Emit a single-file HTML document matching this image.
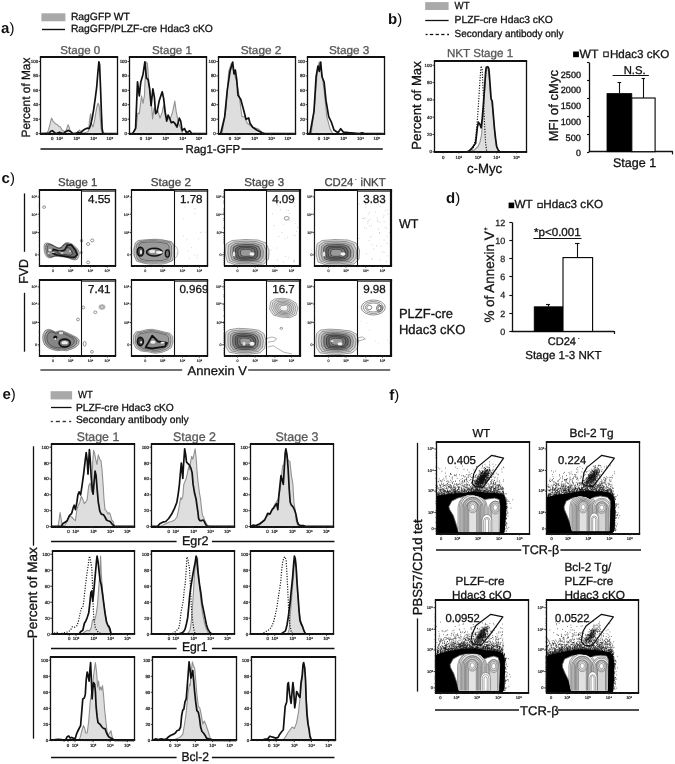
<!DOCTYPE html>
<html><head><meta charset="utf-8"><style>
html,body{margin:0;padding:0;background:#fff;overflow:hidden}
svg{display:block;filter:blur(0.35px)}
text{font-family:"Liberation Sans",sans-serif;text-rendering:geometricPrecision}
</style></head><body>
<svg xmlns="http://www.w3.org/2000/svg" width="675" height="764" viewBox="0 0 675 764" font-family="Liberation Sans, sans-serif">
<rect width="675" height="764" fill="#fff"/>
<text x="1.1" y="32.8" font-size="15" fill="#111"><tspan font-weight="bold">a</tspan>)</text>
<rect x="41.40" y="13.30" width="24.00" height="8.00" fill="#a9a9a9" stroke="none" stroke-width="0"/>
<line x1="42.00" y1="29.50" x2="65.00" y2="29.50" stroke="#111" stroke-width="1.4"/>
<text x="70.90" y="20.40" font-size="10.4" fill="#111" stroke="#111" stroke-width="0.3" textLength="59.03" lengthAdjust="spacingAndGlyphs">RagGFP WT</text>
<text x="70.90" y="31.50" font-size="10.4" fill="#111" stroke="#111" stroke-width="0.3" textLength="141.96" lengthAdjust="spacingAndGlyphs">RagGFP/PLZF-cre Hdac3 cKO</text>
<text x="60.30" y="54.20" font-size="11.4" fill="#585858" stroke="#585858" stroke-width="0.3" textLength="40.00" lengthAdjust="spacingAndGlyphs">Stage 0</text>
<text x="152.10" y="54.20" font-size="11.4" fill="#585858" stroke="#585858" stroke-width="0.3" textLength="39.80" lengthAdjust="spacingAndGlyphs">Stage 1</text>
<text x="240.70" y="54.20" font-size="11.4" fill="#585858" stroke="#585858" stroke-width="0.3" textLength="40.70" lengthAdjust="spacingAndGlyphs">Stage 2</text>
<text x="328.90" y="54.20" font-size="11.4" fill="#585858" stroke="#585858" stroke-width="0.3" textLength="40.50" lengthAdjust="spacingAndGlyphs">Stage 3</text>
<text x="30.00" y="137.40" font-size="12" fill="#111" stroke="#111" stroke-width="0.3" textLength="79.80" lengthAdjust="spacingAndGlyphs" transform="rotate(-90 30.00 137.40)">Percent of Max</text>
<line x1="40.50" y1="149.00" x2="183.00" y2="149.00" stroke="#111" stroke-width="1.7"/>
<line x1="241.50" y1="149.00" x2="382.80" y2="149.00" stroke="#111" stroke-width="1.7"/>
<text x="185.40" y="153.00" font-size="11.6" fill="#111" stroke="#111" stroke-width="0.3" textLength="54.84" lengthAdjust="spacingAndGlyphs">Rag1-GFP</text>
<text x="388" y="23.9" font-size="15" fill="#111"><tspan font-weight="bold">b</tspan>)</text>
<rect x="425.20" y="2.10" width="23.40" height="7.90" fill="#a9a9a9" stroke="none" stroke-width="0"/>
<line x1="425.20" y1="20.50" x2="448.60" y2="20.50" stroke="#111" stroke-width="1.3"/>
<line x1="425.60" y1="34.50" x2="427.60" y2="34.50" stroke="#111" stroke-width="1.3"/>
<line x1="429.80" y1="34.50" x2="433.20" y2="34.50" stroke="#111" stroke-width="1.3"/>
<line x1="435.60" y1="34.50" x2="438.90" y2="34.50" stroke="#111" stroke-width="1.3"/>
<line x1="441.20" y1="34.50" x2="444.50" y2="34.50" stroke="#111" stroke-width="1.3"/>
<line x1="447.20" y1="34.50" x2="449.00" y2="34.50" stroke="#111" stroke-width="1.3"/>
<text x="454.60" y="8.70" font-size="10.3" fill="#111" stroke="#111" stroke-width="0.3" textLength="15.01" lengthAdjust="spacingAndGlyphs">WT</text>
<text x="454.60" y="22.80" font-size="10.3" fill="#111" stroke="#111" stroke-width="0.3" textLength="98.25" lengthAdjust="spacingAndGlyphs">PLZF-cre Hdac3 cKO</text>
<text x="454.60" y="36.90" font-size="10.3" fill="#111" stroke="#111" stroke-width="0.3" textLength="108.90" lengthAdjust="spacingAndGlyphs">Secondary antibody only</text>
<text x="447.00" y="57.40" font-size="11.6" fill="#585858" stroke="#585858" stroke-width="0.3" textLength="66.10" lengthAdjust="spacingAndGlyphs">NKT Stage 1</text>
<text x="420.80" y="149.70" font-size="13.2" fill="#111" stroke="#111" stroke-width="0.3" textLength="88.47" lengthAdjust="spacingAndGlyphs" transform="rotate(-90 420.80 149.70)">Percent of Max</text>
<text x="466.90" y="172.50" font-size="13.4" fill="#111" stroke="#111" stroke-width="0.3" textLength="35.22" lengthAdjust="spacingAndGlyphs">c-Myc</text>
<line x1="589.50" y1="62.60" x2="589.50" y2="152.00" stroke="#111" stroke-width="1.3"/>
<line x1="588.70" y1="151.50" x2="672.80" y2="151.50" stroke="#111" stroke-width="1.3"/>
<line x1="672.50" y1="151.20" x2="672.50" y2="154.40" stroke="#111" stroke-width="1.2"/>
<line x1="587.00" y1="152.50" x2="589.30" y2="152.50" stroke="#111" stroke-width="1.1"/>
<line x1="587.00" y1="134.50" x2="589.30" y2="134.50" stroke="#111" stroke-width="1.1"/>
<line x1="587.00" y1="116.50" x2="589.30" y2="116.50" stroke="#111" stroke-width="1.1"/>
<line x1="587.00" y1="98.50" x2="589.30" y2="98.50" stroke="#111" stroke-width="1.1"/>
<line x1="587.00" y1="80.50" x2="589.30" y2="80.50" stroke="#111" stroke-width="1.1"/>
<line x1="587.00" y1="62.50" x2="589.30" y2="62.50" stroke="#111" stroke-width="1.1"/>
<text x="576.00" y="156.10" font-size="9.1" fill="#111" stroke="#111" stroke-width="0.3" textLength="4.96" lengthAdjust="spacingAndGlyphs">0</text>
<text x="565.60" y="140.60" font-size="9.1" fill="#111" stroke="#111" stroke-width="0.3" textLength="15.38" lengthAdjust="spacingAndGlyphs">500</text>
<text x="560.80" y="124.50" font-size="9.1" fill="#111" stroke="#111" stroke-width="0.3" textLength="20.24" lengthAdjust="spacingAndGlyphs">1000</text>
<text x="560.80" y="109.10" font-size="9.1" fill="#111" stroke="#111" stroke-width="0.3" textLength="20.24" lengthAdjust="spacingAndGlyphs">1500</text>
<text x="560.80" y="93.20" font-size="9.1" fill="#111" stroke="#111" stroke-width="0.3" textLength="20.24" lengthAdjust="spacingAndGlyphs">2000</text>
<text x="560.80" y="78.10" font-size="9.1" fill="#111" stroke="#111" stroke-width="0.3" textLength="20.24" lengthAdjust="spacingAndGlyphs">2500</text>
<rect x="607.00" y="93.60" width="24.80" height="58.10" fill="#000" stroke="#000" stroke-width="0.8"/>
<rect x="631.80" y="98.00" width="23.30" height="53.70" fill="#fff" stroke="#000" stroke-width="1.1"/>
<line x1="619.50" y1="82.50" x2="619.50" y2="93.60" stroke="#111" stroke-width="1.1"/>
<line x1="617.50" y1="82.50" x2="621.20" y2="82.50" stroke="#111" stroke-width="1.1"/>
<line x1="643.50" y1="78.90" x2="643.50" y2="98.00" stroke="#111" stroke-width="1.1"/>
<line x1="641.60" y1="78.50" x2="644.90" y2="78.50" stroke="#111" stroke-width="1.1"/>
<line x1="612.60" y1="75.50" x2="648.90" y2="75.50" stroke="#111" stroke-width="1.2"/>
<text x="623.70" y="74.00" font-size="11.3" fill="#111" stroke="#111" stroke-width="0.3" textLength="21.98" lengthAdjust="spacingAndGlyphs">N.S.</text>
<rect x="573.10" y="51.50" width="5.80" height="5.70" fill="#000" stroke="none" stroke-width="0"/>
<text x="579.50" y="57.70" font-size="12.1" fill="#111" stroke="#111" stroke-width="0.3" textLength="18.91" lengthAdjust="spacingAndGlyphs">WT</text>
<rect x="603.80" y="52.00" width="4.40" height="4.70" fill="#fff" stroke="#000" stroke-width="1"/>
<text x="609.90" y="57.70" font-size="11.6" fill="#111" stroke="#111" stroke-width="0.3" textLength="59.42" lengthAdjust="spacingAndGlyphs">Hdac3 cKO</text>
<text x="557.80" y="141.30" font-size="13" fill="#111" stroke="#111" stroke-width="0.3" textLength="71.28" lengthAdjust="spacingAndGlyphs" transform="rotate(-90 557.80 141.30)">MFI of cMyc</text>
<text x="612.90" y="167.20" font-size="12.6" fill="#111" stroke="#111" stroke-width="0.3" textLength="43.24" lengthAdjust="spacingAndGlyphs">Stage 1</text>
<text x="1.6" y="183.1" font-size="15" fill="#111"><tspan font-weight="bold">c</tspan>)</text>
<path d="M44.3,244.3 L46.0,243.0 L48.7,243.3 L52.0,244.7 L55.3,246.7 L58.7,248.0 L61.3,247.3 L63.3,244.7 L66.0,242.7 L68.7,242.7 L72.0,244.0 L75.3,246.7 L78.0,249.3 L79.3,252.7 L78.7,256.7 L77.3,259.3 L74.7,260.0 L72.0,259.3 L68.7,258.0 L65.3,257.3 L61.3,256.7 L58.0,256.3 L54.7,256.3 L52.0,257.3 L49.3,258.0 L46.7,256.7 L45.0,254.0 L44.3,250.7 L44.0,247.3Z" fill="#c4c4c4" stroke="#555" stroke-width="0.6" stroke-linejoin="round"/>
<path d="M46.0,245.0 L47.5,243.8 L49.9,244.1 L52.9,245.3 L55.9,247.1 L58.9,248.3 L61.3,247.7 L63.1,245.3 L65.5,243.5 L67.9,243.5 L70.9,244.7 L73.9,247.1 L76.3,249.5 L77.5,252.5 L76.9,256.1 L75.7,258.5 L73.3,259.1 L70.9,258.5 L67.9,257.3 L64.9,256.7 L61.3,256.1 L58.3,255.8 L55.3,255.8 L52.9,256.7 L50.5,257.3 L48.1,256.1 L46.6,253.7 L46.0,250.7 L45.7,247.7Z" fill="#a2a2a2" stroke="#333" stroke-width="0.6" stroke-linejoin="round"/>
<path d="M47.6,245.7 L48.9,244.6 L51.1,244.9 L53.7,246.0 L56.4,247.6 L59.1,248.6 L61.2,248.1 L62.8,246.0 L64.9,244.4 L67.1,244.4 L69.7,245.4 L72.4,247.6 L74.5,249.7 L75.6,252.4 L75.1,255.6 L74.0,257.7 L71.9,258.2 L69.7,257.7 L67.1,256.6 L64.4,256.1 L61.2,255.6 L58.5,255.3 L55.9,255.3 L53.7,256.1 L51.6,256.6 L49.5,255.6 L48.1,253.4 L47.6,250.8 L47.3,248.1Z" fill="#8e8e8e" stroke="#333" stroke-width="0.6" stroke-linejoin="round"/>
<path d="M53.3,249.3 L60.0,251.3 L64.7,250.0 L67.3,245.3 L71.3,244.7 L75.3,250.0 L77.3,254.7 L74.7,257.3 L69.3,257.0 L62.7,256.0 L56.7,255.0 L52.7,253.3Z" fill="#6a6a6a" stroke="#111" stroke-width="1.6" stroke-linejoin="round"/>
<path d="M58.2,250.4 L62.2,251.6 L65.0,250.8 L66.6,248.0 L69.0,247.6 L71.4,250.8 L72.6,253.6 L71.0,255.2 L67.8,255.0 L63.8,254.4 L60.2,253.8 L57.8,252.8Z" fill="#8a8a8a" stroke="#222" stroke-width="0.7" stroke-linejoin="round"/>
<ellipse cx="50.0" cy="250.0" rx="1.6" ry="1.0" fill="#eee"/>
<ellipse cx="53.3" cy="252.3" rx="1.3" ry="0.8" fill="#eee"/>
<ellipse cx="62.0" cy="253.0" rx="1.5" ry="0.7" fill="#eee"/>
<ellipse cx="70.0" cy="251.3" rx="1.0" ry="0.8" fill="#eee"/>
<ellipse cx="48.7" cy="253.3" rx="1.0" ry="0.8" fill="#eee"/>
<ellipse cx="44.1" cy="207.1" rx="1.5" ry="1.3" fill="none" stroke="#555" stroke-width="0.6"/>
<ellipse cx="81.6" cy="240.7" rx="1.2" ry="1.3" fill="none" stroke="#555" stroke-width="0.6"/>
<ellipse cx="88.1" cy="244.0" rx="1.6" ry="1.5" fill="none" stroke="#555" stroke-width="0.6"/>
<ellipse cx="92.2" cy="240.4" rx="1.6" ry="1.5" fill="none" stroke="#555" stroke-width="0.6"/>
<ellipse cx="88.1" cy="262.4" rx="1.5" ry="1.4" fill="none" stroke="#555" stroke-width="0.6"/>
<ellipse cx="81.3" cy="252.6" rx="1.0" ry="1.3" fill="none" stroke="#555" stroke-width="0.6"/>
<path d="M135.2,243.1 L138.1,240.5 L144.8,239.8 L154.4,239.4 L163.3,240.1 L171.5,241.6 L173.7,245.3 L173.7,255.7 L172.2,260.9 L165.6,263.1 L154.4,263.5 L143.3,263.1 L136.7,261.3 L134.4,256.4 L134.1,248.3Z" fill="#cdcdcd" stroke="#555" stroke-width="0.55" stroke-linejoin="round"/>
<path d="M137.0,243.9 L139.6,241.5 L145.6,240.9 L154.3,240.5 L162.3,241.2 L169.6,242.5 L171.6,245.9 L171.6,255.2 L170.3,259.9 L164.3,261.9 L154.3,262.2 L144.3,261.9 L138.3,260.2 L136.3,255.9 L136.0,248.5Z" fill="#adadad" stroke="#444" stroke-width="0.5" stroke-linejoin="round"/>
<path d="M139.1,244.8 L141.4,242.8 L146.6,242.2 L154.1,241.9 L161.1,242.5 L167.4,243.7 L169.2,246.5 L169.2,254.6 L168.0,258.7 L162.8,260.4 L154.1,260.7 L145.5,260.4 L140.3,259.0 L138.5,255.2 L138.2,248.9Z" fill="#9a9a9a" stroke="#333" stroke-width="0.5" stroke-linejoin="round"/>
<ellipse cx="140.4" cy="251.6" rx="3.1" ry="4.4" fill="#555" stroke="#111" stroke-width="1.6"/>
<ellipse cx="141.0" cy="252.0" rx="1.0" ry="2.2" fill="#eee"/>
<ellipse cx="154.4" cy="252.1" rx="7.8" ry="3.9" fill="#8a8a8a" stroke="#111" stroke-width="1.6"/>
<ellipse cx="152.2" cy="251.4" rx="3.0" ry="1.6" fill="#e8e8e8"/>
<ellipse cx="159.3" cy="252.4" rx="3.3" ry="1.3" fill="#f4f4f4"/>
<ellipse cx="167.4" cy="253.5" rx="2.1" ry="3.6" fill="#777" stroke="#111" stroke-width="1.3"/>
<ellipse cx="155.5" cy="252.0" rx="22.5" ry="12.8" fill="none" stroke="#777" stroke-width="0.5"/>
<path transform="scale(0.1)" d="M1829 2363h6m32 34h6m68-307h6m-183 440h6m65-343h6m208 134h6m-52 4h6m-64-186h6m-7 409h6m-38-72h6m37-387h6m19 301h6m-139-319h6m158 251h6m-49 232h6m-7 24h6m-98-68h6m8 76h6" stroke="#999" stroke-width="6" fill="none"/>
<path d="M226.0,244.0 L232.0,240.5 L245.0,239.5 L258.0,240.0 L266.0,243.0 L269.0,250.0 L268.5,259.0 L264.0,264.0 L250.0,265.3 L236.0,265.0 L227.5,262.0 L225.3,254.0Z" fill="#e4e4e4" stroke="#555" stroke-width="0.55" stroke-linejoin="round"/>
<path d="M228.4,245.1 L233.7,242.0 L245.1,241.1 L256.5,241.6 L263.6,244.2 L266.2,250.4 L265.8,258.3 L261.8,262.7 L249.5,263.8 L237.2,263.5 L229.7,260.9 L227.8,253.9Z" fill="#cbcbcb" stroke="#555" stroke-width="0.55" stroke-linejoin="round"/>
<path d="M230.9,246.2 L235.4,243.5 L245.2,242.8 L255.1,243.2 L261.1,245.4 L263.4,250.7 L263.0,257.5 L259.6,261.3 L249.0,262.3 L238.4,262.1 L232.0,259.8 L230.3,253.8Z" fill="#adadad" stroke="#555" stroke-width="0.55" stroke-linejoin="round"/>
<path d="M233.3,247.3 L237.1,245.1 L245.4,244.4 L253.6,244.7 L258.7,246.6 L260.6,251.1 L260.3,256.8 L257.4,260.0 L248.5,260.8 L239.6,260.6 L234.2,258.7 L232.8,253.6Z" fill="#858585" stroke="#1a1a1a" stroke-width="0.55" stroke-linejoin="round"/>
<path d="M235.7,248.4 L238.8,246.6 L245.5,246.1 L252.2,246.3 L256.3,247.9 L257.8,251.5 L257.6,256.1 L255.3,258.7 L248.1,259.3 L240.9,259.2 L236.5,257.6 L235.4,253.5Z" fill="#666" stroke="#1a1a1a" stroke-width="0.55" stroke-linejoin="round"/>
<path d="M238.1,249.5 L240.5,248.1 L245.6,247.7 L250.7,247.9 L253.9,249.1 L255.0,251.8 L254.8,255.4 L253.1,257.3 L247.6,257.8 L242.1,257.7 L238.7,256.5 L237.9,253.4Z" fill="#7a7a7a" stroke="#1a1a1a" stroke-width="0.55" stroke-linejoin="round"/>
<path d="M240.6,250.6 L242.2,249.6 L245.7,249.3 L249.3,249.5 L251.4,250.3 L252.2,252.2 L252.1,254.6 L250.9,256.0 L247.1,256.3 L243.3,256.3 L241.0,255.4 L240.4,253.3Z" fill="#999" stroke="#1a1a1a" stroke-width="0.55" stroke-linejoin="round"/>
<ellipse cx="252.0" cy="254.0" rx="2.5" ry="1.8" fill="#f2f2f2"/>
<ellipse cx="234.0" cy="254.0" rx="1.3" ry="2.5" fill="#e6e6e6"/>
<ellipse cx="286.7" cy="218.3" rx="2.5" ry="1.8" fill="none" stroke="#555" stroke-width="0.6"/>
<path transform="scale(0.1)" d="M2944 2063h6m-229 75h6m243 135h6m-108-83h6m-42 52h6m-53 124h6m64 198h6m24 15h6m46 38h6m-62-513h6m51 497h6m7-245h6m-63-222h6m29 225h6m-170-317h6m165 575h6m-235-118h6m90-403h6m-41 384h6m168-450h6m-84 1h6m26 177h6m42 403h6m-118 11h6m-65-571h6m81-29h6m-127 234h6m118-156h6m-176 441h6m75 56h6m169-360h6m-137 88h6m49 47h6m-31 15h6m108-70h6" stroke="#888" stroke-width="6" fill="none"/>
<path d="M317.0,244.0 L322.0,240.5 L335.0,239.5 L348.0,240.0 L356.0,243.0 L359.5,250.0 L359.0,259.0 L354.0,264.0 L340.0,265.3 L326.0,265.0 L318.0,262.0 L316.0,254.0Z" fill="#e4e4e4" stroke="#555" stroke-width="0.55" stroke-linejoin="round"/>
<path d="M319.3,245.1 L323.7,242.0 L335.1,241.1 L346.5,241.6 L353.6,244.2 L356.6,250.4 L356.2,258.3 L351.8,262.7 L339.5,263.8 L327.2,263.5 L320.2,260.9 L318.4,253.9Z" fill="#cbcbcb" stroke="#555" stroke-width="0.55" stroke-linejoin="round"/>
<path d="M321.6,246.2 L325.4,243.5 L335.2,242.8 L345.1,243.2 L351.1,245.4 L353.8,250.7 L353.4,257.5 L349.6,261.3 L339.0,262.3 L328.4,262.1 L322.4,259.8 L320.9,253.8Z" fill="#adadad" stroke="#555" stroke-width="0.55" stroke-linejoin="round"/>
<path d="M323.9,247.3 L327.1,245.1 L335.4,244.4 L343.6,244.7 L348.7,246.6 L350.9,251.1 L350.6,256.8 L347.4,260.0 L338.5,260.8 L329.6,260.6 L324.6,258.7 L323.3,253.6Z" fill="#858585" stroke="#1a1a1a" stroke-width="0.55" stroke-linejoin="round"/>
<path d="M326.2,248.4 L328.8,246.6 L335.5,246.1 L342.2,246.3 L346.3,247.9 L348.1,251.5 L347.8,256.1 L345.3,258.7 L338.1,259.3 L330.9,259.2 L326.7,257.6 L325.7,253.5Z" fill="#666" stroke="#1a1a1a" stroke-width="0.55" stroke-linejoin="round"/>
<path d="M328.5,249.5 L330.5,248.1 L335.6,247.7 L340.7,247.9 L343.9,249.1 L345.2,251.8 L345.0,255.4 L343.1,257.3 L337.6,257.8 L332.1,257.7 L328.9,256.5 L328.1,253.4Z" fill="#7a7a7a" stroke="#1a1a1a" stroke-width="0.55" stroke-linejoin="round"/>
<path d="M330.8,250.6 L332.2,249.6 L335.7,249.3 L339.3,249.5 L341.4,250.3 L342.4,252.2 L342.2,254.6 L340.9,256.0 L337.1,256.3 L333.3,256.3 L331.1,255.4 L330.6,253.3Z" fill="#999" stroke="#1a1a1a" stroke-width="0.55" stroke-linejoin="round"/>
<ellipse cx="343.0" cy="254.0" rx="2.5" ry="1.8" fill="#f2f2f2"/>
<ellipse cx="324.0" cy="254.0" rx="1.3" ry="2.5" fill="#e6e6e6"/>
<path transform="scale(0.1)" d="M3718 2450h6m-68-260h6m231 136h6m-144-316h6m-48 353h6m-133 22h6m190-345h6m-7 252h6m10-70h6m3 239h6m-225-420h6m203 559h6m-142-314h6m104-85h6m-80-4h6m-4 175h6m-28-135h6m145-217h6m-71 439h6m-89-318h6m152 10h6m-203 122h6m157-207h6m-126 144h6m158 65h6m1-167h6m-172 298h6m169-123h6m-217-205h6m91 43h6m83 402h6m-205-347h6m193 225h6m-6-184h6m-222-33h6m206-13h6m-149 90h6m17-4h6m155-157h6m-300 488h6m275 27h6m-149-23h6m152-451h6m-64 381h6m-33-197h6m-126-111h6m-25-169h6m109 136h6m65-150h6m24 402h6m1 126h6m-14-198h6m-290 104h6m45-276h6m151 139h6m-86 257h6m58-370h6m-121 322h6m66-49h6m-46-363h6" stroke="#888" stroke-width="6" fill="none"/>
<path d="M43.3,333.7 L45.3,330.3 L48.7,329.3 L52.0,330.3 L55.3,332.0 L58.7,331.0 L62.0,330.7 L65.3,332.0 L69.3,333.7 L73.3,335.7 L77.3,337.7 L79.3,340.3 L78.7,344.3 L76.0,347.0 L72.0,349.0 L66.7,350.7 L62.0,350.3 L57.3,350.7 L52.7,349.7 L48.0,347.7 L44.7,345.0 L43.0,341.0 L42.7,337.0Z" fill="#bdbdbd" stroke="#555" stroke-width="0.6" stroke-linejoin="round"/>
<path d="M45.3,334.4 L47.1,331.4 L50.0,330.6 L52.9,331.4 L55.9,332.9 L58.8,332.0 L61.7,331.7 L64.7,332.9 L68.2,334.4 L71.7,336.1 L75.2,337.9 L77.0,340.2 L76.4,343.8 L74.0,346.1 L70.5,347.9 L65.8,349.3 L61.7,349.0 L57.6,349.3 L53.5,348.4 L49.4,346.7 L46.5,344.3 L45.0,340.8 L44.7,337.3Z" fill="#9c9c9c" stroke="#333" stroke-width="0.6" stroke-linejoin="round"/>
<path d="M47.4,335.1 L48.9,332.6 L51.4,331.9 L53.9,332.6 L56.4,333.9 L58.9,333.1 L61.4,332.9 L63.9,333.9 L66.9,335.1 L69.9,336.6 L72.9,338.1 L74.4,340.1 L73.9,343.1 L71.9,345.1 L68.9,346.6 L64.9,347.9 L61.4,347.6 L57.9,347.9 L54.4,347.1 L50.9,345.6 L48.4,343.6 L47.2,340.6 L46.9,337.6Z" fill="#868686" stroke="#333" stroke-width="0.6" stroke-linejoin="round"/>
<ellipse cx="64.7" cy="343.0" rx="5.6" ry="3.9" fill="#777" stroke="#111" stroke-width="1.6"/>
<ellipse cx="64.7" cy="342.7" rx="3.2" ry="1.6" fill="#eee"/>
<ellipse cx="55.3" cy="337.3" rx="2.0" ry="1.8" fill="#111"/>
<ellipse cx="55.3" cy="338.9" rx="0.9" ry="0.8" fill="#fff"/>
<ellipse cx="61.0" cy="333.0" rx="2.2" ry="1.2" fill="#ddd"/>
<ellipse cx="102.0" cy="307.0" rx="3" ry="2.2" fill="none" stroke="#555" stroke-width="0.6"/>
<ellipse cx="102.0" cy="307.0" rx="1.6" ry="1.2" fill="none" stroke="#555" stroke-width="0.6"/>
<ellipse cx="95.3" cy="312.3" rx="1.6" ry="1.3" fill="none" stroke="#555" stroke-width="0.6"/>
<ellipse cx="83.3" cy="307.5" rx="1.4" ry="1.4" fill="none" stroke="#555" stroke-width="0.6"/>
<ellipse cx="78.0" cy="319.5" rx="1.4" ry="1.4" fill="none" stroke="#555" stroke-width="0.6"/>
<ellipse cx="91.9" cy="351.8" rx="1.4" ry="1.4" fill="none" stroke="#555" stroke-width="0.6"/>
<ellipse cx="84.7" cy="343.8" rx="1.4" ry="2.5" fill="none" stroke="#555" stroke-width="0.6"/>
<path d="M133.7,334.8 L135.9,331.9 L141.1,331.1 L147.0,329.6 L152.2,329.3 L158.1,330.4 L164.1,331.9 L170.0,333.3 L172.6,336.3 L173.0,342.2 L171.5,347.4 L167.0,350.4 L161.1,352.6 L154.4,353.3 L148.5,351.9 L141.1,351.1 L135.9,348.1 L133.3,343.0Z" fill="#cdcdcd" stroke="#555" stroke-width="0.55" stroke-linejoin="round"/>
<path d="M135.7,335.4 L137.7,332.7 L142.3,332.0 L147.7,330.7 L152.3,330.4 L157.7,331.4 L163.0,332.7 L168.3,334.0 L170.7,336.7 L171.0,342.0 L169.7,346.7 L165.7,349.4 L160.3,351.4 L154.3,352.0 L149.0,350.7 L142.3,350.0 L137.7,347.4 L135.3,342.7Z" fill="#adadad" stroke="#444" stroke-width="0.5" stroke-linejoin="round"/>
<path d="M138.0,336.1 L139.8,333.7 L143.8,333.2 L148.4,332.0 L152.5,331.7 L157.1,332.6 L161.7,333.7 L166.3,334.9 L168.4,337.2 L168.7,341.8 L167.5,345.9 L164.0,348.2 L159.4,349.9 L154.2,350.5 L149.6,349.3 L143.8,348.8 L139.8,346.5 L137.7,342.4Z" fill="#9a9a9a" stroke="#333" stroke-width="0.5" stroke-linejoin="round"/>
<ellipse cx="140.4" cy="341.5" rx="3.0" ry="4.1" fill="#444" stroke="#111" stroke-width="1.6"/>
<ellipse cx="141.1" cy="342.2" rx="0.9" ry="1.3" fill="#eee"/>
<path d="M145.6,347.4 L152.2,335.6 L158.1,341.5 L167.0,343.0 L164.8,346.7 L152.2,348.5Z" fill="#8a8a8a" stroke="#111" stroke-width="1.8" stroke-linejoin="round"/>
<ellipse cx="153.0" cy="342.2" rx="2.6" ry="1.6" fill="#eee"/>
<ellipse cx="162.6" cy="342.8" rx="2.2" ry="1.0" fill="#f0f0f0"/>
<path d="M225.9,332.3 L229.3,329.7 L238.7,328.3 L249.3,328.9 L258.7,330.2 L264.0,333.7 L265.9,340.3 L264.8,348.3 L260.0,352.9 L249.3,354.2 L238.7,353.9 L229.3,352.3 L225.9,347.0 L225.3,339.0Z" fill="#e4e4e4" stroke="#555" stroke-width="0.55" stroke-linejoin="round"/>
<path d="M228.2,333.5 L231.3,331.1 L239.5,330.0 L248.8,330.4 L257.0,331.6 L261.7,334.6 L263.4,340.5 L262.4,347.5 L258.2,351.5 L248.8,352.7 L239.5,352.4 L231.3,351.0 L228.2,346.4 L227.8,339.3Z" fill="#cbcbcb" stroke="#555" stroke-width="0.55" stroke-linejoin="round"/>
<path d="M230.6,334.6 L233.2,332.6 L240.3,331.6 L248.4,332.0 L255.4,333.0 L259.5,335.6 L260.9,340.7 L260.1,346.7 L256.4,350.1 L248.4,351.2 L240.3,351.0 L233.2,349.7 L230.6,345.7 L230.2,339.6Z" fill="#adadad" stroke="#555" stroke-width="0.55" stroke-linejoin="round"/>
<path d="M233.0,335.7 L235.2,334.0 L241.1,333.2 L247.9,333.5 L253.8,334.4 L257.2,336.6 L258.4,340.8 L257.7,345.9 L254.7,348.8 L247.9,349.6 L241.1,349.5 L235.2,348.4 L233.0,345.1 L232.6,340.0Z" fill="#858585" stroke="#1a1a1a" stroke-width="0.55" stroke-linejoin="round"/>
<path d="M235.3,336.9 L237.1,335.5 L241.9,334.8 L247.4,335.1 L252.2,335.8 L254.9,337.6 L255.9,341.0 L255.3,345.1 L252.9,347.4 L247.4,348.1 L241.9,348.0 L237.1,347.2 L235.3,344.4 L235.0,340.3Z" fill="#666" stroke="#1a1a1a" stroke-width="0.55" stroke-linejoin="round"/>
<path d="M237.7,338.0 L239.0,337.0 L242.7,336.4 L246.9,336.6 L250.6,337.2 L252.7,338.5 L253.4,341.1 L253.0,344.3 L251.1,346.1 L246.9,346.6 L242.7,346.5 L239.0,345.9 L237.7,343.8 L237.5,340.6Z" fill="#7a7a7a" stroke="#1a1a1a" stroke-width="0.55" stroke-linejoin="round"/>
<path d="M240.0,339.1 L241.0,338.4 L243.5,338.0 L246.4,338.2 L249.0,338.6 L250.4,339.5 L250.9,341.3 L250.6,343.5 L249.3,344.7 L246.4,345.1 L243.5,345.0 L241.0,344.6 L240.0,343.1 L239.9,340.9Z" fill="#999" stroke="#1a1a1a" stroke-width="0.55" stroke-linejoin="round"/>
<ellipse cx="252.0" cy="343.8" rx="2.5" ry="2" fill="#f2f2f2"/>
<ellipse cx="244.0" cy="343.8" rx="1.5" ry="2" fill="#ddd"/>
<path d="M270.7,301.7 L274.7,299.0 L282.7,298.2 L289.9,299.5 L296.0,303.0 L297.9,308.3 L296.0,315.0 L289.9,317.7 L281.3,317.1 L273.3,315.0 L269.6,309.1Z" fill="#f2f2f2" stroke="#555" stroke-width="0.55" stroke-linejoin="round"/>
<path d="M272.6,302.6 L276.0,300.3 L282.9,299.6 L289.0,300.8 L294.3,303.8 L295.9,308.3 L294.3,314.1 L289.0,316.3 L281.7,315.9 L274.8,314.1 L271.6,309.0Z" fill="#e6e6e6" stroke="#555" stroke-width="0.55" stroke-linejoin="round"/>
<path d="M274.4,303.6 L277.3,301.6 L283.0,301.1 L288.2,302.0 L292.6,304.5 L293.9,308.3 L292.6,313.1 L288.2,315.0 L282.1,314.6 L276.4,313.1 L273.7,308.9Z" fill="#dadada" stroke="#555" stroke-width="0.55" stroke-linejoin="round"/>
<path d="M276.3,304.5 L278.6,303.0 L283.2,302.5 L287.4,303.3 L290.9,305.3 L292.0,308.3 L290.9,312.2 L287.4,313.7 L282.5,313.4 L277.9,312.2 L275.7,308.8Z" fill="#d0d0d0" stroke="#555" stroke-width="0.55" stroke-linejoin="round"/>
<path d="M278.2,305.4 L280.0,304.3 L283.4,303.9 L286.5,304.5 L289.2,306.0 L290.0,308.3 L289.2,311.2 L286.5,312.4 L282.8,312.1 L279.4,311.2 L277.8,308.7Z" fill="#dadada" stroke="#555" stroke-width="0.55" stroke-linejoin="round"/>
<path d="M280.1,306.4 L281.3,305.6 L283.6,305.4 L285.7,305.8 L287.5,306.8 L288.0,308.3 L287.5,310.3 L285.7,311.1 L283.2,310.9 L280.9,310.3 L279.8,308.6Z" fill="#eee" stroke="#555" stroke-width="0.55" stroke-linejoin="round"/>
<ellipse cx="285.3" cy="307.0" rx="1.5" ry="1.2" fill="#fff"/>
<path d="M265.3,339.0 L272.0,336.9 L276.5,338.5 L274.7,341.1 L268.0,342.2" fill="none" stroke="#666" stroke-width="0.5" stroke-linejoin="round"/>
<path d="M268.0,347.0 L273.3,345.7 L277.3,348.3 L284.0,352.3 L292.0,353.9" fill="none" stroke="#666" stroke-width="0.5" stroke-linejoin="round"/>
<ellipse cx="281.3" cy="328.3" rx="1.3" ry="1.0" fill="none" stroke="#555" stroke-width="0.6"/>
<path d="M316.5,333.7 L320.0,330.2 L329.3,329.1 L340.0,329.7 L350.7,331.0 L356.5,334.2 L358.7,340.3 L357.3,348.3 L352.0,352.9 L340.0,354.5 L329.3,354.2 L320.0,352.9 L316.5,347.5 L316.0,340.3Z" fill="#e4e4e4" stroke="#555" stroke-width="0.55" stroke-linejoin="round"/>
<path d="M319.1,334.6 L322.1,331.6 L330.3,330.7 L339.7,331.1 L349.0,332.3 L354.2,335.1 L356.1,340.5 L354.9,347.5 L350.2,351.5 L339.7,352.9 L330.3,352.7 L322.1,351.5 L319.1,346.8 L318.6,340.5Z" fill="#cbcbcb" stroke="#555" stroke-width="0.55" stroke-linejoin="round"/>
<path d="M321.6,335.6 L324.2,333.0 L331.3,332.2 L339.4,332.6 L347.4,333.6 L351.9,336.0 L353.5,340.7 L352.5,346.7 L348.4,350.1 L339.4,351.4 L331.3,351.2 L324.2,350.1 L321.6,346.1 L321.2,340.7Z" fill="#adadad" stroke="#555" stroke-width="0.55" stroke-linejoin="round"/>
<path d="M324.1,336.6 L326.3,334.4 L332.2,333.7 L339.0,334.0 L345.8,334.9 L349.5,336.9 L350.9,340.8 L350.0,345.9 L346.7,348.8 L339.0,349.8 L332.2,349.6 L326.3,348.8 L324.1,345.4 L323.8,340.8Z" fill="#858585" stroke="#1a1a1a" stroke-width="0.55" stroke-linejoin="round"/>
<path d="M326.6,337.6 L328.4,335.8 L333.2,335.2 L338.7,335.5 L344.2,336.2 L347.2,337.8 L348.3,341.0 L347.6,345.1 L344.9,347.4 L338.7,348.2 L333.2,348.1 L328.4,347.4 L326.6,344.7 L326.4,341.0Z" fill="#666" stroke="#1a1a1a" stroke-width="0.55" stroke-linejoin="round"/>
<path d="M329.2,338.5 L330.5,337.2 L334.2,336.7 L338.4,337.0 L342.6,337.5 L344.9,338.7 L345.7,341.1 L345.2,344.3 L343.1,346.1 L338.4,346.7 L334.2,346.6 L330.5,346.1 L329.2,344.0 L329.0,341.1Z" fill="#7a7a7a" stroke="#1a1a1a" stroke-width="0.55" stroke-linejoin="round"/>
<path d="M331.7,339.5 L332.6,338.6 L335.2,338.3 L338.1,338.4 L341.0,338.8 L342.5,339.6 L343.1,341.3 L342.8,343.5 L341.3,344.7 L338.1,345.1 L335.2,345.1 L332.6,344.7 L331.7,343.3 L331.5,341.3Z" fill="#999" stroke="#1a1a1a" stroke-width="0.55" stroke-linejoin="round"/>
<ellipse cx="340.0" cy="343.8" rx="2.5" ry="1.6" fill="#f2f2f2"/>
<ellipse cx="332.0" cy="341.1" rx="1.5" ry="1.2" fill="#ddd"/>
<path d="M357.3,337.7 L362.7,336.9 L365.3,339.0 L361.3,340.3 L358.1,341.1" fill="none" stroke="#666" stroke-width="0.5" stroke-linejoin="round"/>
<ellipse cx="373.3" cy="307.5" rx="12" ry="7.5" fill="none" stroke="#444" stroke-width="0.6"/>
<ellipse cx="373.3" cy="307.5" rx="10" ry="6" fill="none" stroke="#444" stroke-width="0.6"/>
<ellipse cx="373.3" cy="307.5" rx="8" ry="4.5" fill="none" stroke="#444" stroke-width="0.6"/>
<ellipse cx="379.5" cy="308.3" rx="3" ry="3.2" fill="none" stroke="#333" stroke-width="0.7"/>
<ellipse cx="379.5" cy="308.3" rx="1.6" ry="1.8" fill="none" stroke="#333" stroke-width="0.7"/>
<ellipse cx="369.3" cy="307.5" rx="2.5" ry="2.2" fill="none" stroke="#444" stroke-width="0.6"/>
<path transform="scale(0.1)" d="M3751 3409h6m-122-15h6m234 9h6m-37-495h6m-69 530h6m-191-367h6m64 159h6m43-34h6m107-292h6m-236 78h6m16-37h6m266 488h6m-290-219h6m67-116h6m5 206h6" stroke="#aaa" stroke-width="6" fill="none"/>
<path d="M39.50 190.00V266.00M115.50 190.00V266.00" stroke="#111" stroke-width="1.2" fill="none"/>
<path d="M38.90 190.00H116.10M38.90 266.00H116.10" stroke="#111" stroke-width="1.8" fill="none"/>
<line x1="82.10" y1="191.00" x2="115.30" y2="191.00" stroke="#666" stroke-width="1.8"/>
<line x1="81.50" y1="190.60" x2="81.50" y2="265.70" stroke="#111" stroke-width="1.1"/>
<line x1="115.50" y1="189.80" x2="115.50" y2="266.00" stroke="#111" stroke-width="1.2"/>
<path d="M131.50 190.00V266.00M207.50 190.00V266.00" stroke="#111" stroke-width="1.2" fill="none"/>
<path d="M130.90 190.00H208.10M130.90 266.00H208.10" stroke="#111" stroke-width="1.8" fill="none"/>
<line x1="174.50" y1="191.00" x2="207.30" y2="191.00" stroke="#666" stroke-width="1.8"/>
<line x1="174.50" y1="190.60" x2="174.50" y2="265.70" stroke="#111" stroke-width="1.1"/>
<line x1="207.50" y1="189.80" x2="207.50" y2="266.00" stroke="#111" stroke-width="1.2"/>
<path d="M224.50 190.00V266.00M300.50 190.00V266.00" stroke="#111" stroke-width="1.2" fill="none"/>
<path d="M223.90 190.00H301.10M223.90 266.00H301.10" stroke="#111" stroke-width="1.8" fill="none"/>
<line x1="267.10" y1="191.00" x2="299.50" y2="191.00" stroke="#666" stroke-width="1.8"/>
<line x1="266.50" y1="190.60" x2="266.50" y2="265.70" stroke="#111" stroke-width="1.1"/>
<line x1="299.50" y1="189.80" x2="299.50" y2="266.00" stroke="#111" stroke-width="1.2"/>
<path d="M314.50 190.00V266.00M391.50 190.00V266.00" stroke="#111" stroke-width="1.2" fill="none"/>
<path d="M313.90 190.00H392.10M313.90 266.00H392.10" stroke="#111" stroke-width="1.8" fill="none"/>
<line x1="357.50" y1="191.00" x2="390.50" y2="191.00" stroke="#666" stroke-width="1.8"/>
<line x1="357.50" y1="190.60" x2="357.50" y2="265.70" stroke="#111" stroke-width="1.1"/>
<line x1="390.50" y1="189.80" x2="390.50" y2="266.00" stroke="#111" stroke-width="1.2"/>
<path d="M39.50 280.00V356.00M115.50 280.00V356.00" stroke="#111" stroke-width="1.2" fill="none"/>
<path d="M38.90 280.00H116.10M38.90 356.00H116.10" stroke="#111" stroke-width="1.8" fill="none"/>
<line x1="82.10" y1="281.00" x2="115.30" y2="281.00" stroke="#666" stroke-width="1.8"/>
<line x1="81.50" y1="280.40" x2="81.50" y2="355.70" stroke="#111" stroke-width="1.1"/>
<line x1="115.50" y1="279.60" x2="115.50" y2="356.00" stroke="#111" stroke-width="1.2"/>
<path d="M131.50 280.00V356.00M207.50 280.00V356.00" stroke="#111" stroke-width="1.2" fill="none"/>
<path d="M130.90 280.00H208.10M130.90 356.00H208.10" stroke="#111" stroke-width="1.8" fill="none"/>
<line x1="174.50" y1="281.00" x2="207.30" y2="281.00" stroke="#666" stroke-width="1.8"/>
<line x1="174.50" y1="280.40" x2="174.50" y2="355.70" stroke="#111" stroke-width="1.1"/>
<line x1="207.50" y1="279.60" x2="207.50" y2="356.00" stroke="#111" stroke-width="1.2"/>
<path d="M224.50 280.00V356.00M300.50 280.00V356.00" stroke="#111" stroke-width="1.2" fill="none"/>
<path d="M223.90 280.00H301.10M223.90 356.00H301.10" stroke="#111" stroke-width="1.8" fill="none"/>
<line x1="267.10" y1="281.00" x2="299.50" y2="281.00" stroke="#666" stroke-width="1.8"/>
<line x1="266.50" y1="280.40" x2="266.50" y2="355.70" stroke="#111" stroke-width="1.1"/>
<line x1="299.50" y1="279.60" x2="299.50" y2="356.00" stroke="#111" stroke-width="1.2"/>
<path d="M314.50 280.00V356.00M391.50 280.00V356.00" stroke="#111" stroke-width="1.2" fill="none"/>
<path d="M313.90 280.00H392.10M313.90 356.00H392.10" stroke="#111" stroke-width="1.8" fill="none"/>
<line x1="357.50" y1="281.00" x2="390.50" y2="281.00" stroke="#666" stroke-width="1.8"/>
<line x1="357.50" y1="280.40" x2="357.50" y2="355.70" stroke="#111" stroke-width="1.1"/>
<line x1="390.50" y1="279.60" x2="390.50" y2="356.00" stroke="#111" stroke-width="1.2"/>
<text x="58.10" y="186.30" font-size="11.4" fill="#474747" stroke="#474747" stroke-width="0.3" textLength="39.30" lengthAdjust="spacingAndGlyphs">Stage 1</text>
<text x="150.70" y="186.30" font-size="11.4" fill="#474747" stroke="#474747" stroke-width="0.3" textLength="40.30" lengthAdjust="spacingAndGlyphs">Stage 2</text>
<text x="244.30" y="186.30" font-size="11.4" fill="#474747" stroke="#474747" stroke-width="0.3" textLength="39.80" lengthAdjust="spacingAndGlyphs">Stage 3</text>
<text x="324.40" y="186.30" font-size="11.4" fill="#474747" stroke="#474747" stroke-width="0.3" textLength="28.95" lengthAdjust="spacingAndGlyphs">CD24</text>
<text x="355.00" y="181.40" font-size="6" fill="#474747" stroke="#474747" stroke-width="0.3" textLength="1.40" lengthAdjust="spacingAndGlyphs">-</text>
<text x="360.40" y="186.30" font-size="11.4" fill="#474747" stroke="#474747" stroke-width="0.3" textLength="25.23" lengthAdjust="spacingAndGlyphs">iNKT</text>
<text x="88.00" y="203.00" font-size="11.6" fill="#111" stroke="#111" stroke-width="0.3" textLength="22.58" lengthAdjust="spacingAndGlyphs">4.55</text>
<text x="180.00" y="203.00" font-size="11.6" fill="#111" stroke="#111" stroke-width="0.3" textLength="22.58" lengthAdjust="spacingAndGlyphs">1.78</text>
<text x="272.20" y="203.00" font-size="11.6" fill="#111" stroke="#111" stroke-width="0.3" textLength="22.58" lengthAdjust="spacingAndGlyphs">4.09</text>
<text x="363.20" y="203.00" font-size="11.6" fill="#111" stroke="#111" stroke-width="0.3" textLength="22.58" lengthAdjust="spacingAndGlyphs">3.83</text>
<text x="88.00" y="292.80" font-size="11.6" fill="#111" stroke="#111" stroke-width="0.3" textLength="22.58" lengthAdjust="spacingAndGlyphs">7.41</text>
<text x="179.40" y="292.80" font-size="11.6" fill="#111" stroke="#111" stroke-width="0.3" textLength="29.03" lengthAdjust="spacingAndGlyphs">0.969</text>
<text x="272.20" y="292.80" font-size="11.6" fill="#111" stroke="#111" stroke-width="0.3" textLength="22.58" lengthAdjust="spacingAndGlyphs">16.7</text>
<text x="363.20" y="292.80" font-size="11.6" fill="#111" stroke="#111" stroke-width="0.3" textLength="22.58" lengthAdjust="spacingAndGlyphs">9.98</text>
<text x="398.90" y="228.40" font-size="12.8" fill="#111" stroke="#111" stroke-width="0.3" textLength="19.40" lengthAdjust="spacingAndGlyphs">WT</text>
<text x="398.90" y="318.10" font-size="13.1" fill="#111" stroke="#111" stroke-width="0.3" textLength="54.09" lengthAdjust="spacingAndGlyphs">PLZF-cre</text>
<text x="398.90" y="333.70" font-size="13.1" fill="#111" stroke="#111" stroke-width="0.3" textLength="66.48" lengthAdjust="spacingAndGlyphs">Hdac3 cKO</text>
<text x="27.60" y="283.80" font-size="13" fill="#111" stroke="#111" stroke-width="0.3" textLength="24.80" lengthAdjust="spacingAndGlyphs" transform="rotate(-90 27.60 283.80)">FVD</text>
<line x1="24.50" y1="193.40" x2="24.50" y2="251.80" stroke="#111" stroke-width="1.3"/>
<line x1="24.50" y1="292.80" x2="24.50" y2="351.70" stroke="#111" stroke-width="1.3"/>
<line x1="40.40" y1="370.00" x2="182.20" y2="370.00" stroke="#444" stroke-width="1.7"/>
<line x1="248.10" y1="370.00" x2="390.20" y2="370.00" stroke="#444" stroke-width="1.7"/>
<text x="187.60" y="374.60" font-size="12.6" fill="#111" stroke="#111" stroke-width="0.3" textLength="59.34" lengthAdjust="spacingAndGlyphs">Annexin V</text>
<text x="446" y="202.6" font-size="15" fill="#111"><tspan font-weight="bold">d</tspan>)</text>
<line x1="512.50" y1="222.40" x2="512.50" y2="332.00" stroke="#111" stroke-width="1.3"/>
<line x1="511.60" y1="331.50" x2="614.00" y2="331.50" stroke="#111" stroke-width="1.3"/>
<line x1="614.50" y1="331.00" x2="614.50" y2="334.00" stroke="#111" stroke-width="1.2"/>
<line x1="509.30" y1="331.50" x2="512.20" y2="331.50" stroke="#111" stroke-width="1.1"/>
<text x="500.20" y="334.70" font-size="9" fill="#2a2a2a" stroke="#2a2a2a" stroke-width="0.3" textLength="5.00" lengthAdjust="spacingAndGlyphs">0</text>
<line x1="509.30" y1="313.50" x2="512.20" y2="313.50" stroke="#111" stroke-width="1.1"/>
<text x="500.20" y="316.53" font-size="9" fill="#2a2a2a" stroke="#2a2a2a" stroke-width="0.3" textLength="5.00" lengthAdjust="spacingAndGlyphs">2</text>
<line x1="509.30" y1="295.50" x2="512.20" y2="295.50" stroke="#111" stroke-width="1.1"/>
<text x="500.20" y="298.36" font-size="9" fill="#2a2a2a" stroke="#2a2a2a" stroke-width="0.3" textLength="5.00" lengthAdjust="spacingAndGlyphs">4</text>
<line x1="509.30" y1="276.50" x2="512.20" y2="276.50" stroke="#111" stroke-width="1.1"/>
<text x="500.20" y="280.19" font-size="9" fill="#2a2a2a" stroke="#2a2a2a" stroke-width="0.3" textLength="5.00" lengthAdjust="spacingAndGlyphs">6</text>
<line x1="509.30" y1="258.50" x2="512.20" y2="258.50" stroke="#111" stroke-width="1.1"/>
<text x="500.20" y="262.02" font-size="9" fill="#2a2a2a" stroke="#2a2a2a" stroke-width="0.3" textLength="5.00" lengthAdjust="spacingAndGlyphs">8</text>
<line x1="509.30" y1="240.50" x2="512.20" y2="240.50" stroke="#111" stroke-width="1.1"/>
<text x="495.20" y="243.85" font-size="9" fill="#2a2a2a" stroke="#2a2a2a" stroke-width="0.3" textLength="10.01" lengthAdjust="spacingAndGlyphs">10</text>
<line x1="509.30" y1="222.50" x2="512.20" y2="222.50" stroke="#111" stroke-width="1.1"/>
<text x="495.20" y="225.68" font-size="9" fill="#2a2a2a" stroke="#2a2a2a" stroke-width="0.3" textLength="10.01" lengthAdjust="spacingAndGlyphs">12</text>
<rect x="534.20" y="306.80" width="28.80" height="24.60" fill="#000" stroke="#000" stroke-width="0.8"/>
<rect x="563.00" y="257.60" width="29.60" height="73.80" fill="#fff" stroke="#000" stroke-width="1.1"/>
<line x1="548.50" y1="304.40" x2="548.50" y2="306.80" stroke="#111" stroke-width="1.1"/>
<line x1="546.00" y1="304.50" x2="550.00" y2="304.50" stroke="#111" stroke-width="1.1"/>
<line x1="577.50" y1="243.70" x2="577.50" y2="257.60" stroke="#111" stroke-width="1.1"/>
<line x1="575.00" y1="243.50" x2="579.50" y2="243.50" stroke="#111" stroke-width="1.1"/>
<line x1="533.40" y1="238.50" x2="581.50" y2="238.50" stroke="#111" stroke-width="1.2"/>
<text x="534.00" y="235.70" font-size="11.6" fill="#111" stroke="#111" stroke-width="0.3" textLength="46.67" lengthAdjust="spacingAndGlyphs">*p&lt;0.001</text>
<rect x="508.60" y="202.60" width="5.60" height="5.60" fill="#000" stroke="none" stroke-width="0"/>
<text x="514.40" y="208.40" font-size="11.8" fill="#111" stroke="#111" stroke-width="0.3" textLength="18.25" lengthAdjust="spacingAndGlyphs">WT</text>
<rect x="537.90" y="203.30" width="4.30" height="4.30" fill="#fff" stroke="#000" stroke-width="1"/>
<text x="543.30" y="208.40" font-size="11.7" fill="#111" stroke="#111" stroke-width="0.3" textLength="59.72" lengthAdjust="spacingAndGlyphs">Hdac3 cKO</text>
<text x="493.80" y="322.60" font-size="13.6" fill="#111" stroke="#111" stroke-width="0.3" textLength="91.24" lengthAdjust="spacingAndGlyphs" transform="rotate(-90 493.80 322.60)">% of Annexin V</text>
<text x="488.30" y="230.50" font-size="7" fill="#111" stroke="#111" stroke-width="0.3" textLength="3.09" lengthAdjust="spacingAndGlyphs" transform="rotate(-90 488.30 230.50)">+</text>
<text x="547.70" y="344.80" font-size="11.1" fill="#111" stroke="#111" stroke-width="0.3" textLength="28.28" lengthAdjust="spacingAndGlyphs">CD24</text>
<text x="578.00" y="340.30" font-size="6" fill="#111" stroke="#111" stroke-width="0.3" textLength="1.40" lengthAdjust="spacingAndGlyphs">-</text>
<text x="525.20" y="358.90" font-size="11.6" fill="#111" stroke="#111" stroke-width="0.3" textLength="76.43" lengthAdjust="spacingAndGlyphs">Stage 1-3 NKT</text>
<text x="2.5" y="399.1" font-size="15" fill="#111"><tspan font-weight="bold">e</tspan>)</text>
<rect x="50.60" y="391.20" width="21.50" height="8.20" fill="#a9a9a9" stroke="none" stroke-width="0"/>
<line x1="51.00" y1="407.50" x2="71.50" y2="407.50" stroke="#111" stroke-width="1.3"/>
<line x1="50.80" y1="421.50" x2="52.80" y2="421.50" stroke="#333" stroke-width="1.4"/>
<line x1="55.80" y1="421.50" x2="59.90" y2="421.50" stroke="#333" stroke-width="1.4"/>
<line x1="62.60" y1="421.50" x2="65.90" y2="421.50" stroke="#333" stroke-width="1.4"/>
<line x1="69.10" y1="421.50" x2="71.20" y2="421.50" stroke="#333" stroke-width="1.4"/>
<text x="78.00" y="397.70" font-size="10.3" fill="#111" stroke="#111" stroke-width="0.3" textLength="14.71" lengthAdjust="spacingAndGlyphs">WT</text>
<text x="75.90" y="411.20" font-size="10.3" fill="#111" stroke="#111" stroke-width="0.3" textLength="97.95" lengthAdjust="spacingAndGlyphs">PLZF-cre Hdac3 cKO</text>
<text x="75.90" y="423.20" font-size="10.3" fill="#111" stroke="#111" stroke-width="0.3" textLength="112.90" lengthAdjust="spacingAndGlyphs">Secondary antibody only</text>
<text x="76.70" y="440.80" font-size="12.5" fill="#585858" stroke="#585858" stroke-width="0.3" textLength="42.59" lengthAdjust="spacingAndGlyphs">Stage 1</text>
<text x="173.00" y="440.80" font-size="12.5" fill="#585858" stroke="#585858" stroke-width="0.3" textLength="42.99" lengthAdjust="spacingAndGlyphs">Stage 2</text>
<text x="275.50" y="440.80" font-size="12.5" fill="#585858" stroke="#585858" stroke-width="0.3" textLength="42.99" lengthAdjust="spacingAndGlyphs">Stage 3</text>
<line x1="51.00" y1="541.50" x2="176.60" y2="541.50" stroke="#111" stroke-width="1.5"/>
<line x1="211.90" y1="541.50" x2="334.50" y2="541.50" stroke="#111" stroke-width="1.5"/>
<text x="181.90" y="544.50" font-size="12.7" fill="#111" stroke="#111" stroke-width="0.3" textLength="26.52" lengthAdjust="spacingAndGlyphs">Egr2</text>
<line x1="51.00" y1="648.50" x2="176.60" y2="648.50" stroke="#111" stroke-width="1.5"/>
<line x1="211.90" y1="648.50" x2="334.50" y2="648.50" stroke="#111" stroke-width="1.5"/>
<text x="181.90" y="651.00" font-size="12.7" fill="#111" stroke="#111" stroke-width="0.3" textLength="25.72" lengthAdjust="spacingAndGlyphs">Egr1</text>
<line x1="51.00" y1="757.50" x2="176.60" y2="757.50" stroke="#111" stroke-width="1.5"/>
<line x1="211.90" y1="757.50" x2="334.50" y2="757.50" stroke="#111" stroke-width="1.5"/>
<text x="181.40" y="761.10" font-size="12.7" fill="#111" stroke="#111" stroke-width="0.3" textLength="27.53" lengthAdjust="spacingAndGlyphs">Bcl-2</text>
<text x="37.00" y="638.20" font-size="13.5" fill="#111" stroke="#111" stroke-width="0.3" textLength="90.88" lengthAdjust="spacingAndGlyphs" transform="rotate(-90 37.00 638.20)">Percent of Max</text>
<line x1="33.50" y1="446.30" x2="33.50" y2="545.70" stroke="#111" stroke-width="1.3"/>
<line x1="33.50" y1="638.20" x2="33.50" y2="738.70" stroke="#111" stroke-width="1.3"/>
<text x="389.3" y="399.6" font-size="15" fill="#111"><tspan font-weight="bold">f</tspan>)</text>
<defs><radialGradient id="haze"><stop offset="0" stop-color="#111" stop-opacity="0.75"/><stop offset="0.6" stop-color="#222" stop-opacity="0.35"/><stop offset="1" stop-color="#333" stop-opacity="0"/></radialGradient></defs>
<ellipse cx="481.7" cy="478.8" rx="13.3" ry="4.9" fill="url(#haze)" transform="rotate(-55 481.7 478.8)" opacity="0.95"/>
<path transform="scale(0.1)" d="M4594 4936h7m218-5h7m-86-29h7m-335 21h7m-21 10h7m15 26h7m236-126h7m-213 112h7m339-189h7m-42 142h7m267 330h7m-88-302h7m-497 25h7m106-106h7m-95 59h7m308 2h7m-70 18h7m-342 28h7m419-48h7m-258-10h7m88 21h7m227-43h7m-384 28h7m186-95h7m133 116h7m165 321h7m-393-388h7m-190 64h7m-84-17h7m491-9h7m69 33h7m-131-40h7m-86 7h7m172-120h7m-259 97h7m-290 24h7m395-257h7m113 289h7m-306-50h7m-257 56h7m93 18h7m-82-71h7m42 65h7m172-125h7m-220 110h7m315-129h7m178 26h7m-378 92h7m48-103h7m405 138h7m-544-12h7m32-28h7m237-1h7m-408 26h7m243-44h7m394-3h7m-307-17h7m103 61h7m147-76h7m-25-6h7m-338 59h7m-205-9h7m-35 59h7m93-18h7m83-1h7m-240 19h7m63-26h7m-59-91h7m397 78h7m-256 3h7m70 10h7m326-287h7m-270 247h7m-268 62h7m169-31h7m327 9h7m-560-147h7m340 132h7m3 7h7m-17-228h7m223 177h7m-421 47h7m-71-55h7m244-29h7m-147 91h7m324-237h7m21 155h7m-30 16h7m-413 45h7m81 33h7m-232 7h7m152-69h7m472 46h7m-21-235h7m6 243h7m-512 4h7m-23 3h7m286-147h7m142 113h7m-136-68h7m-397 60h7m560-40h7m-117 45h7m-399-41h7m98-14h7m432 209h7m-398-294h7m215 166h7m-418 20h7m527-99h7m-528 3h7m566 327h7m-439-285h7m-158 63h7m570 43h7m-312-235h7m-71 47h7m262 117h7m-401-1h7m-15-31h7m6 19h7m-95-103h7m146 92h7m150-119h7m-118 1h7m48 97h7m8 43h7m-64-4h7m-306-51h7m108 44h7m373-25h7m-281 9h7m150-67h7m-315 78h7m91 19h7m352-31h7m-151-59h7m233 74h7m-212-27h7m-76-29h7m-48 30h7m10-126h7m145 50h7m160 126h7m-270-185h7m186 182h7m-501-11h7m-40 22h7m-7-50h7m481-91h7m-439 75h7m340 45h7m146-184h7m-462 27h7m115 131h7m400 164h7m-576-142h7m236-17h7m-227 26h7m355 8h7m-123-48h7m-375 53h7m409-55h7m-391-177h7m490 17h7m-476 214h7m-52-67h7m152 64h7m97-148h7m265 134h7m-466-120h7m282 49h7m-338 104h7m404-55h7m-429-107h7m379 39h7m-386 11h7m-18-2h7m259 65h7m61-140h7m-203 171h7m171-29h7m-294 38h7m-47 2h7m172-28h7m300-3h7m-185-2h7m-112 23h7m-73 7h7m324-56h7m-380 23h7m505 33h7m-87-39h7m-229-87h7m-77 75h7m195-203h7m-244 142h7m243 41h7m-214 36h7m-248 43h7m5-74h7m119 56h7m-124-87h7m533 28h7m-411 51h7m0-21h7m-100 11h7m66-168h7m480 317h7m-507-322h7m38 172h7m-219 20h7m318-49h7m-195 20h7m-142 40h7m52-19h7m-40 33h7m173-35h7m186-47h7m106-6h7m-30-64h7m-232 104h7m402 196h7m-186-235h7m-474-20h7m575 30h7m-115-47h7m-415 73h7m243-91h7m199 15h7m-158-44h7m61 72h7m-318 84h7m-74-18h7m-26-79h7m304 14h7m40-4h7m-101 69h7m205-72h7m-210 25h7m101 46h7m46-7h7m-462 21h7m443-18h7m0-209h7m-176 185h7m-17-39h7m191 21h7m-93 43h7m-347 12h7m402-21h7m-127 7h7m-355 20h7m412-81h7m-4 51h7m-116-24h7m-42 34h7m287 8h7m51 188h7m-667-191h7m544-194h7m-261 180h7m-172-139h7m-6 123h7m-55 12h7m550 38h7m-98-50h7m39-26h7m-457-60h7m168 116h7m-339-2h7m300-15h7m-219 19h7m113-97h7m-223 50h7m568 51h7m53-58h7m-24 49h7m-370-16h7m423 120h7m-445-123h7m-66 36h7m-126-92h7m119-70h7m-32 149h7m173-15h7m-102-163h7m344 93h7m-181-61h7m206 123h7m-159 28h7m2-32h7m7-25h7m-328 65h7m433 1h7m-319-38h7m-127-42h7m459 347h7m-227-300h7m-74-17h7m-275 49h7m21-134h7m191 105h7m-252 29h7m-41-8h7m-6 9h7m107-47h7m425-35h7m-333 42h7m70-5h7m-135 39h7m-48-198h7m-112 175h7m339-104h7m-291 120h7m16-13h7m128-169h7m270 71h7m-575 144h7m465-163h7m-169 77h7m-332 60h7m629-91h7m-56-118h7m-423 212h7m-72-30h7m355-147h7m20 112h7m23 27h7m-153 19h7m151 3h7m88-37h7m-430 48h7m-43-49h7m300 42h7m-439-12h7m345-20h7m-254-2h7m-153 50h7m302-204h7m120 61h7m-124 113h7m-163-161h7m307 161h7m-476 9h7m441-23h7m-293-19h7m451 54h7m-619 4h7m259-73h7m-160-11h7m364 41h7m-373-156h7m66 100h7m-63 93h7m357-15h7m125-3h7m-532 21h7m150-67h7m358 77h7m-388-23h7m392 228h7m-640-192h7m227-159h7m330 65h7m71 69h7m-466-5h7m410-59h7m-628 28h7m231 12h7m-39 20h7m-233 16h7m232-193h7m-163 4h7m50 167h7m415-87h7m-274 94h7m21-29h7m299 34h7m-388-133h7m-236 129h7m529-79h7m-536 108h7m8-151h7m126 54h7m434 56h7m-437-164h7m230 154h7m61 4h7m-310 31h7m323-155h7m-91-33h7m-425 192h7m302-207h7m322 186h7m-490-15h7m160-142h7m-220 83h7m374-20h7m17 49h7m-313 36h7m16-71h7m-201 99h7m456-25h7m-480 37h7m328-59h7m287 214h7m-2-97h7m-627-63h7m277-100h7m-42 63h7m-28-40h7m170-27h7m111 27h7m-505-31h7m112 48h7m47-36h7m-126 76h7m24 3h7m432-45h7m-390 20h7m450 189h7m-529-252h7m283-200h7m-386 271h7m485-89h7m59 114h7m-433-9h7m-79-201h7m263 31h7m-151 52h7m45 96h7m219-149h7m-468 139h7m346 10h7m-180 16h7m-120 3h7m265-70h7m-279 87h7m78-76h7m-105 55h7m6-74h7m229 65h7m-313 8h7m301-66h7m-322 87h7m407-46h7m-290 20h7m453 11h7m-272-37h7m-110-82h7m391 262h7m-556-204h7m-2 77h7m472-38h7m-63-2h7m36-3h7m-501 45h7m260-90h7m239 79h7m-205-40h7m-88 17h7m-159-17h7m434 43h7m-305-113h7m320 116h7m-584-163h7m576 381h7m-640-359h7m222-9h7m153 27h7m-323 37h7m35 57h7m422-82h7m-462 101h7m141-44h7m-18 37h7m-100-60h7m439 72h7m-237-104h7m-367 16h7m48 48h7m290-38h7m-175 47h7m183-19h7m45 4h7m-158 36h7m117-44h7m-270-26h7m366 41h7m-419 10h7m-56 37h7m215-22h7m0-38h7m-282 13h7m21-22h7m471 15h7m-504 24h7m215-162h7m-173 81h7m584 190h7m-131-101h7m107 234h7m-24-353h7m-551 51h7m519 88h7m-405-93h7m-139-38h7m73 27h7m-97 69h7m526 22h7m-459-31h7m32 36h7m-101 1h7m511-56h7m-35 49h7m-83-2h7m-182-67h7m-124-49h7m127 55h7m218 67h7m69 141h7m-418-238h7m-96-174h7m207 231h7m122 6h7m-411-34h7m-95-10h7m134 26h7m495 200h7m-227-176h7m-462 54h7m95-67h7m187-6h7m311 45h7m-466-51h7m-148 80h7m222-32h7m-6-8h7m149-53h7m-268 20h7m179 29h7m310 15h7m-547 12h7m328-141h7m92 102h7m-363 36h7m255-64h7m-209-3h7m57-111h7m192 154h7m109 22h7m-262-49h7m-209 50h7m365-5h7m-164-185h7m-287 188h7m312-57h7m16-55h7m-327 100h7m79 11h7m398-88h7m-127 83h7m82-76h7m-268-10h7m-15 67h7m-246 25h7m-52-3h7m481-72h7m58 1h7m-404 30h7m109-58h7m53 67h7m75-178h7m-299 93h7m-146 125h7m145-81h7m480 7h7m-432-58h7m-5 110h7m390-38h7m-154-18h7m189 370h7m-103-369h7m6 38h7m-99-21h7m-293 42h7m209-5h7m191 14h7m-614 20h7m613-32h7m-548 27h7m-75-61h7m399-34h7m64 76h7m-108-35h7m149-61h7m44 103h7m-23-145h7m45 152h7m-514-5h7m-124-92h7m526 29h7m2 1h7m-376 57h7m-137-64h7m67 53h7m143 6h7m-122-6h7m308-18h7m-278-166h7m119 70h7m71 113h7m-148-25h7m241 13h7m-54-25h7m-342-59h7m-94 27h7m48 95h7m15-88h7m525 412h7m-341-388h7m203 40h7m-214-25h7m224 20h7m70 12h7m-508-58h7m188 44h7m88 4h7m97-57h7m-8 12h7m-303 29h7m20-105h7m-219 24h7m-49 123h7m157-144h7m156 92h7m256 29h7m-298-42h7m195-31h7m-81 50h7m-227 27h7m348-55h7m-77 50h7m-215-83h7m90 73h7m-88-116h7m-161 134h7m37-64h7m365 61h7m-479 5h7m110-39h7m-121 32h7m13-200h7m363 201h7m154 21h7m-404-262h7m275 171h7m-254 59h7m132 3h7m-303-2h7m-126 12h7m513-64h7m-206-1h7m-33 54h7m89-26h7m88-101h7m-221 88h7m212 23h7m-364-34h7m440-17h7m-130-35h7m-21 52h7m-162 37h7m112 14h7m-150-80h7m195 34h7m-325 37h7m133-40h7m-38-6h7m351 71h7m-197-98h7m-189 56h7m395 277h7m-303-260h7m157-144h7m-188 150h7m31-42h7m91 16h7m-60-70h7m-88 70h7m286 47h7m-188-37h7m47 27h7m145 170h7m-644-158h7m228-7h7m6-34h7m185 7h7m-304 22h7m320-162h7m-154 142h7m181-1h7m-411 31h7m380-101h7m-105 52h7m-56 16h7m269 25h7m-230-105h7m114 75h7m-365-7h7m-123-47h7m151-23h7m-67 92h7m-17-4h7m-53 37h7m361-34h7m-335 9h7m154-30h7m102-31h7m-196-84h7m331 158h7m-26-139h7m-37 131h7m26-50h7m-568 84h7m636-73h7m-488 49h7m-81-2h7m428-25h7m-435-101h7m431 116h7m62-41h7m-83-15h7m71-21h7m-45 77h7m-107-40h7m26 15h7m90-8h7m-431 34h7m-93-16h7m-63 10h7m52-10h7m236-32h7m243 61h7m-22-39h7m-198-46h7m184 56h7m-296-173h7m-243 159h7m378 28h7m-25-69h7m213 69h7m28 232h7m-348-367h7m-317 95h7m399 16h7m156 12h7m-273-31h7m196 40h7m-237-24h7m74-83h7m-186 21h7m69 55h7m-97 9h7m475 221h7m-132-208h7m-333 5h7m178-56h7m128 72h7m-49-130h7m-129 114h7m-175 22h7m-83-144h7m281 64h7m117-68h7m-129 75h7m3-13h7m-28 1h7m-270 26h7m161-39h7m-251 101h7m-52-72h7m596 10h7m-382-49h7m280 55h7m-370 35h7m106-13h7m-1-40h7m338 77h7m-258-28h7m-315-64h7m306-83h7m-95 158h7m-48-48h7m371-168h7m-325 182h7m-263-2h7m69 44h7m-142 25h7m451-39h7m187 28h7m-73-19h7m-592-46h7m147-21h7m-44 80h7m395-84h7m49 0h7m-536 37h7m422-2h7m146 35h7m15-50h7m-661 81h7m432-136h7m-399 109h7m439-11h7m83-24h7m-557 31h7m347-44h7m63 34h7m75-11h7m-111-42h7m-163 35h7m246-140h7m-8 124h7m-345 50h7m461 142h7m-108-165h7m-159-217h7m148 186h7m-366 24h7m391 6h7m-147-37h7m138-33h7m-428 99h7m-20-32h7m215-89h7m199 118h7m-44-101h7m16 51h7m-414-61h7m359 40h7m66 51h7m-576-11h7m482 16h7m-39-150h7m-361 115h7m297 4h7m-330 36h7m367-88h7m-207 82h7m231-74h7m-401 44h7m449-81h7m-265 72h7m40 26h7m-280 26h7m342-31h7m-101-15h7m-39 24h7m-289-19h7m461 32h7m-138-29h7m-60 24h7m-341-240h7m565 218h7m-213 3h7m139 0h7m108-38h7m-95-126h7m-395 203h7m-43-6h7m-88 18h7m319-157h7m-75-45h7m303 188h7m-221-47h7m-336-131h7m88 132h7m256-155h7m13 161h7m-159 19h7m348-250h7m-518 275h7m17-26h7m437-117h7m-52 135h7m-42-73h7m-103-189h7m-413 276h7m473-183h7m-60 142h7m-66-71h7m-341 94h7m97 4h7m147-21h7m-173 21h7m294-6h7m20-9h7m-474-118h7m119-20h7m437 26h7m-506 108h7m-36-120h7m504 83h7m-274 24h7m247-5h7m-141 18h7m-286 26h7m331-58h7m-398-56h7m77 82h7m-83 21h7m462-17h7m-468-6h7m96-110h7m-147-75h7m-46 100h7m413 91h7m-138-8h7m-158 23h7m66-277h7m428 278h7m-625 4h7m541 3h7m-123-24h7m166 370h7m-125-372h7m-465 40h7m468-58h7m-450 20h7m491 16h7m-241-18h7m-275-51h7m358 59h7m-442 32h7m357-69h7m-237 46h7m225-78h7m130 34h7m-425 58h7m357-40h7m-15 28h7m55-18h7m14-94h7m-247 106h7m280-20h7m-33 17h7m-478-80h7m117 83h7m-4-43h7m-259 37h7m296-33h7m-230-7h7m471-62h7m-348 48h7m35-13h7m-227-17h7m606 78h7m-310-35h7m10 43h7m288 21h7m-546 0h7m40-100h7m-158 113h7m452-36h7m-475-12h7m377-30h7m79 49h7m108-61h7m-573 87h7m301-68h7m-154 50h7m79-10h7m121-119h7m-312 95h7m405 25h7m47-153h7m-307 130h7m302-8h7m-311-130h7m254 148h7m-375 8h7m127-228h7m246 99h7m1 34h7m-530 91h7m614-125h7m-494 120h7m256-12h7m-77 19h7m-74-29h7m-290 64h7m645-22h7m-30-41h7m-94-82h7m44 131h7m-174-30h7m19 2h7m-101-145h7m48 142h7m-77-19h7m289 44h7m-450-55h7m-134 22h7m566 11h7m-479-6h7m175 7h7m-288 33h7m110-35h7m-11 15h7m-145-16h7m510-26h7m-193-25h7m-260 15h7m171 8h7m98 6h7m-215 36h7m-68-20h7m104-21h7m-262 54h7m577-12h7m-217-44h7m-193-201h7m0 173h7m-101 94h7m482-40h7m-562 23h7m252-79h7m-234 89h7m577-64h7m-560 51h7m129-56h7m174-59h7m134 83h7m-64-40h7m8 43h7m10-34h7m82 74h7m-37 3h7m-79-57h7m-191-155h7m44 161h7m138-76h7m-128 83h7m-113-4h7m178 21h7m-235-27h7m-11 26h7m269-89h7m-204 67h7m-224 37h7m-33-27h7m292 17h7m226 6h7m-60-93h7m72 111h7m-372-155h7m-293 174h7m374-81h7m237-22h7m-284-3h7m-95 54h7m134-11h7m236-12h7m-297 32h7m-111-12h7m121-36h7m212-128h7m-277 150h7m23-70h7m-254 106h7m548 258h7m-327-268h7m255-45h7m-58-212h7m40 249h7m-510 21h7m237-48h7m-229 54h7m297-65h7m-198-238h7m188 291h7m-162-84h7m-78 30h7m-215 71h7m568-55h7m-126 30h7m-124-39h7m-166 4h7m92 44h7m-181-60h7m-42 84h7m37-44h7m441-24h7m-18 53h7m-552-60h7m206-10h7m14 62h7m-67 11h7m431-47h7m-388 11h7m18 30h7m339-42h7m41 31h7m-240-12h7m-403-108h7m550 117h7m23-77h7m-416 45h7m444 29h7m-14 22h7m-391-78h7m-123 66h7m442-23h7m-64 19h7m-432 3h7m2-188h7m65 157h7m-128 17h7m179-5h7m-227 46h7m515-38h7m-406 20h7m20-6h7m-178-31h7m203 33h7m244-1h7m-307-92h7m-104 83h7m479-77h7m-472 83h7m380-18h7m155 35h7m-12-30h7m-504-2h7m-73-30h7m82-74h7m217 90h7m-241-7h7m-30-65h7m-69 87h7m282-8h7m150 5h7m-86-29h7m-245 32h7m-161 35h7m518-29h7m-136 6h7m-76-29h7m-49 11h7m-306 32h7m103 2h7m330-24h7m-222-125h7m248 19h7m52 124h7m-408 8h7m270-75h7m-233 40h7m204-48h7m-288-25h7m64 46h7m-124 63h7m495-76h7m-145 66h7m-469 19h7m102-24h7m118 7h7m-55-54h7m-97-40h7m261 6h7m-223 65h7m288-5h7m-476-50h7m525 61h7m-511-71h7m381 76h7m-256 16h7m368-14h7m78-61h7m-576 24h7m204-35h7m292 68h7m-514-138h7m222-9h7m177 79h7m88 28h7m-266 47h7m161-27h7m-135-133h7m-270 101h7m-65 20h7m516 32h7m-185-207h7m56 168h7m-274 60h7m68-35h7m-115 20h7m-51-46h7m359 34h7m-301-12h7m133-136h7m-72 151h7m359 16h7m-227-36h7m166-6h7m-45 35h7m-71-50h7m-148-34h7m247 90h7m-379-16h7m-64 28h7m44-14h7m282-32h7m-411 34h7m237-30h7m-214 44h7m-115-273h7m501 258h7m-30-232h7m-112 216h7m-58-22h7m-213 9h7m-131-89h7m429 56h7m193 18h7m-476 41h7m-85 24h7m430-124h7m-336 102h7m228-114h7m191 122h7m-104-107h7m-36 82h7m-390-68h7m86 68h7m151-19h7m186 29h7m-550-12h7m396-87h7m46-32h7m158 120h7m-313 4h7m-144-27h7m-158-1h7m50 28h7m547 104h7m-646-93h7m97-55h7m-136-18h7m578-6h7m-302 64h7m155-25h7m-172 21h7m5-43h7m259-66h7m-461 131h7m184-49h7m-72 44h7m-188 9h7m251-218h7m301 108h7m38 146h7m-250-144h7m-392 66h7m370 12h7m-33-165h7m-69 126h7m-132 51h7m396 25h7m-485-60h7m170 44h7m139-23h7m-61-11h7m-42-18h7m-99 55h7m-155-111h7m245 98h7m209 9h7m-534-12h7m101-7h7m200 1h7m6 9h7m-48-43h7m-304 55h7m-12-3h7m536-31h7m-109-43h7m-419-175h7m409 254h7m68-19h7m-459-153h7m262 75h7m-300 32h7m-61 80h7m209-8h7m145-26h7m-209-42h7m79-67h7m127 2h7m-47-31h7m205 159h7m-93-20h7m5-42h7m36 62h7m-318-75h7m388 21h7m-628 29h7m31 3h7m476 22h7m77-50h7m-467 51h7m125-111h7m85 95h7m-392 40h7m529-30h7m-176-25h7m84 2h7m-380-75h7m264 24h7m178-92h7m-553 178h7m88-28h7m488-65h7m-582 105h7m531-79h7m-299 25h7m-168-56h7m154-29h7m142 110h7m-200 4h7m381-36h7m-591 61h7m211-50h7m141-7h7m-160 45h7m148-40h7m-391 28h7m656 144h7m-584-184h7m80 38h7m149-16h7m41-31h7m259-212h7m-641 247h7m499-98h7m-4 63h7m-103 24h7m-250-53h7m399-74h7m-138 136h7m49-54h7m-182 9h7m-115 25h7m31 40h7m-54-14h7m440 61h7m-434-57h7m-98 0h7m-75 33h7m498-48h7m-299-25h7m-105 50h7m-169 8h7m159-75h7m159-108h7m-151 31h7m159 132h7m-284-20h7m548 119h7m-153-113h7m57 33h7m-270-147h7m-151 135h7m-180 27h7m161-81h7m-41 46h7m-19-24h7m448-14h7m-465-10h7m519 33h7m-614-43h7m540 58h7m-514 24h7m268-143h7m63-24h7m-300 150h7m361-50h7m-243-8h7m-53 70h7m45-5h7m139-29h7m-98-30h7m-170 35h7m-174-99h7m371-149h7m-356 244h7m452 8h7m-440 36h7m617 45h7m-11-20h7m-7 125h7m-11 62h7m-7 26h7m7-123h7m-11-27h7m-12 190h7m3-171h7m-36 251h7m11-262h7m-28 248h7m-42-349h7m52 242h7m41-110h7m-51-50h7m-36-52h7m0 17h7m7 138h7m17-121h7m-36 69h7m3-70h7m-31 279h7m-9-335h7m56 80h7m-47 96h7m5-58h7m-26 44h7m-21 166h7m-4-64h7m1-33h7m-18 82h7m6-112h7m16 133h7m-35-109h7m-2-141h7m-7 68h7m6-87h7m-24 165h7m-20 132h7m5-159h7m11 110h7m-5-223h7m-31 208h7m10-184h7m-27 210h7m7-79h7m-1-86h7m-26 161h7m-4 1h7m15-39h7m-1-224h7m-43 304h7m-29-364h7m12 357h7m-1-24h7m-3-66h7m10-212h7m-25-30h7m4 311h7m28-14h7m-70-318h7m23 284h7m-25-283h7m11 73h7m-23-47h7m-9 332h7m-4-42h7m2-147h7m-4-22h7m-15 96h7m-1 20h7m-11-235h7m27 144h7m-33-55h7m1 232h7m-24-88h7m-2-208h7m-23-41h7m13 165h7m-10 18h7m-46-205h7m34 241h7m1-39h7m-8 163h7m-19-99h7m3-150h7m-25 245h7m10-220h7m64-91h7m-132-52h7m31 346h7m2-119h7m-6-138h7m7-47h7m-1 250h7m-32-275h7m12 103h7m-21 84h7m-25 159h7m26-85h7m-14-88h7m-31 181h7m19-137h7m-1-94h7m-14 6h7m-8 82h7m-2-109h7m-22 83h7m-8 26h7m-10 111h7m-1-70h7m-7-92h7m20-125h7m-29 145h7m5-1h7m-25-108h7m-10 219h7m12-68h7m-9 95h7m-35-320h7m18 296h7m-24-266h7m-1 49h7m15 39h7m-25 62h7m-18-163h7m-3 341h7m3-205h7m-6 131h7m-6-244h7m-6 82h7m-13-49h7m-3 39h7m-57-121h7m31 207h7m9-147h7m-15 36h7m10-12h7m-28-56h7m-16 287h7m22-163h7m-27 73h7m-19-215h7m22 121h7m-17-27h7m1 132h7m-15-111h7m15 85h7m6-145h7m-51 195h7m-7-17h7m-3-223h7m1 116h7m10 44h7m-43 97h7m5-61h7m12-49h7m-21-18h7m-20 178h7m5-149h7m-10 125h7m-13-32h7m-11-263h7m14 193h7m-30 81h7m-1-206h7m-14 224h7m-159-519h7m-90 74h7m-46-1h7m35 4h7m-29-12h7m-119 125h7m144-156h7m-14 72h7m103-197h7m-105 168h7m-14 8h7m-2-80h7m-55 107h7m66-90h7m-25-43h7m-18 48h7m-2 32h7m-55 45h7m-4 17h7m-11-26h7m27-55h7m25-46h7m1 28h7m-82 86h7m-3-12h7m56 2h7m-17 4h7m-34-83h7m7 25h7m-46 90h7m108-163h7m-32 35h7m14 34h7m-135 36h7m52 3h7m-13-41h7m6-13h7m-3 20h7m-55-46h7m-7 136h7m64-39h7m-67-32h7m75-70h7m6-21h7m-76 107h7m-50 12h7m5-8h7m34-69h7m-23 22h7m-32-59h7m13 94h7m-20 55h7m43-60h7m6-46h7m-80 31h7m3 12h7m9-23h7m68-154h7m-50 108h7m-28 89h7m-41-41h7m27-6h7m-84 127h7m43-85h7m41-37h7m-9-77h7m22 110h7m-12-79h7m-32 15h7m4-29h7m-10 38h7m-64 80h7m0-48h7m-3-14h7m55-30h7m-7 9h7m-74 8h7m0 49h7m-16 8h7m-10-12h7m-25 25h7m15 33h7m31-77h7m-6-39h7m-25-33h7m-31 110h7m96-100h7m-44 38h7m-74 56h7m-5 8h7m-36 24h7m34-26h7m-13 4h7m34-52h7m-24-35h7m-16 45h7m21-52h7m-52 26h7m-16 39h7m4-13h7m9 13h7m-29 55h7m33-2h7m25-106h7m-29 61h7m-58-51h7m43 7h7m-99 74h7m50-73h7m-9-5h7m2 28h7m17-47h7m-42 76h7m36-1h7m-61-15h7m10 17h7m17-24h7m-28 104h7m-20-133h7m-56 120h7m26-110h7m64 17h7m-44-68h7m52 16h7m-75 80h7m42-103h7m-64 72h7m2-80h7m25 4h7m-37 15h7m-51 105h7m34-100h7m4 24h7m22-27h7m-31 39h7m35-66h7m-24 121h7m-29-23h7m-44 34h7m-62 73h7m41-114h7m-1-42h7m-64 62h7m70-55h7m55-16h7m-66 18h7m-86 100h7m113-124h7m-31 35h7m-30-10h7m-47 69h7m38-9h7m-17 55h7m-30-58h7m59-52h7m-73 31h7m-40 25h7m120-69h7m6-43h7m-55 79h7m-5-45h7m19 63h7m-150 115h7m104-161h7m-29 12h7m-8 23h7m77-26h7m-92 44h7m-85 67h7m47 20h7m5-101h7m-36 23h7m64-79h7m-86 72h7m31 35h7m-68-35h7m33 27h7m38-66h7m-17-40h7m-52 104h7m-5-77h7m-6 18h7m69-29h7m54-14h7m-95 29h7m-69 74h7m87-92h7m-77 25h7m45 60h7m-16-7h7m-80 109h7m42-188h7m-27 166h7m-2-116h7m66-24h7m-57-44h7m-6 86h7m-19-29h7m9 17h7m0 18h7m63-163h7m-58 129h7m-17-29h7m-22 72h7m22-61h7m-54 72h7m32-90h7m34 40h7m-125 102h7m34-120h7m68-10h7m-110 97h7m-25-48h7m65 2h7m5-84h7m-17 99h7m8-7h7m36-115h7m-119 124h7m51-80h7m-19 46h7m-82 70h7m70-29h7m27-120h7m-106 83h7m11 108h7m28-77h7m-11-68h7m65 15h7m-120 71h7m-36-31h7m105-48h7m-1-21h7m-119 142h7m21-60h7m2-8h7m32-103h7m-12 49h7m-66 42h7m-25 90h7m28-132h7m-43 61h7m131-76h7m-109 39h7m39 7h7m-88 51h7m79-44h7m-5-13h7m-112 25h7m75 40h7m82-143h7m-85 79h7m-28 10h7m19-6h7m-46 60h7m25-76h7m-6-9h7m30 26h7m-45 27h7m-34-7h7m15-47h7m3-53h7m-20 83h7m0-17h7m-42 59h7m89-112h7m-99 51h7m7 67h7m-16-34h7m52-174h7m-56 71h7m-5 106h7m-33 52h7m4-81h7m24 26h7m-20 15h7m58-47h7m-98 60h7m81-58h7m-31 2h7m-94 68h7m109-153h7m1-31h7m-110 110h7m63-20h7m39-70h7m-118 91h7m46 25h7m28-37h7m-28-24h7m-12 16h7m-44 119h7m-8-67h7m30-42h7m-47-8h7m85-88h7m-94 82h7m3 13h7m46-21h7m-84 74h7m22-31h7m19-83h7m38-69h7m-92 86h7m9 59h7m24 7h7m-46 3h7m-6-72h7m-15 81h7m20-75h7m11 24h7m-126 90h7m28 20h7m63-75h7m-11-49h7m30 7h7m-36 26h7m-71 87h7m-30-35h7m44-16h7m-6-21h7m-30 55h7m-30-36h7m81-1h7m-76-11h7m113-51h7m-106 58h7m-18 73h7m-45-47h7m75-59h7m33-74h7m-52 80h7m32 41h7m-19-20h7m-13-81h7m-24 34h7m-17 37h7m-23-4h7m52-75h7m2 71h7m-23-6h7m22-37h7m-47-53h7m31 9h7m-152 178h7m14-42h7m44-49h7m47-43h7m-47 82h7m43-110h7m4-8h7m-85 55h7m57-3h7m-34 39h7m73-83h7m-155 124h7m96-97h7m-64-25h7m23 50h7m-33 82h7m32-77h7m-3-64h7m-49 70h7m41-25h7m-119 85h7m14 14h7m-36-11h7m85-127h7m-61 21h7m15 1h7m50-10h7m-61 28h7m-5 14h7m14-27h7m-57 57h7m23 27h7m-14-11h7m-82 132h7m108-237h7m-44-36h7m-27 113h7m30 26h7m0-50h7m-4-72h7m-36 171h7m-40-110h7m12 12h7m81-24h7m-76 105h7m-25 9h7m22-87h7m-81 100h7m80-146h7m-25 55h7m3 24h7m-27-10h7m19 36h7m-15-60h7m-66 113h7m-22-72h7m31-20h7m12 16h7m-33-1h7m62 41h7m-114 7h7m-10 0h7m59-40h7m-3-18h7m-18 31h7m44-59h7m-6-46h7m-29 118h7m-17-42h7m-15 36h7m-50-25h7m17-10h7m26-44h7m-29 38h7m-8-17h7m4-50h7m-45 86h7m45-42h7m-20 3h7m-66 50h7m18-11h7m33-19h7m9-42h7m-88 75h7m51-21h7m56-99h7m21 34h7m-121 133h7m74-109h7m-56 53h7m-45 9h7m49 1h7m-32 0h7m-31-38h7m27 11h7m-41 48h7m-38-22h7m39-38h7m-78 41h7m67-24h7m-26 24h7m52-58h7m-28 24h7m-45 34h7m45-65h7m-119 163h7m95-153h7m-64 13h7m46-101h7m-29 96h7m22-44h7m-25 71h7m-15-37h7m19 2h7m-14-29h7m-42 54h7m-22 50h7m62-47h7m-55 23h7m35-82h7m-40 58h7m-57 23h7m81-76h7m-78 41h7m49 24h7m-94 35h7m121-81h7m-32-51h7m-45 45h7m-2 10h7m16 41h7m-34-30h7m-7 22h7m-28 28h7m60-38h7m-65 10h7m18-40h7m-66 101h7m64-124h7m9-10h7m-3 78h7m-76 40h7m2-44h7m-5 25h7m-1-28h7m-38 24h7m-12 45h7m14-69h7m19 6h7m-1-35h7m23 2h7m-40 33h7m-66 35h7m-2 66h7m51-216h7m13 158h7m-51-32h7m9-40h7m14-17h7m-9 109h7m-62-5h7m27-138h7m-59 95h7m67-42h7m-86 43h7m25-85h7m30 29h7m61-48h7m-121 108h7m-5-22h7m39 6h7m-87 63h7m119-137h7m-120 94h7m-24-9h7m97-77h7m-102 72h7m22-3h7m68-105h7m-32 102h7m-13-45h7m-75 165h7m80-115h7m-56 50h7m-6-75h7m20 14h7m-20 2h7m28-29h7m-56 44h7m-96 69h7m82-23h7m-14-34h7m3-22h7m-21-4h7m-11 110h7m18-171h7m-69 91h7m74-71h7m-41 18h7m42 47h7m-121 33h7m45-40h7m66-84h7m-73 56h7m17 1h7m42-13h7m-34-20h7m-6 67h7m-27-41h7m80-57h7m-83 38h7m-26 76h7m-3-10h7m-35 4h7m35-58h7m-8 11h7m-84 47h7m85-8h7m-61-39h7m-6 40h7m45-100h7m-14 41h7m-61 30h7m4-7h7m-3-49h7m63 6h7m-11 38h7m-70-46h7m17 57h7m-64 15h7m64-33h7m-52 32h7m-16 0h7m41 0h7m-89 58h7m119-151h7m-48 80h7m-88 29h7m60 14h7m-4-37h7m26 1h7m-53-69h7m47-36h7m-54 121h7m-21-29h7m-15 15h7m58-66h7m32 11h7m-81-10h7m-4 50h7m-67 63h7m25 9h7m46-110h7m-73 79h7m-7-30h7m22 30h7m-59-43h7m30 53h7m58-171h7m-80 135h7m-29 62h7m38-69h7m61-121h7m-35 87h7m-85 51h7m95-91h7m-92 45h7m51-14h7m58-52h7m-80 53h7m-49 25h7m18-1h7m21-6h7m-51-5h7m52 4h7m-87 66h7m44-67h7m-21-7h7m7 55h7m-5-134h7m-118 237h7m85-102h7m-65-34h7m64-11h7m-19-10h7m-25-4h7m13 40h7m-18-48h7m45 19h7m-65 44h7m-45 70h7m26-90h7m-25-31h7m58-96h7m-45 192h7m-13-97h7m-12 70h7m-4-2h7m27-63h7m-16-30h7m-108 99h7m60-59h7m46-81h7m10 9h7m-98 55h7m57 51h7m-72 19h7m26-73h7m2-46h7m-7 52h7m29-61h7m-99 101h7m124-104h7m-132 139h7m34 19h7m-30-117h7m44 51h7m-23 4h7m-16 2h7m-14-29h7m15 6h7m-37 7h7m-22 61h7m4-128h7m20 120h7m3-101h7m2-25h7m-23 147h7m-37-48h7m-65 49h7m35-13h7m46-124h7m3 70h7m-55 111h7m101-169h7m-42-5h7m-10 20h7m-63-19h7m-5 92h7m-42-53h7m88 31h7m-26-63h7m-63 129h7m28-109h7m-16 61h7m-30-32h7m-38 58h7m20-45h7m143-246h7m-143 221h7m23-47h7m-68 30h7m75-22h7m-16-50h7m-9 43h7m-10-3h7" stroke="#111" stroke-width="7" fill="none"/>
<path d="M436.2,496.3 L442.9,495.6 L448.8,494.8 L456.2,494.1 L463.6,493.3 L469.6,492.6 L475.5,491.9 L481.4,492.6 L487.3,493.3 L493.3,493.6 L499.2,494.1 L503.6,495.6 L505.1,499.3 L505.9,506.7 L505.1,517.0 L504.4,528.9 L503.6,532.6 L436.2,532.6" fill="#000" stroke="#000" stroke-width="1.2" stroke-linejoin="round"/>
<clipPath id="fc1"><path d="M448.8,506.7 L451.8,501.0 L457.7,498.1 L463.6,496.6 L469.6,495.1 L475.5,495.9 L479.9,497.3 L484.4,499.6 L488.8,498.8 L494.7,498.1 L499.2,499.6 L499.9,506.7 L499.2,531.9 L458.4,531.9 L456.2,524.4 L453.3,515.6 L449.6,509.6Z"/></clipPath>
<path d="M448.8,506.7 L451.8,501.0 L457.7,498.1 L463.6,496.6 L469.6,495.1 L475.5,495.9 L479.9,497.3 L484.4,499.6 L488.8,498.8 L494.7,498.1 L499.2,499.6 L499.9,506.7 L499.2,531.9 L458.4,531.9 L456.2,524.4 L453.3,515.6 L449.6,509.6Z" fill="#fff" stroke="#555" stroke-width="0.8"/>
<g clip-path="url(#fc1)">
<path d="M458.0 534.8V507.0A14.7 14.7 0 0 1 487.3 507.0V534.8Z" fill="#fcfcfc" stroke="#3a3a3a" stroke-width="0.5"/>
<path d="M459.3 534.8V507.0A13.3 13.3 0 0 1 486.0 507.0V534.8Z" fill="#f3f3f3" stroke="#3a3a3a" stroke-width="0.5"/>
<path d="M460.7 534.8V507.0A12.0 12.0 0 0 1 484.7 507.0V534.8Z" fill="#ebebeb" stroke="#3a3a3a" stroke-width="0.5"/>
<path d="M462.0 534.8V507.0A10.7 10.7 0 0 1 483.3 507.0V534.8Z" fill="#e3e3e3" stroke="#3a3a3a" stroke-width="0.5"/>
<path d="M463.3 534.8V507.0A9.3 9.3 0 0 1 482.0 507.0V534.8Z" fill="#dbdbdb" stroke="#3a3a3a" stroke-width="0.5"/>
<path d="M464.7 534.8V507.0A8.0 8.0 0 0 1 480.7 507.0V534.8Z" fill="#d3d3d3" stroke="#3a3a3a" stroke-width="0.5"/>
<path d="M466.0 534.8V507.0A6.7 6.7 0 0 1 479.3 507.0V534.8Z" fill="#d3d3d3" stroke="#3a3a3a" stroke-width="0.5"/>
<path d="M467.3 534.8V507.0A5.3 5.3 0 0 1 478.0 507.0V534.8Z" fill="#dbdbdb" stroke="#3a3a3a" stroke-width="0.5"/>
<path d="M468.7 534.8V507.0A4.0 4.0 0 0 1 476.7 507.0V534.8Z" fill="#e3e3e3" stroke="#3a3a3a" stroke-width="0.5"/>
<ellipse cx="472.7" cy="507.0" rx="4.8" ry="5.8" fill="#e3e3e3" stroke="#4a4a4a" stroke-width="0.45"/>
<ellipse cx="472.7" cy="507.0" rx="3.5" ry="4.2" fill="#ebebeb" stroke="#4a4a4a" stroke-width="0.45"/>
<ellipse cx="472.7" cy="507.0" rx="2.1" ry="2.6" fill="#fff" stroke="#4a4a4a" stroke-width="0.45"/>
<path d="M488.7 534.8V507.6A6.7 7.4 0 0 1 502.0 507.6V534.8Z" fill="#fcfcfc" stroke="#3a3a3a" stroke-width="0.5"/>
<path d="M490.0 534.8V507.6A5.3 5.9 0 0 1 500.7 507.6V534.8Z" fill="#eaeaea" stroke="#3a3a3a" stroke-width="0.5"/>
<path d="M491.3 534.8V507.6A4.0 4.4 0 0 1 499.3 507.6V534.8Z" fill="#d8d8d8" stroke="#3a3a3a" stroke-width="0.5"/>
<ellipse cx="495.3" cy="507.6" rx="4.8" ry="6.4" fill="#d8d8d8" stroke="#4a4a4a" stroke-width="0.45"/>
<ellipse cx="495.3" cy="507.6" rx="3.5" ry="4.6" fill="#d8d8d8" stroke="#4a4a4a" stroke-width="0.45"/>
<ellipse cx="495.3" cy="507.6" rx="2.1" ry="2.8" fill="#fff" stroke="#4a4a4a" stroke-width="0.45"/>
<path d="M482.0 534.8V520.7A4.9 6.2 0 0 1 491.8 520.7V534.8Z" fill="#fff" stroke="none"/>
<path d="M485.3 534.8V520.7A1.6 2.1 0 0 1 488.5 520.7V534.8" fill="none" stroke="#505050" stroke-width="0.5"/>
<path d="M483.6 534.8V520.7A3.3 4.1 0 0 1 490.1 520.7V534.8" fill="none" stroke="#505050" stroke-width="0.5"/>
<path d="M482.0 534.8V520.7A4.9 6.2 0 0 1 491.8 520.7V534.8" fill="none" stroke="#505050" stroke-width="0.5"/>
</g>
<path d="M472.2,483.7 L473.7,474.1 L477.3,467.1 L491.8,455.3 L503.6,458.1 L492.5,474.1 L482.9,487.4 L475.5,486.7 L472.2,483.7" fill="none" stroke="#111" stroke-width="1.2" stroke-linejoin="round"/>
<ellipse cx="591.7" cy="477.0" rx="12.2" ry="4.5" fill="url(#haze)" transform="rotate(-55 591.7 477.0)" opacity="0.6"/>
<path transform="scale(0.1)" d="M5571 4905h7m438-11h7m-143 9h7m-227 14h7m153-30h7m-291 83h7m160-103h7m269 44h7m-340-3h7m-61-3h7m485 22h7m-222-84h7m103 9h7m-33 56h7m79-132h7m-537 27h7m256 122h7m-258-47h7m403 39h7m-154-49h7m356 214h7m-163-172h7m-390 38h7m135-71h7m-79 59h7m-64 15h7m-24-15h7m203-23h7m-24-21h7m326 88h7m-26-61h7m-511-14h7m-42 48h7m-56-53h7m596 38h7m-420-30h7m-9-37h7m20 56h7m312-43h7m-586-15h7m480 32h7m-73-130h7m-161 130h7m-77-2h7m239-54h7m186 105h7m-400-125h7m279 49h7m-83 27h7m173 8h7m-373 14h7m-200-92h7m455 94h7m-329-20h7m109-6h7m262 14h7m-251-149h7m65 120h7m-214 30h7m180-85h7m-242 95h7m78-14h7m347-15h7m-436 30h7m361-6h7m-96 6h7m-342 30h7m406-38h7m-396 34h7m17-79h7m300-90h7m146 128h7m-23 29h7m-5-27h7m-501-36h7m442 29h7m-523-59h7m438 26h7m144 263h7m-628-168h7m-30-61h7m403 9h7m-323 35h7m295-96h7m236 90h7m-1 228h7m-403-253h7m-114-185h7m507 250h7m-560-35h7m-22-11h7m387-15h7m-147-68h7m-341 89h7m503-68h7m-236-74h7m94 94h7m-145-132h7m305 22h7m-208 126h7m-267 20h7m341-6h7m68-91h7m-201 89h7m184-29h7m-94-20h7m33 20h7m149-116h7m-28 112h7m-420 26h7m-39-107h7m346 24h7m-326 26h7m-45 35h7m-77-49h7m215 61h7m286 33h7m-2-76h7m-533 14h7m279-100h7m1 108h7m227 59h7m-112-24h7m-345 21h7m394-41h7m-104 8h7m-5-45h7m-433 65h7m414-16h7m-53-8h7m-198-118h7m128 34h7m119 69h7m64 14h7m51 17h7m-567-37h7m11 12h7m-69-187h7m322 133h7m-284 63h7m159 16h7m288 5h7m-234-4h7m245-123h7m-558 142h7m286-89h7m169 50h7m130 36h7m-544-74h7m-18 91h7m249-54h7m-234-98h7m202 32h7m-157-29h7m-27 8h7m257-105h7m100 158h7m-168-60h7m-67 118h7m310-82h7m-163 1h7m-311 73h7m392-184h7m60 202h7m-168-57h7m-195 46h7m-188 3h7m233-20h7m-91-16h7m259-17h7m-412-42h7m132-86h7m407 533h7m-276-563h7m-140 174h7m-55 54h7m-81 6h7m47-61h7m181-145h7m75 155h7m171 0h7m-281-96h7m79 95h7m-51 1h7m238 54h7m-4 60h7m-656-79h7m125-19h7m-66-56h7m364-3h7m167-199h7m-175 194h7m-463 129h7m280-256h7m-84 171h7m-212 55h7m595-63h7m-59 42h7m-426 17h7m417-22h7m60 8h7m-41-39h7m-383-152h7m48 122h7m-235 4h7m609 401h7m-165-360h7m-410 29h7m339-197h7m217-3h7m-257 121h7m-318 27h7m256 10h7m228 27h7m-518 32h7m-2-43h7m432 6h7m-208-43h7m32 15h7m-19 33h7m-334 20h7m114-73h7m-4-20h7m-7 99h7m152-50h7m-103-42h7m-83 33h7m406 6h7m-231-124h7m61 138h7m-367 59h7m170-30h7m206-47h7m-236 12h7m416 33h7m-534 5h7m108-141h7m250 93h7m-371 66h7m-36-105h7m347 60h7m-23 5h7m-86-19h7m-280-12h7m407-4h7m-377 11h7m172-28h7m-237-36h7m-67 137h7m260-45h7m-217-22h7m604 113h7m-498-130h7m-36 41h7m307-32h7m-366 66h7m254-331h7m-34 257h7m-215 7h7m196-65h7m-144-42h7m345 105h7m-461 35h7m-16-28h7m377-22h7m181 245h7m-183-290h7m-413 115h7m-47-22h7m444-22h7m-25-1h7m4 8h7m172 238h7m-664-169h7m481-170h7m-68 106h7m152-53h7m-517 79h7m368-14h7m-431 26h7m577-103h7m-37 34h7m63 26h7m-21 1h7m-514 6h7m187-13h7m-81-6h7m137 9h7m-216 3h7m146-15h7m101 20h7m-96-9h7m153-50h7m1 29h7m-366-86h7m169 100h7m-155 20h7m275-92h7m-160 23h7m-188 73h7m90-3h7m-6-62h7m245 57h7m-343-51h7m276-5h7m-20-5h7m-251 94h7m52-8h7m399-16h7m-204-201h7m83 190h7m-322 25h7m302-89h7m-214 52h7m-154 11h7m291-118h7m85 19h7m-283 87h7m-91-172h7m-95 224h7m58-154h7m379 113h7m-8-109h7m-293 120h7m226-21h7m-448-72h7m209 74h7m98 1h7m-394 49h7m235-14h7m-12-84h7m-34 22h7m190 35h7m-414 3h7m391-13h7m-284-58h7m471 83h7m-225-57h7m-185 74h7m-5-60h7m180-4h7m-331 75h7m121-40h7m28-113h7m-174-90h7m77 127h7m-5 63h7m83 36h7m276-109h7m-363 34h7m135-195h7m-293 281h7m110-51h7m363-80h7m-161 77h7m162 27h7m-371-52h7m129 46h7m-317 63h7m53-34h7m224-54h7m-104-14h7m146-191h7m-241 235h7m212-21h7m241 22h7m4-10h7m-373-24h7m147 15h7m-330-116h7m185 147h7m187-53h7m-229 41h7m342-13h7m-296-162h7m-45 164h7m-141-12h7m332-8h7m-181 30h7m252-29h7m21 12h7m-74 23h7m-353-163h7m305 96h7m-132 29h7m-209 60h7m295-94h7m-268 36h7m-89 19h7m17 11h7m89-22h7m-129 29h7m319-13h7m-215-35h7m153-13h7m151 11h7m-383 45h7m403-41h7m-59 20h7m-213-180h7m245 146h7m-489 46h7m-57-96h7m626 97h7m-482-75h7m-68 17h7m225 68h7m242-19h7m-47-44h7m-208-56h7m-229 16h7m84 121h7m-8-2h7m-185-25h7m25 43h7m109-29h7m416-126h7m-40-142h7m-297 176h7m-115-44h7m351 57h7m-401 100h7m464-51h7m-218-95h7m-323 89h7m209-56h7m-13 80h7m331 28h7m-150-124h7m-342 62h7m93 39h7m-128-150h7m95 125h7m83 28h7m163-79h7m76 65h7m-457 21h7m346-68h7m-227 27h7m-177-77h7m207 72h7m206 29h7m-51-13h7m54 21h7m-369-33h7m132 9h7m58 7h7m-102 26h7m236-22h7m15-27h7m-161-20h7m-328 14h7m105-47h7m326 30h7m13 35h7m-103-152h7m-334 211h7m144-61h7m-184 57h7m476-43h7m-491 46h7m282-44h7m-76-27h7m-31 8h7m261 41h7m56 6h7m-608-46h7m351-16h7m-244-9h7m53 3h7m-60 36h7m276-8h7m-120 27h7m103-70h7m-338 62h7m384 6h7m65-112h7m-539 150h7m16-5h7m-6-23h7m104 0h7m135-30h7m214-51h7m-462 103h7m-78 5h7m60-61h7m-55-4h7m246-119h7m-20 140h7m-223-119h7m289 95h7m-57-46h7m258 48h7m-447 37h7m474-22h7m-162-32h7m-142 2h7m-153 27h7m411 26h7m-341-118h7m403 370h7m-243-320h7m138 32h7m-487 50h7m385-95h7m-349 47h7m298-36h7m-435 85h7m197-55h7m1 45h7m218-30h7m74 0h7m-172-82h7m-297 66h7m-39-81h7m-36 95h7m225 24h7m10-33h7m7 32h7m65-23h7m293 37h7m-366-24h7m353 31h7m-224-131h7m-178 36h7m-84 90h7m-167 0h7m554-20h7m-299-77h7m-118 95h7m157-49h7m276-74h7m-480 87h7m114 28h7m12-150h7m-103 112h7m268 29h7m137 16h7m-427-68h7m-197 82h7m65-25h7m-81 43h7m132-20h7m-96 6h7m281-42h7m198-18h7m-391 39h7m389-7h7m-73-8h7m130 4h7m-241-124h7m-342 164h7m393-91h7m11 33h7m-158 6h7m-47-1h7m93-14h7m-217-10h7m-134-14h7m269 36h7m-264 15h7m256-76h7m-95 58h7m343 12h7m52 217h7m0-196h7m-502-89h7m233 57h7m252 134h7m-133-164h7m-499-26h7m57 91h7m290-34h7m-110-55h7m-254 51h7m-2 25h7m361-76h7m-416 110h7m611-28h7m-368-31h7m176-59h7m-38 47h7m-61-16h7m-264-97h7m516 98h7m12 137h7m-110-100h7m-72-63h7m125-6h7m-47 72h7m-69-30h7m-327 30h7m321-102h7m23 50h7m-461 85h7m261-44h7m-163 29h7m-130-49h7m40-45h7m64-12h7m-25 98h7m55 8h7m21-33h7m-292-40h7m237 75h7m387 12h7m-483 1h7m-111-56h7m318-17h7m-233 55h7m481 10h7m6 58h7m-590-147h7m-77 52h7m525-50h7m-182-34h7m-274 95h7m68 3h7m-57-35h7m250-55h7m31 38h7m191-24h7m-247 53h7m237 23h7m-564 25h7m400-179h7m-48 92h7m190 5h7m-339 30h7m205 11h7m-445 6h7m464 0h7m-91-118h7m-382 166h7m239-56h7m196-35h7m-425-120h7m-6 209h7m180-27h7m12-34h7m312 35h7m-77-88h7m-185 61h7m-196 3h7m53-32h7m68 28h7m-122 40h7m-170 25h7m215-143h7m178-100h7m87 154h7m-180 41h7m-139 0h7m152-1h7m-59-24h7m-41 1h7m-270-5h7m464-18h7m-469 41h7m502-236h7m-83 247h7m74-53h7m-413-73h7m364-4h7m-397 107h7m81 16h7m251-47h7m-296 26h7m395 2h7m-17-7h7m46 169h7m-366-179h7m173-162h7m-77 164h7m1-6h7m40-126h7m-473 207h7m575-25h7m-65-8h7m-103-98h7m-283 98h7m-15-43h7m196-14h7m-144 23h7m417-19h7m-8 72h7m-301-49h7m-122-51h7m-122 68h7m397-149h7m-516 199h7m312-201h7m-229 91h7m151 36h7m351 56h7m-411-11h7m-139 11h7m375-69h7m-397-5h7m253 46h7m204-90h7m-414-38h7m393 124h7m-552-50h7m549 61h7m-47-85h7m-97-22h7m230 411h7m-109-449h7m-358 98h7m243-63h7m-86 89h7m-219 3h7m-86-57h7m501 74h7m-136-62h7m-395 17h7m428 28h7m-458 45h7m447-61h7m23 29h7m-485 25h7m514-17h7m-551-37h7m6 15h7m-13 50h7m384-153h7m-178 98h7m-262 55h7m135-94h7m312-25h7m-131 16h7m-279 86h7m104-9h7m294-15h7m-286 11h7m356-50h7m-265 24h7m290-122h7m-325 104h7m271 37h7m-414 28h7m157-107h7m-239 91h7m555 133h7m-417-234h7m336 82h7m-525-4h7m409-133h7m-61 129h7m-105 2h7m-53-11h7m307-94h7m2 109h7m19 51h7m-36-76h7m-40 21h7m73 190h7m-103-264h7m-327 3h7m-115 40h7m165 23h7m-190-34h7m353 59h7m159 240h7m-413-255h7m129-118h7m241 109h7m-398 36h7m-207-4h7m340-45h7m262 395h7m-432-370h7m-128-116h7m275 80h7m-118 43h7m-81-12h7m81-206h7m72 209h7m-351 58h7m190-115h7m359 72h7m-80-30h7m-171-15h7m-340 96h7m414-118h7m-201-68h7m290 120h7m-515 18h7m389-16h7m-418 28h7m-14-39h7m392 5h7m-129 12h7m-182 33h7m418-56h7m-75 9h7m55-28h7m-110 21h7m-69 15h7m270 68h7m-304-115h7m-298 83h7m80-101h7m-153 102h7m570-102h7m-108 61h7m-335-24h7m37-11h7m28-14h7m143-37h7m271 382h7m-6 5h7m-81-271h7m-230-42h7m144 11h7m-386-39h7m224-27h7m-48 86h7m183-12h7m-209 16h7m-150-42h7m333-20h7m-223-14h7m145 59h7m-97-43h7m123 46h7m-289 6h7m-151 24h7m420-69h7m-382 7h7m-45 2h7m14 74h7m63-49h7m5-88h7m444 113h7m-134-78h7m-135 48h7m255-132h7m-638 186h7m200-27h7m67-136h7m-281 77h7m185 73h7m392-25h7m-471 29h7m98-17h7m-134 11h7m262-58h7m-191 17h7m309-52h7m-297-58h7m294 86h7m-219 25h7m-238-68h7m313 80h7m207-99h7m-608 90h7m131 2h7m394-3h7m-233-45h7m-213 40h7m150-210h7m-167 195h7m-106 73h7m44 0h7m270-46h7m173 9h7m-123-117h7m-342 148h7m424-63h7m105 37h7m-367-180h7m-43-7h7m362 186h7m-240-173h7m-296 102h7m436-10h7m-124 70h7m234 44h7m-125-108h7m-321 26h7m56-25h7m-255-36h7m223 25h7m52-13h7m-122 73h7m-193 40h7m29-86h7m397 38h7m193-8h7m-19 74h7m-177-109h7m-74 71h7m208-9h7m-229-92h7m-222 129h7m429-21h7m-601 42h7m636 6h7m-536-27h7m456-74h7m-219 37h7m-121-153h7m-284 193h7m634-99h7m-157 72h7m-31-38h7m-145 31h7m7-90h7m-263 14h7m187 74h7m-129 2h7m268-44h7m157 22h7m-596 62h7m193-20h7m64-5h7m332-28h7m-36-39h7m-107-23h7m-296 26h7m-71 41h7m255-78h7m-295 105h7m436-105h7m96 334h7m-524-215h7m339-105h7m-58-12h7m-96 42h7m266 7h7m-186-11h7m-116-30h7m46 71h7m-106-12h7m-3-17h7m-54 27h7m37-5h7m360 75h7m-651-76h7m248-4h7m126-7h7m-245 60h7m421-185h7m-403 143h7m18 30h7m377-111h7m-446 106h7m301-105h7m-161 67h7m-167-40h7m418-40h7m-512 96h7m580 252h7m-361-246h7m-276-24h7m-2-22h7m396 12h7m145-109h7m-192 138h7m-26-28h7m-236-93h7m317 125h7m-345 11h7m225-33h7m-97-67h7m-180 54h7m93-114h7m412 167h7m-240-23h7m-139-38h7m146 22h7m-414 73h7m348-61h7m-179-22h7m394 8h7m-442 3h7m7-41h7m-88 87h7m184-157h7m-191 161h7m-30 2h7m128-38h7m281-17h7m-199 1h7m195-110h7m-242-7h7m-125-56h7m178 131h7m-104 64h7m-173-84h7m144 33h7m62 16h7m-179 62h7m81-72h7m132 48h7m106-29h7m-440 62h7m90-102h7m221 45h7m-210 34h7m14-8h7m337-90h7m-69-37h7m-37 120h7m-418 49h7m137-59h7m373-31h7m-271 40h7m365 290h7m-439-267h7m425 340h7m-98-354h7m-138-27h7m152 19h7m-538 39h7m468-260h7m-117 159h7m-250 75h7m-139-210h7m-36 200h7m200 9h7m51-158h7m-134 171h7m250-84h7m-87 55h7m238 16h7m-479 15h7m222-58h7m20-42h7m223 57h7m-582-30h7m-23 87h7m77-49h7m424 10h7m-336-86h7m260 87h7m-9-88h7m-195 93h7m162-24h7m-361 54h7m174-28h7m-18-38h7m105 2h7m160 31h7m-324-141h7m354 2h7m-74 98h7m8-5h7m-459 74h7m-20-105h7m144 68h7m139 4h7m106-85h7m54-33h7m-330 137h7m292-80h7m-270 58h7m-153-58h7m200-27h7m-89 90h7m110-77h7m242 69h7m-135-15h7m107-47h7m-214 46h7m-196-75h7m348 85h7m-490 53h7m586 7h7m-111-83h7m-180-7h7m-103 11h7m-223-67h7m1 141h7m377-96h7m84-8h7m76 90h7m-627 20h7m511-49h7m-174-82h7m-260 83h7m495-61h7m-346 40h7m-88-142h7m334 104h7m-330 8h7m116-37h7m-90-18h7m210 78h7m-90-67h7m-29-93h7m-359 116h7m469 41h7m85 36h7m-352-55h7m320 33h7m108 80h7m-646-12h7m13-47h7m159 4h7m78-1h7m304-93h7m-243 54h7m-176 5h7m19-172h7m404 166h7m-95 40h7m-481 16h7m-5-8h7m573 178h7m-26-161h7m-503 4h7m27-8h7m165-44h7m91-26h7m-58 23h7m85-42h7m-20 32h7m-176 19h7m-293 32h7m381-31h7m158-102h7m-12 25h7m-253 83h7m-153-45h7m474 379h7m-667-292h7m224-70h7m-166-30h7m145-58h7m-13 123h7m-110-163h7m271 56h7m-361 112h7m444-248h7m130 267h7m7 0h7m-635-142h7m154 98h7m58-14h7m380-113h7m-46 144h7m-45 9h7m-279-167h7m-116 164h7m213-21h7m79-40h7m-421-46h7m-23 83h7m180 31h7m-189-166h7m476-49h7m82 185h7m-447 4h7m470 294h7m-217-386h7m-183 72h7m289 33h7m0 14h7m-224-61h7m-270-61h7m190 108h7m-26-38h7m5 51h7m-234-37h7m20 53h7m448-140h7m43 118h7m-598-27h7m394-6h7m-399 54h7m141-46h7m494 342h7m-617-342h7m15 52h7m216-278h7m-84 246h7m94-4h7m-56-54h7m-60-14h7m-101 104h7m292-67h7m189 50h7m-123-75h7m-260 70h7m155-95h7m-100 53h7m136-19h7m-184 51h7m21-40h7m-99 48h7m197-87h7m-265 40h7m500 223h7m-48-186h7m-200-116h7m-310 129h7m519 333h7m-464-358h7m289-40h7m118 16h7m-633 96h7m17-35h7m-14-9h7m401-26h7m144-7h7m63 37h7m-236-64h7m-248-15h7m-181 106h7m206-150h7m114 107h7m-142-32h7m336 29h7m-27-23h7m-179-6h7m-64 8h7m193-44h7m-408 108h7m458-100h7m-142 37h7m-252-102h7m172 124h7m-136-5h7m-191-173h7m556 95h7m-613 112h7m65-61h7m464-56h7m-19 85h7m-532 57h7m552-150h7m-227 82h7m223 18h7m-366 18h7m437 325h7m-150-439h7m-135-170h7m123 110h7m120 192h7m-150-50h7m-294 7h7m440 233h7m-380-228h7m372 138h7m-206-179h7m37 19h7m-245-50h7m188-56h7m-273 37h7m282 43h7m-229 9h7m-230 81h7m151-28h7m-184-37h7m453-31h7m-361 11h7m411-9h7m-411 33h7m106 12h7m-173-73h7m319-83h7m-317 182h7m220-22h7m-146-21h7m114-118h7m57 77h7m-2-32h7m-154 112h7m407 219h7m-583-199h7m58-68h7m-69 74h7m238-40h7m-165-2h7m-44 34h7m30-22h7m37-23h7m17 5h7m-237-45h7m478 14h7m-503 81h7m598-64h7m-476-48h7m456 76h7m-270-55h7m-266 68h7m331-89h7m0 9h7m-176 70h7m-251-62h7m565-78h7m-539 90h7m58 52h7m12-96h7m410-19h7m-302-48h7m-89 127h7m272 9h7m-204 22h7m273-16h7m-452 31h7m333-84h7m-85-53h7m146 104h7m-154-1h7m-204 32h7m-118 2h7m539-72h7m-546 82h7m333-81h7m-388 99h7m357-108h7m-335 17h7m101 17h7m188-1h7m274 29h7m-360-42h7m274-218h7m-54 213h7m-43-15h7m157-113h7m-142 159h7m-136-26h7m-234-23h7m-14 19h7m174 11h7m139-43h7m184-132h7m-135 191h7m-95-25h7m176 35h7m-400 20h7m69-57h7m-116 57h7m111-17h7m-217 4h7m112-26h7m115-6h7m-274 70h7m280-253h7m-194 212h7m18-60h7m111-32h7m-336 143h7m128-44h7m123-23h7m375 27h7m-270-212h7m38 147h7m118 37h7m-541-117h7m329 82h7m-322 21h7m200-15h7m-68-78h7m51 121h7m347 4h7m-427-14h7m471 346h7m-526-394h7m-98 78h7m470-88h7m0 68h7m58-8h7m-58-22h7m45 9h7m-434 43h7m154-19h7m-231-85h7m269-37h7m-292 123h7m207-3h7m-145-123h7m303 86h7m-84-81h7m225 105h7m-616-55h7m70 93h7m-26-24h7m294-39h7m-83 36h7m160-38h7m-283-43h7m418-37h7m24 443h7m-409-343h7m-96-31h7m430 61h7m-276-212h7m251 183h7m-535 30h7m271-100h7m-231 108h7m532 313h7m-259-338h7m87-21h7m111 37h7m27 342h7m-33-318h7m12 11h7m-1 343h7m-4-98h7m7-77h7m-23-160h7m3 133h7m-4 148h7m-28-272h7m-20-26h7m62 223h7m-35 127h7m-15-323h7m-11 244h7m-16 90h7m-12-336h7m3 4h7m18 190h7m-81-235h7m35 368h7m24-271h7m-24-59h7m-11 301h7m-10-110h7m6-1h7m-15 63h7m-22-252h7m3 207h7m-18-209h7m9 264h7m31-169h7m-45 86h7m15-6h7m-27-75h7m44 80h7m-63 23h7m-3-21h7m4-42h7m-59-173h7m39 112h7m-15 194h7m-6-73h7m-4-143h7m-9 106h7m-7 89h7m-9-157h7m14 184h7m-36 39h7m-9-332h7m-17-18h7m14 251h7m5-91h7m-26-108h7m6 240h7m-15-77h7m-9-141h7m-33-71h7m54 207h7m-8-7h7m-30-33h7m-11-72h7m-14 251h7m-54-357h7m47 75h7m-4 119h7m-7 160h7m-33-322h7m19 235h7m-9-19h7m-44-235h7m28 305h7m-44-302h7m26 329h7m-2-283h7m4 291h7m-4-107h7m-36-214h7m1 277h7m8-255h7m-24 214h7m-18-245h7m9 341h7m-16-30h7m3-115h7m-10-93h7m-6 50h7m3 74h7m-8 95h7m-10-317h7m23 179h7m-42-20h7m-10 81h7m-11 107h7m-2-31h7m5-220h7m-15 146h7m-7-166h7m-11 168h7m-9-213h7m-6 192h7m38-148h7m-35-2h7m-24 15h7m21 69h7m-39 111h7m7-28h7m-2-85h7m-18 15h7m-11 67h7m17-148h7m-20 99h7m-12 54h7m-3-124h7m-55-139h7m67 7h7m-37 332h7m3-287h7m-3 48h7m-16 141h7m-17 34h7m-4 36h7m9-30h7m-22-192h7m-11 41h7m0 197h7m-3-148h7m-25 149h7m14-199h7m-11 67h7m-17-105h7m-4 157h7m10 103h7m-34 12h7m2-174h7m-9-60h7m34 55h7m-47 100h7m24-186h7m-45-86h7m-8 307h7m3 37h7m-4-215h7m-4 84h7m5 99h7m-30-207h7m3 173h7m-16-48h7m5-221h7m-11 110h7m-23 233h7m1-129h7m12-28h7m-17-155h7m-3 310h7m14-68h7m-33-28h7m1 41h7m-9-74h7m-23-173h7m19 56h7m-31 175h7m-23 81h7m-10-357h7m34 6h7m-23 108h7m-10 190h7m-3-86h7m-273-354h7m53-61h7m-87 93h7m45-65h7m13-43h7m-15 13h7m-30 22h7m29 8h7m-43-33h7m-8 64h7m-15-12h7m38-68h7m21 4h7m-59 89h7m55-124h7m-79 156h7m18-64h7m-11 9h7m7-6h7m-53 41h7m32-46h7m-77 35h7m16-45h7m47-33h7m-3 5h7m16 1h7m-56 89h7m13-73h7m-6-10h7m-64 14h7m67 14h7m-74-14h7m-28 31h7m37-20h7m-12-13h7m-19-48h7m11 80h7m-24-5h7m33-35h7m-57 7h7m97-131h7m-52 22h7m-30 94h7m91-54h7m-92 4h7m-59 85h7m20 0h7m-24 6h7m96-83h7m-158 123h7m82-40h7m5 6h7m7-38h7m-78 34h7m70-75h7m-116 122h7m76-83h7m-13 52h7m13-40h7m-24-29h7m-53 17h7m66-30h7m-25-17h7m-70 89h7m22-27h7m18-71h7m-25 88h7m66-45h7m-75-22h7m-56 73h7m47-38h7m-27-4h7m-1 12h7m21-34h7m-75 49h7m86-92h7m-59 77h7m30-63h7m-36 44h7m-8-28h7m18 43h7m17-50h7m-19 53h7m4-21h7m-114 55h7m72-81h7m-59 48h7m51-91h7m-55 61h7m50 59h7m27-155h7m-79 185h7m-64-50h7m44-46h7m-25 110h7m-23-61h7m37-30h7m29-40h7m27-8h7m-1-9h7m-72 71h7m-47-24h7m-4 83h7m-73 35h7m43-50h7m6 24h7m77-113h7m-28-39h7m-77 120h7m44-53h7m-99 101h7m119-99h7m-65-21h7m4 7h7m-12 68h7m-31-49h7m32 62h7m-35-9h7m34-40h7m-59-6h7m-21 15h7m119-132h7m-81 147h7m-2-63h7m0 7h7m35-5h7m-84 44h7m20 10h7m3-31h7m-16-42h7m5 61h7m8-44h7m-67 40h7m-24 28h7m-2-51h7m44-48h7m-11 59h7m-77 6h7m82-41h7m-33 65h7m-8-79h7m-53 35h7m45 48h7m-36 19h7m-49 16h7m108-86h7m-40 10h7m-25-98h7m0 77h7m36-40h7m-13 50h7m-45-1h7m-26 40h7m-32 28h7m-4-55h7m71-82h7m10 69h7m-59-34h7m-48 85h7m17-5h7m30-27h7m-43 61h7m-80 11h7m136-131h7m-127 129h7m72-50h7m-66 59h7m-1-56h7m27 27h7m29-109h7m-114 129h7m52-27h7m-57 42h7m87-123h7m-30 64h7m-18-10h7m29 5h7m-69 67h7m-9-90h7m5 12h7m29-73h7m7 35h7m-100 103h7m63-17h7m-43-44h7m0-74h7m11 109h7m-5-127h7m52 13h7m-45 93h7m-74-16h7m55-90h7m45-36h7m-149 178h7m22-48h7m-14 45h7m52-54h7m-21-74h7m-56 76h7m-8 56h7m33-59h7m-14 18h7m37 8h7m24-104h7m-87 24h7m49 88h7m-57 11h7m35-107h7m-54 65h7m34-40h7m37-18h7m-30 87h7m-74-28h7m-10-6h7m2 18h7m7-78h7m-65 114h7m50-34h7m-3 35h7m-30-34h7m36-8h7m-20-26h7m-31 40h7m14-49h7m-47 0h7m31 61h7m32-104h7m-28 24h7m-47 83h7m-61-7h7m45-31h7m63-79h7m-124 130h7m40-85h7m55-13h7m-30 69h7m-43 25h7m-39 6h7m52-92h7m-9 49h7m56-66h7m-69 28h7m-31 111h7m27-198h7m0 72h7m-6 12h7m-41 36h7m19 8h7m-45-12h7m44-26h7m-21 5h7m41-36h7m-71 40h7m-23-41h7m-23 68h7m21-27h7m85-89h7m-44 112h7m-66-15h7m52-40h7m-10 18h7m-81 34h7m-4 26h7m26-92h7m-61 65h7m112-86h7m-100 54h7m-36 64h7m15-56h7m30 43h7m-19-25h7m-80 90h7m94-89h7m-88 43h7m11 14h7m-36-47h7m-6 68h7m37-75h7m24 10h7m-28 31h7m30 44h7m-52-24h7m19-93h7m-110 85h7m64 30h7m7-112h7m62-9h7m-87 77h7m-35 35h7m70-178h7m-48 89h7m1 16h7m19-7h7m4-8h7m9-22h7m-72 67h7m-21-30h7m87-90h7m-111 56h7m37 49h7m-30-18h7m50-73h7m-60 84h7m17 10h7m-2-50h7m-39 40h7m56-93h7m-63 30h7m24 44h7m16-47h7m-29 31h7m40 0h7m-86 2h7m18-9h7m11 10h7m-45 6h7m-17-17h7m-1 6h7m17 5h7m-52 13h7m11-6h7m12 27h7m-9-75h7m40 35h7m-20-22h7m-19 73h7m-73-32h7m38 5h7m-69 31h7m111-118h7m-57 45h7m-71 108h7m73-134h7m-96 146h7m44-65h7m-37 30h7m30-7h7m15-31h7m-68-30h7m-24 101h7m38-97h7m87-8h7m-143 70h7m45-22h7m-43 19h7m51-103h7m-50 47h7m6 11h7m46-54h7m-74 82h7m76-70h7m-101 41h7m48 26h7m-48-43h7m22 6h7m-17 17h7m-50 32h7m77-67h7m-111 61h7m103-65h7m-56 29h7m30-93h7m-42 131h7m20-38h7m-62 87h7m52-136h7m-9 11h7m-35 51h7m-10 10h7m62-50h7m-41 17h7m-81 77h7m53-75h7m-56 30h7m68-46h7m-38 34h7m-113 105h7m133-136h7m-69 143h7m-20-87h7m-6 37h7m7-4h7m46-89h7m-15-14h7m-94 125h7m41-126h7m-17 117h7m50-71h7m-23-27h7m-1 21h7m-40 7h7m2-17h7m50-99h7m-140 169h7m90-104h7m-32 42h7m-25-21h7m3 20h7m46-29h7m-110 84h7m90-54h7m-25-26h7m-37-44h7m-33 92h7m5 42h7m29-63h7m-13 23h7m0-56h7m-9-12h7m12-42h7m-67 95h7m47 16h7m-24 42h7m36-115h7m-61 96h7m-109 81h7m82-19h7m-37-43h7m88-61h7m-109 86h7m73-147h7m-71 70h7m69-29h7m-23 1h7m-1-23h7m1 24h7m6-30h7m-42 58h7m-104 42h7m128-119h7m-104 111h7m33-32h7m-9 40h7m4-115h7m-23 38h7m7 31h7m-46 51h7m89-164h7m-88 166h7m75-102h7m-90 75h7m17-40h7m23 8h7m-22-21h7m2 57h7m-36 50h7m21-114h7m-23 90h7m39-101h7m-29-75h7" stroke="#111" stroke-width="7" fill="none"/>
<path d="M546.2,497.8 L552.9,496.3 L561.8,494.8 L570.7,493.3 L579.6,491.9 L587.0,491.1 L594.4,491.9 L601.8,491.9 L609.2,493.3 L612.9,496.3 L614.4,502.2 L614.8,514.1 L613.6,530.4 L612.1,532.6 L546.2,532.6" fill="#000" stroke="#000" stroke-width="1.2" stroke-linejoin="round"/>
<clipPath id="fc2"><path d="M564.0,506.7 L566.2,501.0 L572.1,498.1 L579.6,496.6 L585.5,497.3 L589.9,499.6 L593.6,497.3 L600.3,495.9 L607.7,497.3 L610.4,501.0 L609.2,531.1 L572.1,531.1 L569.9,523.0 L567.0,515.6 L564.4,509.6Z"/></clipPath>
<path d="M564.0,506.7 L566.2,501.0 L572.1,498.1 L579.6,496.6 L585.5,497.3 L589.9,499.6 L593.6,497.3 L600.3,495.9 L607.7,497.3 L610.4,501.0 L609.2,531.1 L572.1,531.1 L569.9,523.0 L567.0,515.6 L564.4,509.6Z" fill="#fff" stroke="#555" stroke-width="0.8"/>
<g clip-path="url(#fc2)">
<path d="M569.8 534.8V507.1A13.3 13.3 0 0 1 596.4 507.1V534.8Z" fill="#fcfcfc" stroke="#3a3a3a" stroke-width="0.5"/>
<path d="M571.1 534.8V507.1A12.0 12.0 0 0 1 595.1 507.1V534.8Z" fill="#f3f3f3" stroke="#3a3a3a" stroke-width="0.5"/>
<path d="M572.4 534.8V507.1A10.7 10.7 0 0 1 593.8 507.1V534.8Z" fill="#eaeaea" stroke="#3a3a3a" stroke-width="0.5"/>
<path d="M573.8 534.8V507.1A9.3 9.3 0 0 1 592.4 507.1V534.8Z" fill="#e1e1e1" stroke="#3a3a3a" stroke-width="0.5"/>
<path d="M575.1 534.8V507.1A8.0 8.0 0 0 1 591.1 507.1V534.8Z" fill="#d8d8d8" stroke="#3a3a3a" stroke-width="0.5"/>
<path d="M576.4 534.8V507.1A6.7 6.7 0 0 1 589.8 507.1V534.8Z" fill="#cfcfcf" stroke="#3a3a3a" stroke-width="0.5"/>
<path d="M577.8 534.8V507.1A5.3 5.3 0 0 1 588.4 507.1V534.8Z" fill="#d8d8d8" stroke="#3a3a3a" stroke-width="0.5"/>
<path d="M579.1 534.8V507.1A4.0 4.0 0 0 1 587.1 507.1V534.8Z" fill="#e1e1e1" stroke="#3a3a3a" stroke-width="0.5"/>
<ellipse cx="583.1" cy="507.1" rx="4.8" ry="5.8" fill="#e1e1e1" stroke="#4a4a4a" stroke-width="0.45"/>
<ellipse cx="583.1" cy="507.1" rx="3.5" ry="4.2" fill="#eaeaea" stroke="#4a4a4a" stroke-width="0.45"/>
<ellipse cx="583.1" cy="507.1" rx="2.1" ry="2.6" fill="#fff" stroke="#4a4a4a" stroke-width="0.45"/>
<path d="M592.4 534.8V507.6A9.3 9.3 0 0 1 611.1 507.6V534.8Z" fill="#fcfcfc" stroke="#3a3a3a" stroke-width="0.5"/>
<path d="M593.8 534.8V507.6A8.0 8.0 0 0 1 609.8 507.6V534.8Z" fill="#efefef" stroke="#3a3a3a" stroke-width="0.5"/>
<path d="M595.1 534.8V507.6A6.7 6.7 0 0 1 608.4 507.6V534.8Z" fill="#e2e2e2" stroke="#3a3a3a" stroke-width="0.5"/>
<path d="M596.4 534.8V507.6A5.3 5.3 0 0 1 607.1 507.6V534.8Z" fill="#d5d5d5" stroke="#3a3a3a" stroke-width="0.5"/>
<path d="M597.8 534.8V507.6A4.0 4.0 0 0 1 605.8 507.6V534.8Z" fill="#d5d5d5" stroke="#3a3a3a" stroke-width="0.5"/>
<ellipse cx="601.8" cy="507.6" rx="4.8" ry="5.8" fill="#d5d5d5" stroke="#4a4a4a" stroke-width="0.45"/>
<ellipse cx="601.8" cy="507.6" rx="3.5" ry="4.2" fill="#e2e2e2" stroke="#4a4a4a" stroke-width="0.45"/>
<ellipse cx="601.8" cy="507.6" rx="2.1" ry="2.6" fill="#fff" stroke="#4a4a4a" stroke-width="0.45"/>
<path d="M589.8 534.8V519.3A4.4 6.2 0 0 1 598.7 519.3V534.8Z" fill="#fff" stroke="none"/>
<path d="M592.7 534.8V519.3A1.5 2.1 0 0 1 595.7 519.3V534.8" fill="none" stroke="#505050" stroke-width="0.5"/>
<path d="M591.3 534.8V519.3A3.0 4.1 0 0 1 597.2 519.3V534.8" fill="none" stroke="#505050" stroke-width="0.5"/>
<path d="M589.8 534.8V519.3A4.4 6.2 0 0 1 598.7 519.3V534.8" fill="none" stroke="#505050" stroke-width="0.5"/>
</g>
<path d="M582.2,483.3 L584.0,472.6 L587.0,467.4 L601.8,455.3 L614.4,458.1 L602.5,474.1 L592.9,486.7 L585.5,485.9 L582.2,483.3" fill="none" stroke="#111" stroke-width="1.2" stroke-linejoin="round"/>
<ellipse cx="481.1" cy="635.0" rx="12.2" ry="4.5" fill="url(#haze)" transform="rotate(-55 481.1 635.0)" opacity="0.6"/>
<path transform="scale(0.1)" d="M4912 6519h7m-227-34h7m-253 36h7m411-55h7m-419 50h7m-51-125h7m462 89h7m134-162h7m-521 187h7m-18-39h7m268-9h7m115 18h7m-320-31h7m425 96h7m-322-49h7m171-7h7m55-26h7m75 36h7m-254-212h7m134 215h7m-484-109h7m-34 6h7m586 79h7m3 14h7m-145-23h7m-364 52h7m348-34h7m-428 6h7m88 10h7m410-29h7m-94-53h7m-220 50h7m-10 9h7m229-84h7m-334 47h7m-63 83h7m313-97h7m-249-173h7m286 157h7m-429-20h7m193 95h7m-46-23h7m95 19h7m-325 10h7m441-44h7m-226-58h7m-265 163h7m-7-40h7m337-26h7m-5 15h7m-340-141h7m571 165h7m-163-56h7m-87-78h7m63-51h7m20 27h7m-392 70h7m132-77h7m314-40h7m-32 171h7m-164-81h7m-325 95h7m341-79h7m-161 27h7m261 38h7m-44-116h7m-219 88h7m71-71h7m-153 105h7m76-54h7m-169-140h7m231 120h7m-69 80h7m-25-47h7m-208-146h7m331 155h7m-387 76h7m203-94h7m-118 44h7m58-24h7m278 5h7m35-10h7m-461 20h7m266-66h7m301 99h7m-66-3h7m-143-1h7m112-21h7m-259-29h7m-63 31h7m210-35h7m-441 76h7m591-14h7m-442-56h7m47-133h7m408 380h7m-523-199h7m143-28h7m149-99h7m-417 163h7m20-28h7m8-16h7m150-73h7m404-107h7m-380 120h7m-203 38h7m505-81h7m-514 125h7m512-66h7m-102 58h7m-105-12h7m74-80h7m-290 86h7m23-27h7m297-167h7m-311 176h7m423 108h7m-385-120h7m186-205h7m-181 110h7m-54 87h7m266-161h7m-39 136h7m42-73h7m79 126h7m-392 5h7m88-31h7m-366-209h7m202 86h7m-205 182h7m516-78h7m-83 18h7m-403-36h7m449 44h7m-142-78h7m-53 59h7m-14-41h7m164 73h7m21-1h7m-77-8h7m146-124h7m-89 132h7m-298-20h7m166 29h7m-48-160h7m-334 74h7m339-23h7m116 94h7m-440-64h7m510 28h7m-456 30h7m195-8h7m-24-9h7m328 154h7m-10-163h7m-551-15h7m132 11h7m116-31h7m-185 25h7m40-30h7m77 24h7m336 176h7m-683-188h7m347 11h7m202-46h7m-310-148h7m-4 183h7m294 71h7m-288-22h7m-60 0h7m337 46h7m90 225h7m-300-308h7m-184-13h7m384 73h7m-262-13h7m-176-82h7m259 69h7m-8 23h7m-440 40h7m382-48h7m-30-11h7m-197-41h7m60-10h7m257 65h7m-495-46h7m347 4h7m84 18h7m144 63h7m35-37h7m-390-131h7m326 113h7m-610 28h7m267-50h7m278 63h7m2-12h7m-411 12h7m-105 6h7m280-190h7m-250 177h7m130-64h7m-20-4h7m-146 90h7m286-108h7m-311 110h7m357-25h7m168-42h7m-528 34h7m-78 46h7m195-164h7m373 65h7m-193 8h7m-93-18h7m-17 33h7m225 34h7m-301-68h7m374 88h7m-369-52h7m-159 25h7m388 13h7m-220-29h7m62-69h7m-322 87h7m42-34h7m327 34h7m-312 0h7m60-123h7m364 58h7m-334 34h7m-138 20h7m504 51h7m-386-47h7m300 12h7m-251-7h7m131-25h7m68-26h7m-45 55h7m-343-37h7m-144-77h7m450 90h7m-252 25h7m125-90h7m-305 121h7m380-56h7m65 13h7m123 96h7m-457-122h7m174 1h7m150-14h7m-7 56h7m-220-53h7m46 46h7m149-12h7m-452-72h7m264 4h7m118 40h7m112 69h7m-403-31h7m199-5h7m-421 55h7m93-65h7m184-19h7m-309 52h7m158-4h7m-141 29h7m227-47h7m36-4h7m178-97h7m-288 113h7m430 38h7m-221-119h7m-121-57h7m-236 89h7m511-63h7m-47 98h7m-236-105h7m-97 101h7m-245 55h7m68-167h7m108 110h7m446 8h7m-375 2h7m-54-10h7m390 25h7m10 22h7m-638-118h7m12 39h7m347 28h7m156 10h7m95 192h7m-34-302h7m-394 54h7m233 18h7m-487 35h7m496 18h7m-461 32h7m299-45h7m199 0h7m94 46h7m-393-49h7m-8-44h7m289-53h7m-373 115h7m225-67h7m-19-30h7m105 53h7m0 51h7m77-39h7m-587 55h7m366-45h7m194 33h7m-314-61h7m302 60h7m-39-67h7m-227-127h7m207 120h7m-237 53h7m-229-39h7m-77 18h7m149 1h7m317-64h7m-58 70h7m-151-238h7m259 234h7m-584-73h7m-30 139h7m411-48h7m57-48h7m-407-63h7m560 231h7m-18-8h7m-354-214h7m310 73h7m-589 48h7m415-28h7m-373 5h7m-24 2h7m-36-32h7m71-106h7m-79 123h7m358 15h7m-18-37h7m-15 34h7m-101-101h7m89 97h7m-200-107h7m-199 131h7m307-46h7m-355 89h7m565-67h7m-382-11h7m-170 69h7m521-108h7m-437 64h7m-89 20h7m296-106h7m-17-29h7m328 244h7m-657-87h7m421-40h7m147 21h7m-581-303h7m232 233h7m122 39h7m-184-14h7m267-54h7m-37 77h7m-166-151h7m-202 151h7m345-26h7m-118-88h7m-302 98h7m144-62h7m264 59h7m-390-39h7m366 20h7m24-125h7m-348 108h7m375 56h7m59 2h7m29-13h7m5-71h7m-137 71h7m-228-46h7m229 43h7m57 24h7m-264-24h7m-246 18h7m-91-7h7m383-26h7m114-1h7m-85 34h7m-247-1h7m-123-90h7m-24 64h7m158-43h7m330-17h7m56-75h7m-393-108h7m241 262h7m-302-36h7m345 55h7m24-58h7m-210 9h7m-151 4h7m220 7h7m-8-90h7m-434 151h7m575-15h7m-94-35h7m-408 28h7m132-73h7m-262 103h7m152-164h7m308 115h7m-243-30h7m201 24h7m-248-31h7m-88 21h7m341-9h7m-478 48h7m343-40h7m-131-29h7m-23 39h7m341 29h7m14 0h7m-247-71h7m-105-8h7m316 60h7m-568 32h7m550-64h7m-91 17h7m-300-50h7m159-86h7m-285 152h7m355-133h7m-160 35h7m-250 71h7m142-40h7m-28 62h7m-27-62h7m295-69h7m-210 130h7m262 6h7m-69-29h7m-193 23h7m-155-62h7m151-65h7m230 105h7m112 245h7m-403-264h7m-243-30h7m58 52h7m76 6h7m125-6h7m-207-17h7m303 38h7m229 43h7m-518-43h7m89-36h7m360 57h7m-231-81h7m-223 49h7m121-120h7m219 111h7m-489 39h7m502-31h7m-297-46h7m-245 48h7m432 15h7m-190-119h7m-112 84h7m49-12h7m24 20h7m357-15h7m43 205h7m-369-196h7m265 26h7m-134 2h7m-101-20h7m246 23h7m20-10h7m-424-35h7m395 7h7m-80 7h7m-147 22h7m139-32h7m-132 24h7m71-13h7m-309-253h7m301 231h7m39 1h7m-317-135h7m348 144h7m-328-2h7m-272-40h7m528 50h7m-256-68h7m-309 125h7m149-66h7m63-11h7m363 47h7m-540 41h7m484-52h7m-275 14h7m-238 40h7m533-15h7m-398-54h7m164 14h7m43-38h7m224 302h7m-476-243h7m-12-7h7m-183-42h7m160-24h7m359-6h7m-544 77h7m556-39h7m-176 4h7m142 9h7m-327-13h7m74 22h7m130-83h7m-20 105h7m-176-93h7m-194 77h7m369-25h7m-247 39h7m248-3h7m-77-46h7m75 51h7m164-40h7m-76 46h7m-110-27h7m-21-45h7m-206-117h7m13 138h7m182 42h7m116-2h7m-13 14h7m-527-35h7m73 1h7m-35-37h7m359 1h7m-418 84h7m299-37h7m84-26h7m140-34h7m-196-31h7m-107 75h7m-311-3h7m404-25h7m-111 12h7m270 41h7m-538-151h7m417 30h7m145 352h7m-572-244h7m221-21h7m194 34h7m119 32h7m-475-129h7m-41 35h7m21 41h7m126 0h7m234-129h7m62 170h7m-619-2h7m479-52h7m143-186h7m-196 211h7m-198 5h7m-13-79h7m-60 77h7m145-134h7m66 137h7m-153-15h7m252 4h7m-258-115h7m-107 102h7m459 174h7m-307-214h7m-147 11h7m52-52h7m85 26h7m4 6h7m-131 67h7m-25-13h7m-245-11h7m340-11h7m116 51h7m-401-50h7m-65-29h7m311-137h7m232 199h7m-358-21h7m283 10h7m-41-250h7m13 242h7m-12 2h7m-116-10h7m234-190h7m-257 174h7m-324 39h7m556 30h7m-112-18h7m-49-6h7m-87-84h7m-391 33h7m328 38h7m-155-20h7m289 43h7m-464 25h7m377-55h7m81-35h7m-277 11h7m-158 25h7m335 15h7m6 10h7m201 1h7m-41-35h7m-489-25h7m266 32h7m46-46h7m-16 69h7m188-94h7m-369-59h7m374 372h7m-554-208h7m197-19h7m-179-50h7m-156 62h7m258-73h7m-109 49h7m-38 43h7m437-22h7m-395-150h7m44 110h7m-163 43h7m493-79h7m-46-48h7m-407 142h7m-75-44h7m276-1h7m106 29h7m-78-30h7m-326-26h7m24-15h7m385 55h7m-216 2h7m-221-24h7m151-7h7m-9 31h7m-147-43h7m177 48h7m293 25h7m-446-7h7m218-101h7m-367-9h7m450 8h7m-198 60h7m-230 56h7m522-17h7m14-86h7m6 103h7m-346-129h7m-83 99h7m-205 18h7m354-27h7m-206-29h7m-65-20h7m469 58h7m-512-9h7m105 21h7m275-39h7m-305 31h7m301-131h7m-260 87h7m-97 29h7m238-5h7m10-22h7m-389 89h7m245-52h7m83-47h7m47-70h7m-19 39h7m-342 0h7m547 68h7m-76-7h7m-275 15h7m24-66h7m207-38h7m-195-61h7m-107 178h7m30-48h7m229 48h7m-516-24h7m106-69h7m249 80h7m-38-80h7m-210-78h7m-121 207h7m360-106h7m-2-86h7m-280 173h7m222-47h7m-103 0h7m324 33h7m-137-43h7m-284-96h7m-27 128h7m-50-43h7m334 34h7m-399-3h7m143-24h7m209 49h7m-422-59h7m553 71h7m-446-34h7m408 15h7m77 38h7m-41-15h7m-214-237h7m75 82h7m-260-50h7m369 190h7m-96-140h7m-387 122h7m372-23h7m93 29h7m-327-8h7m-125-100h7m-16-10h7m362 91h7m-348 41h7m-133-80h7m566-83h7m-469 0h7m102 125h7m312-47h7m-164 65h7m-396 36h7m99-25h7m203-26h7m-249-81h7m97 109h7m-252 7h7m7-5h7m-10 12h7m397-61h7m-281-46h7m508 38h7m-34-127h7m-392 136h7m25-49h7m-175 104h7m186-60h7m361 391h7m-679-313h7m587-11h7m-251-76h7m211 56h7m-164-181h7m241 181h7m-439-56h7m260 4h7m-44 34h7m21 7h7m-337 23h7m212-25h7m-192 5h7m54-20h7m404 49h7m-297-53h7m-8-70h7m-24 58h7m-124 37h7m-101 22h7m42-5h7m82-59h7m-212 2h7m223-12h7m-22-35h7m163 98h7m-96-24h7m128 9h7m-363 28h7m512 253h7m-508-414h7m-143 162h7m253-85h7m231-133h7m-323 203h7m-77 17h7m29-64h7m419 65h7m-433-139h7m210 87h7m-358 73h7m92-79h7m-116 44h7m511 15h7m-368-42h7m212-57h7m40 55h7m-239-30h7m76-107h7m40 105h7m87 24h7m-126-37h7m-5-155h7m211 195h7m-355 26h7m69-30h7m4 14h7m26-36h7m-264 28h7m407 27h7m-322 12h7m145-83h7m-48 18h7m125 50h7m-382 8h7m586-47h7m-333 22h7m-221-10h7m424 16h7m-470 35h7m417-97h7m-216-54h7m-15 130h7m-133-112h7m335 119h7m-293-27h7m126 15h7m293-10h7m-455 26h7m202-176h7m93 61h7m99 62h7m-563 66h7m350-60h7m-255 50h7m434-57h7m-392 14h7m383 43h7m-173-27h7m181-58h7m23 82h7m-307-38h7m-114-153h7m414-82h7m-48 248h7m-176-122h7m-164-16h7m243 151h7m-305-66h7m-140 76h7m13 6h7m480-189h7m-118 119h7m-214 9h7m-221 63h7m140-40h7m208 13h7m-294-99h7m364-35h7m-9 148h7m-206-115h7m210 115h7m-227-61h7m-328 97h7m490-91h7m-207-2h7m47 24h7m-308-12h7m461 24h7m-9-72h7m-60 1h7m180 131h7m-23-42h7m-119-64h7m-470 48h7m-13-24h7m163 15h7m-52-64h7m243 71h7m62 20h7m34-40h7m-31-4h7m142 236h7m-362-251h7m63 32h7m-184-64h7m341-93h7m-97 150h7m-205-41h7m166-94h7m60 152h7m-326 23h7m334-25h7m-269 14h7m61-139h7m-155 71h7m321 21h7m-118 30h7m46-25h7m193 47h7m-425-142h7m177 116h7m11 19h7m-321-102h7m180 6h7m-177 80h7m9-61h7m238 50h7m-152 18h7m-126-38h7m63 52h7m43-36h7m403 320h7m-405-499h7m209 191h7m-227 9h7m-174 5h7m325 7h7m-119-13h7m79-11h7m36-58h7m-184 56h7m-229 56h7m362-125h7m-336-96h7m522 194h7m-263-71h7m-150 48h7m261-4h7m-201-25h7m-226 48h7m115 2h7m149-75h7m-6 31h7m91 21h7m206 204h7m-670-173h7m461-24h7m-209-7h7m-113-55h7m415 83h7m-210-44h7m-302-7h7m265-237h7m251 170h7m-449 120h7m367 7h7m-91-14h7m5 10h7m-427-90h7m284 42h7m304-5h7m-515-12h7m102 20h7m-57 28h7m-14-3h7m-84-90h7m122 54h7m288-1h7m-453-107h7m521 79h7m-418-25h7m206 104h7m-187-73h7m107-111h7m160 91h7m123 233h7m-57-117h7m-81-13h7m-211-51h7m-298 21h7m480 20h7m-376-76h7m186 68h7m-158-160h7m-28 156h7m112-124h7m237 123h7m-104 16h7m-417 11h7m381-22h7m-410-60h7m91 85h7m-76 15h7m130-76h7m245 28h7m-103-15h7m37 18h7m23 12h7m196 15h7m-257-33h7m-82-4h7m127-66h7m131-111h7m-272 147h7m-78 33h7m100-203h7m-315 185h7m175-13h7m-46-15h7m150 37h7m-40 24h7m-245-103h7m-18 116h7m393-5h7m171 14h7m14-10h7m-263-68h7m-345 56h7m442-76h7m-17 24h7m-420 56h7m253-8h7m168 16h7m-145-32h7m-280-134h7m304 79h7m-16 27h7m174 70h7m-343-33h7m141-19h7m214 46h7m-451-151h7m301 117h7m-244-57h7m-160 30h7m46-34h7m-111-23h7m530 126h7m-485-142h7m442 119h7m-19-32h7m-385-22h7m108 46h7m290-45h7m-421 36h7m292 0h7m-297-13h7m465 66h7m-482-60h7m492-18h7m-672 39h7m81 22h7m-9-28h7m578 44h7m-434-168h7m212 141h7m138 0h7m45 120h7m-60-144h7m-269 1h7m-25-73h7m39-150h7m-22 95h7m-280 96h7m310-82h7m-186 98h7m318 34h7m-308-112h7m182 75h7m-438 5h7m265 14h7m-27 9h7m303-67h7m78 52h7m-555 17h7m561 117h7m-452-118h7m-124 13h7m299-10h7m162-7h7m-480 29h7m232-48h7m-23 19h7m-106-29h7m-192 38h7m509-31h7m-492 5h7m-39 59h7m-57-20h7m108-7h7m-46-106h7m10 64h7m443 20h7m-159-11h7m154-21h7m-512 18h7m36 23h7m22-8h7m314-57h7m-231 76h7m78-153h7m62 89h7m138 17h7m118-102h7m-150 62h7m-413 96h7m380-51h7m96-27h7m-368 60h7m215 6h7m-118-23h7m-71-40h7m152 9h7m-398-35h7m432-41h7m-70 68h7m181 5h7m-180 58h7m-423-22h7m554 14h7m-441-9h7m423-47h7m-491 82h7m46-81h7m22-55h7m102 104h7m-4 4h7m309 32h7m-322-52h7m-265 65h7m641 180h7m-394-340h7m325 33h7m-131 55h7m-154-43h7m55-139h7m-294 105h7m384 94h7m57 21h7m-318-52h7m387 80h7m-91-72h7m43 51h7m-182-133h7m143 77h7m-37 8h7m-203 23h7m-30-214h7m284 266h7m-444-44h7m360 18h7m-60-7h7m-296-214h7m-154 192h7m95-54h7m-148 50h7m122-153h7m42 115h7m-211-54h7m405-29h7m67 155h7m-7-25h7m-376-98h7m308 94h7m-410-1h7m-15 49h7m-15 7h7m469-40h7m156 262h7m-135-320h7m-113 10h7m-350-24h7m526 61h7m-507 32h7m39-219h7m35 188h7m135 7h7m173-67h7m-336 79h7m397-80h7m-100 76h7m123-22h7m-635-167h7m447 187h7m124-30h7m-180 32h7m-296-78h7m-143 120h7m31-53h7m40-51h7m207-34h7m307-92h7m-498 181h7m403-1h7m91 18h7m-219-27h7m58 9h7m-212-72h7m270 90h7m-453-1h7m398-62h7m-42-35h7m-336 61h7m-163 58h7m399-52h7m125 23h7m-247-75h7m-157 23h7m115 46h7m-208-24h7m481-22h7m21 5h7m-65-49h7m-131 45h7m-303 58h7m-59 22h7m202-52h7m109-90h7m-207-13h7m378 130h7m-173-24h7m-365 46h7m88-10h7m-129-65h7m565-51h7m-546 138h7m527-47h7m-356-63h7m119 41h7m-266 49h7m376-151h7m-466 165h7m324-58h7m-31-23h7m-160 51h7m98-106h7m-198 85h7m451-16h7m-323-123h7m87 115h7m235 3h7m-204-11h7m225 46h7m-525 22h7m70-12h7m492 41h7m-129-68h7m-195-1h7m245 11h7m-338-73h7m6-25h7m-7 92h7m30-11h7m-158-50h7m56 20h7m-39 56h7m319-73h7m-59 28h7m-368 28h7m441-55h7m-172 9h7m-293 85h7m453-2h7m-410-37h7m297-44h7m106-76h7m-412 131h7m-109 15h7m-20-167h7m315 113h7m-360-55h7m121 26h7m-35 74h7m-53-15h7m94-26h7m286 38h7m-404-9h7m175-24h7m-28 27h7m-174-36h7m341-22h7m-4 27h7m-308-87h7m222 86h7m-192 25h7m483 163h7m-127-137h7m-147-31h7m-256 15h7m104-56h7m0-57h7m-178 31h7m184-9h7m-35 79h7m333-18h7m-124 4h7m-15-144h7m13-19h7m-273 176h7m357-65h7m-4 74h7m-330-168h7m-151 187h7m-28-6h7m160-33h7m22 24h7m-87-33h7m-203 46h7m572-46h7m21-41h7m-315 74h7m-302 0h7m526 3h7m-491-51h7m270 12h7m-287 26h7m297-63h7m216 99h7m-55-23h7m-290-23h7m260 9h7m-508 21h7m45 24h7m-73-10h7m265-21h7m-221-106h7m270-130h7m-8 50h7m95 170h7m-444 57h7m499-86h7m-344 46h7m226-154h7m-301 163h7m336-153h7m-354 149h7m-48 13h7m50-32h7m1-34h7m-6 46h7m115-8h7m-257 53h7m-39-51h7m23 18h7m566-41h7m-404 9h7m75-1h7m-261 61h7m53-20h7m121-18h7m187-11h7m-78-62h7m-16-10h7m185 66h7m-393 34h7m320-32h7m-281 21h7m-82-114h7m192-7h7m246 121h7m-428-118h7m0 74h7m470 37h7m-356-188h7m292 56h7m-113 131h7m-456 50h7m589-63h7m-34-149h7m-447-30h7m17 195h7m-8-238h7m136 130h7m213-10h7m-308 105h7m95-153h7m62 43h7m-291 102h7m484-1h7m-91-58h7m-246 8h7m162 49h7m-124-80h7m239-132h7m-357 170h7m118-53h7m-218 96h7m3-62h7m303 96h7m-417 15h7m322-119h7m-176 91h7m158-59h7m-113 40h7m-64 8h7m311 3h7m-75-26h7m-337 32h7m294-108h7m161 130h7m-455-12h7m-55-14h7m353-128h7m-94 123h7m-153 5h7m-73-33h7m145 25h7m-161-109h7m234 72h7m-217 37h7m293 30h7m-81-196h7m-19 182h7m-417-41h7m96 31h7m311-52h7m-255 2h7m419 49h7m-359-58h7m318 22h7m30-13h7m13 84h7m-201-30h7m-385 15h7m557 8h7m-441-167h7m452 262h7m-436-214h7m-202 145h7m-9-23h7m114-123h7m133-14h7m21 85h7m-108 33h7m72-185h7m345 70h7m-602 116h7m494 8h7m-531 20h7m6-71h7m421-215h7m-458 230h7m499 32h7m-493-200h7m477 207h7m-418-55h7m-18 33h7m-21 32h7m221-74h7m240 72h7m-342-23h7m127-13h7m-157-190h7m209 144h7m-36 46h7m46-186h7m-412 130h7m166 60h7m205-98h7m-339 121h7m220-30h7m-3-263h7m-335 300h7m114-10h7m256-189h7m-88 127h7m149-54h7m175 128h7m-544-146h7m284-5h7m-319 66h7m-26 89h7m-6-19h7m194-71h7m349 66h7m-252-37h7m-140 18h7m-265 58h7m482-124h7m-32 59h7m-194 12h7m-12-33h7m53 21h7m-57-10h7m320-73h7m-423 81h7m-52-139h7m-65 157h7m-92 28h7m298-23h7m-217-9h7m213-13h7m-293 49h7m193-27h7m164-13h7m-53-62h7m-359 93h7m417-146h7m29 33h7m-26 90h7m96-57h7m-229-94h7m-306 65h7m203 50h7m293 52h7m-212-12h7m-320-132h7m118 121h7m-75-112h7m256 8h7m-167 94h7m-24-14h7m307 0h7m-91 14h7m244 65h7m-543-79h7m543-26h7m-502-92h7m136 104h7m123 1h7m151-61h7m-391-14h7m-7 65h7m-114 29h7m90-271h7m241 282h7m195 59h7m-153-85h7m-504 67h7m414-62h7m-355-87h7m299 69h7m-219 64h7m36 1h7m-92-24h7m122-64h7m-176 101h7m252-90h7m-149 66h7m-136 14h7m166-101h7m-101 85h7m337 10h7m-489-165h7m590 169h7m-437-31h7m-57-47h7m453 23h7m-338-59h7m359 133h7m-190-27h7m210 186h7m-400-264h7m-86 87h7m143-14h7m-46-109h7m75 95h7m-256-8h7m196-114h7m-237 132h7m181-18h7m-185 24h7m236-10h7m-159-22h7m415 35h7m-411 5h7m110-31h7m-281 26h7m334-22h7m74-21h7m-465 88h7m308-101h7m14 40h7m-151-53h7m28 28h7m-121 2h7m163 38h7m181-78h7m151 204h7m-201-148h7m-304-34h7m97 36h7m-212 3h7m397-54h7m-387 90h7m323-19h7m163-129h7m-181 118h7m-54-76h7m-155 32h7m168-85h7m112 95h7m-165-87h7m32 65h7m-205 72h7m161-19h7m273 50h7m-57-31h7m-486-30h7m82-269h7m194 293h7m-217 6h7m118-49h7m-128-12h7m81-45h7m153 97h7m95 27h7m-412-4h7m481-20h7m-82-250h7m-518 156h7m-55 82h7m519 6h7m59-51h7m-274 39h7m-238 46h7m254-71h7m-248 26h7m-81 42h7m395-21h7m-107-11h7m238 22h7m26-126h7m16 141h7m-200-19h7m191-29h7m-644 65h7m40-31h7m559-68h7m-423-37h7m-222 104h7m251-13h7m354-31h7m45 81h7m-262-53h7m-106-134h7m50 76h7m-75 35h7m-312 71h7m112-24h7m-97-55h7m634 87h7m-119-43h7m6-14h7m-4 13h7m-385-42h7m-59 36h7m336-80h7m168 236h7m-438-190h7m153-23h7m219 36h7m23 26h7m-358-9h7m-90-29h7m-220 55h7m64-5h7m516-141h7m-531 106h7m246 11h7m-135-30h7m80-14h7m-252 39h7m364 0h7m-37-155h7m214 135h7m-259-54h7m-53 10h7m-62 30h7m239 8h7m-96 8h7m-180-30h7m59 23h7m-53 18h7m161-105h7m-300 83h7m222-23h7m83 41h7m-452 53h7m341-93h7m269 31h7m-193 12h7m89 30h7m55-26h7m-301-57h7m-273 64h7m104 11h7m519 131h7m-487-151h7m-53 18h7m-69-193h7m401 181h7m-433-174h7m525 205h7m-21-44h7m72 246h7m-381-223h7m88-18h7m201 29h7m-6-9h7m-59-56h7m118 434h7m-8-219h7m-10-48h7m-3 25h7m-14 200h7m6-123h7m-9-131h7m0 19h7m-1-15h7m-28 55h7m-12-62h7m-7-7h7m-7 321h7m16-221h7m-39-122h7m8 304h7m-11-266h7m43 218h7m-38-132h7m-20 24h7m-6-56h7m8-25h7m-33-61h7m-2 246h7m-3 88h7m-7-119h7m12-172h7m-39 295h7m3-60h7m-9-283h7m7 7h7m-17 286h7m-7-267h7m-10 231h7m-5-17h7m-5-125h7m-14-114h7m28 84h7m-25 231h7m-5-150h7m-14-69h7m-6 83h7m10-40h7m-28 209h7m-10-50h7m-20-300h7m25 162h7m3 90h7m-35 17h7m-19-277h7m29 105h7m-28 221h7m2-51h7m-12-97h7m-4 166h7m38-146h7m-53-162h7m-12 154h7m-12-162h7m-10 284h7m47 11h7m-52-270h7m-8 112h7m-20-140h7m16 314h7m-23 4h7m-5-173h7m2-27h7m-30 216h7m5-129h7m-15 121h7m13-106h7m-14-187h7m-9 83h7m-9-10h7m36 119h7m-44-63h7m-11-11h7m3 86h7m-26-243h7m4 7h7m-35-41h7m23 19h7m-8 49h7m22 198h7m-44 63h7m0-61h7m-10-210h7m-16 295h7m9-91h7m-12 70h7m12-242h7m-27-54h7m-10 71h7m11-49h7m0-4h7m-6-3h7m-40-37h7m13 185h7m-23 149h7m-6 26h7m-5-70h7m-4 72h7m-6-201h7m-5 155h7m2 43h7m-8-92h7m-4-223h7m-25 210h7m-20-247h7m24 57h7m-11 210h7m16-153h7m-47-83h7m1 111h7m10 113h7m-25 3h7m-5-63h7m-1-12h7m-1-151h7m-8 252h7m-33-276h7m22 252h7m9-50h7m-39-74h7m-5 19h7m8-36h7m-12-22h7m-22 103h7m20-31h7m-10 52h7m36-3h7m-98-230h7m32 61h7m-9 37h7m-21 138h7m-1-16h7m0-138h7m-16 145h7m-11 30h7m3-251h7m15 334h7m-34 26h7m-1-163h7m21-13h7m-48 165h7m3-293h7m8 85h7m-23 191h7m-17-321h7m-3 17h7m4 264h7m-15-134h7m10 177h7m-26-169h7m-3 72h7m-6-107h7m-12-47h7m1 144h7m2-84h7m-22 28h7m-1-90h7m-4 152h7m-16 31h7m-1 8h7m-16-196h7m17 142h7m-18 124h7m-12-49h7m-12-221h7m-10 236h7m4-145h7m-64-178h7m57 70h7m-27 224h7m44-239h7m-41 2h7m5 161h7m-35 57h7m8 13h7m-13-279h7m-8 96h7m-2 89h7m-18 17h7m-2 109h7m-17-289h7m0 35h7m6 202h7m-25-213h7m-3 309h7m-1-300h7m-16 24h7m-5 157h7m-2-198h7m-23 316h7m3-83h7m-23-264h7m-20-15h7m17 339h7m-9-289h7m5 98h7m6-82h7m-24-34h7m-3 15h7m-210-240h7m-6-23h7m-69 109h7m72-130h7m6 20h7m-102 48h7m11 72h7m63-129h7m-136 140h7m95-82h7m-64 20h7m147-150h7m-139 147h7m13-30h7m-3-23h7m-107 117h7m53-65h7m-34-8h7m70-18h7m-51 63h7m35-122h7m0 88h7m-15-37h7m21-52h7m-94 99h7m12-13h7m51-25h7m-61 53h7m33-107h7m-35 49h7m-10 20h7m22-18h7m-33 28h7m19-67h7m-23 52h7m-25 61h7m-69 15h7m34-68h7m30-58h7m18 25h7m-35 5h7m39-2h7m-85 19h7m-8 9h7m18-8h7m-45 117h7m39-75h7m29-105h7m-76 141h7m32-114h7m-38 37h7m12 60h7m-14 19h7m4-77h7m10-95h7m-54 136h7m56-101h7m-32 63h7m25-100h7m-100 156h7m52-123h7m45 11h7m-50-7h7m-48 116h7m44-72h7m-66 19h7m53-40h7m-19 68h7m18-64h7m-103 63h7m116-132h7m-31 84h7m-92 42h7m4-6h7m61-16h7m-24-78h7m-106 101h7m101-19h7m-32-67h7m34-7h7m-49 35h7m-54 77h7m47-98h7m12-29h7m-52 134h7m17-54h7m-19 5h7m18 37h7m-3-83h7m4 20h7m-52 39h7m4-44h7m-32 50h7m4-24h7m22-11h7m-17-51h7m35 76h7m-14-35h7m-74 2h7m35-2h7m55-5h7m-68-21h7m33-20h7m0 53h7m-33-77h7m-63 46h7m15 2h7m-10 33h7m-35 5h7m78-88h7m-101 160h7m-19-30h7m69-79h7m-4 57h7m-7-90h7m-58 44h7m44 8h7m-97 71h7m26 16h7m23-43h7m27-42h7m-59 29h7m14-23h7m-30-1h7m33-33h7m28-28h7m-81 147h7m-23-66h7m-22 8h7m44 1h7m-52-2h7m59-44h7m-38 45h7m-33 23h7m43-1h7m-29-47h7m-117 101h7m133-132h7m-8 39h7m-16 1h7m1 12h7m-36-68h7m63-21h7m-96 88h7m87-108h7m-46 76h7m-23 66h7m36-158h7m-54 35h7m-24 89h7m14-11h7m1-19h7m-25 24h7m9 40h7m0-37h7m-31-20h7m-37-1h7m97-83h7m-86 79h7m33-52h7m-67 78h7m73-82h7m-79 67h7m56-55h7m-48 82h7m-2-79h7m39 13h7m-95 34h7m54-49h7m-48 61h7m11 17h7m-39 34h7m75-98h7m-35 11h7m-44 37h7m3 54h7m-30-68h7m69-13h7m-58 3h7m-35 76h7m-2-56h7m9-47h7m-23-21h7m-33 75h7m45 11h7m-31 56h7m-20-52h7m43-80h7m17-15h7m-70 62h7m49-46h7m-76 64h7m4 18h7m6 14h7m-10-49h7m45 3h7m-93 95h7m22-105h7m-25 59h7m41-64h7m26 32h7m-30-17h7m-88 64h7m21-45h7m22-9h7m-15-31h7m8 42h7m-32 10h7m12-12h7m28-21h7m-42 22h7m-4-31h7m-26 54h7m40-72h7m-75 107h7m46-59h7m-1-80h7m-46 98h7m-16-87h7m59 73h7m-59 29h7m31-81h7m-20 40h7m-24-88h7m2 137h7m-3-20h7m46-44h7m-115 68h7m28-91h7m-46 106h7m4-12h7m36-48h7m52-2h7m-78-7h7m40-14h7m-149 145h7m164-203h7m-25-13h7m-32 31h7m-87 82h7m34-75h7m4 12h7m-16-6h7m29-8h7m-104 93h7m40-75h7m39 14h7m-23 56h7m41-108h7m-35 46h7m-15 43h7m-84-35h7m63 12h7m-9-56h7m16-22h7m-3 54h7m-15 25h7m-12 42h7m-19-75h7m67-91h7m-115 209h7m58-168h7m-58 136h7m-10-73h7m-6 37h7m66-48h7m-59 72h7m-49 30h7m31-65h7m-37-1h7m49-10h7m-105 100h7m36-47h7m-2-36h7m23 20h7m14-102h7m30 68h7m-82-21h7m-3 30h7m-16-23h7m2-41h7m-21 26h7m15 30h7m-19 2h7m-60 72h7m90-98h7m-65 45h7m51-26h7m-26-4h7m32 16h7m-57-32h7m-53 59h7m59-70h7m-41 36h7m21-43h7m-37 132h7m20-103h7m-51 53h7m23 0h7m15-92h7m2 10h7m-37-1h7m16 12h7m-14 35h7m-23 41h7m-20-48h7m65-33h7m-54-41h7m23 61h7m2-40h7m-17 63h7m-51-50h7m-66 27h7m70-51h7m-62 89h7m11-20h7m-2 16h7m60-68h7m-77 80h7m28-72h7m-70 89h7m132-70h7m-139-12h7m46 92h7m17-170h7m-30 106h7m-9-10h7m-32 15h7m-25 45h7m12-47h7m-61-9h7m63 37h7m-33-35h7m21-116h7m10 130h7m10-28h7m-89 143h7m88-206h7m-66 54h7m-22 38h7m1 79h7m20-115h7m-58 78h7m-24-14h7m76-1h7m-84 51h7m-31-97h7m15 73h7m28-74h7m71-62h7m-122 82h7m35-24h7m14-43h7m9-1h7m-36 48h7m32-2h7m-81 27h7m104-87h7m-7 0h7m-51 88h7m-69 11h7m21 2h7m-36 10h7m-8-1h7m79-73h7m-24 79h7m-59-4h7m-48-44h7m32 75h7m11-71h7m-62 62h7m56-34h7m-35 20h7m46-51h7m-51 10h7m9-37h7m-36 68h7m-19-24h7m-13 25h7m17-16h7m39-70h7m-38 117h7m8-21h7m-33-21h7m-27 5h7m107-34h7m-65-50h7m-41 12h7m5 57h7m-35 8h7m-6-42h7m59 27h7m-17-62h7m-8 2h7m0 3h7m-56 136h7m1-79h7m54-70h7m-40 32h7m19-41h7" stroke="#111" stroke-width="7" fill="none"/>
<path d="M435.2,655.8 L441.9,653.6 L450.8,651.3 L459.7,649.9 L468.6,649.1 L476.0,649.1 L483.4,650.6 L490.8,651.3 L498.2,652.1 L502.6,654.3 L504.1,660.2 L504.4,672.1 L503.8,686.9 L502.6,691.3 L435.2,691.3" fill="#000" stroke="#000" stroke-width="1.2" stroke-linejoin="round"/>
<clipPath id="fc3"><path d="M450.0,664.7 L453.0,659.0 L459.7,655.3 L467.1,653.9 L474.5,653.9 L480.4,655.3 L484.1,659.0 L487.8,657.6 L493.7,656.1 L498.2,657.6 L499.7,663.2 L498.9,690.6 L458.9,690.6 L456.7,682.4 L453.7,673.6 L450.5,667.6Z"/></clipPath>
<path d="M450.0,664.7 L453.0,659.0 L459.7,655.3 L467.1,653.9 L474.5,653.9 L480.4,655.3 L484.1,659.0 L487.8,657.6 L493.7,656.1 L498.2,657.6 L499.7,663.2 L498.9,690.6 L458.9,690.6 L456.7,682.4 L453.7,673.6 L450.5,667.6Z" fill="#fff" stroke="#555" stroke-width="0.8"/>
<g clip-path="url(#fc3)">
<path d="M457.6 692.8V665.4A14.7 14.7 0 0 1 486.9 665.4V692.8Z" fill="#fcfcfc" stroke="#3a3a3a" stroke-width="0.5"/>
<path d="M458.9 692.8V665.4A13.3 13.3 0 0 1 485.6 665.4V692.8Z" fill="#f3f3f3" stroke="#3a3a3a" stroke-width="0.5"/>
<path d="M460.3 692.8V665.4A12.0 12.0 0 0 1 484.3 665.4V692.8Z" fill="#ebebeb" stroke="#3a3a3a" stroke-width="0.5"/>
<path d="M461.6 692.8V665.4A10.7 10.7 0 0 1 482.9 665.4V692.8Z" fill="#e3e3e3" stroke="#3a3a3a" stroke-width="0.5"/>
<path d="M462.9 692.8V665.4A9.3 9.3 0 0 1 481.6 665.4V692.8Z" fill="#dbdbdb" stroke="#3a3a3a" stroke-width="0.5"/>
<path d="M464.3 692.8V665.4A8.0 8.0 0 0 1 480.3 665.4V692.8Z" fill="#d3d3d3" stroke="#3a3a3a" stroke-width="0.5"/>
<path d="M465.6 692.8V665.4A6.7 6.7 0 0 1 478.9 665.4V692.8Z" fill="#d3d3d3" stroke="#3a3a3a" stroke-width="0.5"/>
<path d="M466.9 692.8V665.4A5.3 5.3 0 0 1 477.6 665.4V692.8Z" fill="#dbdbdb" stroke="#3a3a3a" stroke-width="0.5"/>
<path d="M468.3 692.8V665.4A4.0 4.0 0 0 1 476.3 665.4V692.8Z" fill="#e3e3e3" stroke="#3a3a3a" stroke-width="0.5"/>
<ellipse cx="472.3" cy="665.4" rx="4.8" ry="5.8" fill="#e3e3e3" stroke="#4a4a4a" stroke-width="0.45"/>
<ellipse cx="472.3" cy="665.4" rx="3.5" ry="4.2" fill="#ebebeb" stroke="#4a4a4a" stroke-width="0.45"/>
<ellipse cx="472.3" cy="665.4" rx="2.1" ry="2.6" fill="#fff" stroke="#4a4a4a" stroke-width="0.45"/>
<path d="M487.1 692.8V666.1A6.7 7.4 0 0 1 500.4 666.1V692.8Z" fill="#fcfcfc" stroke="#3a3a3a" stroke-width="0.5"/>
<path d="M488.4 692.8V666.1A5.3 5.9 0 0 1 499.1 666.1V692.8Z" fill="#eaeaea" stroke="#3a3a3a" stroke-width="0.5"/>
<path d="M489.7 692.8V666.1A4.0 4.4 0 0 1 497.7 666.1V692.8Z" fill="#d8d8d8" stroke="#3a3a3a" stroke-width="0.5"/>
<ellipse cx="493.7" cy="666.1" rx="4.8" ry="6.4" fill="#d8d8d8" stroke="#4a4a4a" stroke-width="0.45"/>
<ellipse cx="493.7" cy="666.1" rx="3.5" ry="4.6" fill="#d8d8d8" stroke="#4a4a4a" stroke-width="0.45"/>
<ellipse cx="493.7" cy="666.1" rx="2.1" ry="2.8" fill="#fff" stroke="#4a4a4a" stroke-width="0.45"/>
<path d="M480.7 692.8V678.7A4.9 6.2 0 0 1 490.5 678.7V692.8Z" fill="#fff" stroke="none"/>
<path d="M484.0 692.8V678.7A1.6 2.1 0 0 1 487.2 678.7V692.8" fill="none" stroke="#505050" stroke-width="0.5"/>
<path d="M482.3 692.8V678.7A3.3 4.1 0 0 1 488.9 678.7V692.8" fill="none" stroke="#505050" stroke-width="0.5"/>
<path d="M480.7 692.8V678.7A4.9 6.2 0 0 1 490.5 678.7V692.8" fill="none" stroke="#505050" stroke-width="0.5"/>
</g>
<path d="M470.8,641.0 L472.3,633.6 L476.0,625.4 L490.8,614.3 L502.9,616.8 L490.8,633.6 L481.1,645.4 L473.7,643.9 L470.8,641.0" fill="none" stroke="#111" stroke-width="1.2" stroke-linejoin="round"/>
<ellipse cx="591.1" cy="635.0" rx="11.1" ry="4.1" fill="url(#haze)" transform="rotate(-55 591.1 635.0)" opacity="0.35"/>
<path transform="scale(0.1)" d="M5933 6504h7m149-89h7m-1 17h7m-270 3h7m-293 55h7m149 6h7m-35 25h7m329-87h7m-549 94h7m3-7h7m90-171h7m96 131h7m-46-90h7m-178 158h7m140-96h7m91-53h7m-36 116h7m79-12h7m-212-1h7m278-10h7m-273 5h7m172-27h7m146 31h7m-453 65h7m523-120h7m-441 76h7m97-151h7m64 67h7m-228 117h7m87-82h7m143-87h7m247 69h7m111 70h7m-84-2h7m-334-18h7m137-41h7m-359 88h7m245-103h7m-46 27h7m147-40h7m43 44h7m-370-59h7m-95 130h7m94-65h7m284 15h7m-79-46h7m109 52h7m21-12h7m-239 14h7m302-44h7m-27 11h7m-481 47h7m-29 30h7m485-34h7m-289-5h7m247-278h7m-502 303h7m631 8h7m-457-284h7m406 241h7m-177-89h7m-220 105h7m6-73h7m392 73h7m-381-35h7m125 20h7m200-158h7m-603 219h7m184-51h7m301-121h7m-158-61h7m-222 188h7m98-40h7m-132-95h7m367 109h7m-362 19h7m107-62h7m251-114h7m-477 207h7m195-210h7m45 97h7m245 52h7m-313-56h7m171-217h7m-257 134h7m139 39h7m98 74h7m137 61h7m-395-31h7m357 20h7m-34 4h7m-297-29h7m239-14h7m84-16h7m-322 20h7m-3-81h7m-65 122h7m-47 1h7m375-65h7m-388 50h7m432-165h7m-461 27h7m487 184h7m-187-190h7m83 113h7m-457 61h7m526-112h7m-495 92h7m258-25h7m-278-71h7m-76 79h7m192-17h7m308-32h7m-72 72h7m17-91h7m-555 131h7m487-164h7m-136-18h7m-313 165h7m489-113h7m-411 58h7m138-54h7m-34 62h7m239-47h7m-277-1h7m-75 45h7m-57 26h7m149-8h7m-79-8h7m3-18h7m380-64h7m-415 101h7m-148-91h7m448 9h7m93 65h7m-505 36h7m147-110h7m-219 96h7m-10 21h7m312-101h7m256 72h7m-487 15h7m-37 8h7m-133 26h7m355-95h7m243 22h7m-561 57h7m408-271h7m26 222h7m-280-12h7m52 4h7m-195 53h7m483-238h7m59 231h7m-203-40h7m-396 56h7m142-126h7m125 63h7m-38-31h7m-201 44h7m489-4h7m35 115h7m-590-214h7m374 76h7m-347 0h7m-6 27h7m-34 12h7m545-12h7m-314-55h7m89 6h7m-257 59h7m210-166h7m172 139h7m-396-12h7m-175 49h7m491-211h7m-475 231h7m255-93h7m321 98h7m-572-37h7m442 6h7m-286-74h7m20 58h7m-243-27h7m290-14h7m110-35h7m-197 62h7m342 41h7m-103-48h7m-172 9h7m270 28h7m-427 3h7m379-97h7m-576 131h7m154-28h7m134-133h7m144 79h7m168 73h7m-454-39h7m186-38h7m-331 42h7m562-79h7m-238-43h7m-100 77h7m135 33h7m-77-34h7m-207 21h7m-88-5h7m-50 37h7m-46-1h7m21-65h7m-61 19h7m183-129h7m13 173h7m224-21h7m90-12h7m-376-5h7m-37 40h7m-103 26h7m86-17h7m126-48h7m114-19h7m52-4h7m-150-63h7m-229 138h7m-95-104h7m580 71h7m-32-23h7m52-77h7m-412 107h7m50-177h7m29 154h7m-308 58h7m603-37h7m-96-119h7m90 74h7m-305 29h7m293-46h7m-140 73h7m-72-74h7m-354 88h7m209-35h7m-241 53h7m229-36h7m220-22h7m-355 25h7m19-41h7m263 9h7m-8-17h7m59-21h7m-39 74h7m-286-2h7m316-3h7m57-2h7m-529-33h7m15 39h7m165-64h7m46-9h7m179-128h7m-123 160h7m-91 7h7m221-6h7m-100-65h7m-7-28h7m-171 56h7m284 51h7m-50 13h7m-454-71h7m258-120h7m25 178h7m-330-74h7m82 107h7m179-91h7m24 73h7m133-53h7m-315-80h7m108 48h7m-281 117h7m443-88h7m-44-6h7m-462 10h7m2 97h7m170-64h7m-147 38h7m23 2h7m131-10h7m303 3h7m-414-113h7m131-65h7m-73 142h7m141-6h7m306 160h7m-137-159h7m-310-68h7m382 125h7m-227-111h7m-69 53h7m136 28h7m-172-10h7m256-60h7m-323-10h7m92 19h7m-212 2h7m103-20h7m-104 20h7m392 69h7m-89-20h7m-314 10h7m335-47h7m-274-8h7m282 59h7m29-25h7m-162-92h7m-293 108h7m329 14h7m-222-43h7m32-2h7m255 48h7m-86-21h7m-437 27h7m23-8h7m20-5h7m-29-292h7m43 286h7m259-63h7m-328-2h7m157 76h7m33-60h7m-54-12h7m-41-18h7m414 10h7m-596 96h7m311-52h7m-241 10h7m-52 54h7m565-52h7m-223-128h7m-50 64h7m-82-14h7m266 116h7m33 6h7m-206-29h7m71-22h7m-426-44h7m68-45h7m86 75h7m34-44h7m-68 53h7m-91 32h7m-88 26h7m106-77h7m-97 79h7m553-37h7m-607-62h7m448 22h7m130 48h7m-563 40h7m-40-29h7m306-121h7m-333 158h7m10-27h7m561-85h7m-610 67h7m85 15h7m88-19h7m-24 4h7m26-43h7m140-40h7m-198 99h7m191-43h7m-252 21h7m491-18h7m-162 24h7m-124-77h7m210 6h7m-558-140h7m-30 181h7m300-132h7m315 111h7m-591 36h7m17 23h7m1 10h7m-60-13h7m20 24h7m457-43h7m-141-111h7m31 19h7m193 113h7m-511-287h7m487 279h7m-1 19h7m-479-114h7m-90 21h7m73 11h7m-72 62h7m295-52h7m188 66h7m-111-125h7m-133 92h7m179-5h7m-369-44h7m333-29h7m-190 93h7m-325 14h7m2-12h7m58-47h7m-84 38h7m329-106h7m-164-77h7m0 209h7m-17-23h7m208 1h7m201-61h7m-115-193h7m-476 245h7m537 20h7m-307-13h7m340-4h7m-72 8h7m-161-80h7m-183 79h7m-181-5h7m213 2h7m-67 1h7m-140-4h7m14 34h7m132-280h7m229 247h7m84-143h7m-355 72h7m196 32h7m179 5h7m-181-121h7m-137 159h7m-310-9h7m306-111h7m332 162h7m-529-57h7m-128 75h7m29-24h7m241-41h7m160-71h7m91 48h7m-60-54h7m-25 71h7m-110-90h7m-229 105h7m-167 9h7m63 2h7m43 16h7m466-28h7m41-35h7m-258-4h7m35-57h7m-317 84h7m46 24h7m-41-75h7m476 59h7m-520 30h7m82-33h7m384-14h7m-273-37h7m-219 67h7m171-8h7m-98-31h7m194 12h7m-366 22h7m49 37h7m539-70h7m-25 36h7m-119-110h7m-103 103h7m-246-4h7m103-41h7m-177 66h7m-118 11h7m57-1h7m-73-79h7m134 35h7m230 11h7m-29-94h7m-215 64h7m322-9h7m-255 13h7m202-2h7m40-43h7m3 49h7m-416 55h7m94-59h7m-167 63h7m53-39h7m29-67h7m-100 101h7m455-127h7m-247-64h7m322 134h7m-378 32h7m236-2h7m-34-15h7m-320-10h7m131 29h7m-171-59h7m156-28h7m148 81h7m-194-40h7m-73 58h7m504 113h7m-238-163h7m216 146h7m-654-117h7m441-100h7m-401 139h7m239-55h7m-241 54h7m-65-10h7m55 17h7m-34-65h7m366 0h7m100 33h7m-268-165h7m-254 202h7m281-73h7m-285-29h7m482 14h7m-260-1h7m49-8h7m-128-33h7m127 67h7m38-74h7m-66 66h7m24-46h7m-252-25h7m147 70h7m67-61h7m-242 111h7m207-26h7m-43-2h7m-166 8h7m464-38h7m-424-6h7m149 39h7m-55-68h7m242-121h7m-542 208h7m239-43h7m290 4h7m-194-65h7m214 53h7m-238 26h7m-110 5h7m261-55h7m-437 47h7m492-83h7m-344 76h7m98-16h7m293-25h7m-26 66h7m-470-40h7m86 26h7m382 50h7m-609-23h7m494-106h7m-258 56h7m-220-25h7m411 48h7m-67-125h7m-216 128h7m253-47h7m-243 58h7m-55-65h7m-100 51h7m388-10h7m-443-8h7m371-28h7m144 49h7m-276-34h7m226 30h7m-422 5h7m387-66h7m-437 0h7m534 126h7m-141-118h7m-124 44h7m-423-41h7m216-31h7m347-11h7m-89 29h7m51-88h7m61 57h7m-412-34h7m-162 172h7m517-66h7m52 45h7m-607 28h7m545-122h7m-314 19h7m-273-48h7m160 115h7m131-48h7m-6-37h7m-212 16h7m88 47h7m380-44h7m-122-30h7m-213 68h7m60-94h7m-242 77h7m196-137h7m152 27h7m-207 116h7m-118 42h7m36-8h7m204-53h7m68-26h7m151 84h7m-247-54h7m-100 20h7m-120 20h7m127-30h7m19-31h7m291 98h7m-5 158h7m-265-242h7m-114 18h7m-152-179h7m-116 168h7m266 20h7m-123-131h7m12 120h7m47-22h7m89 12h7m-313 93h7m362-44h7m-96-23h7m143 5h7m-475 62h7m184-93h7m246-55h7m162 95h7m-622-2h7m202-34h7m-129 48h7m40-48h7m468 51h7m-306-70h7m169 45h7m-343-24h7m22 18h7m208-25h7m226 77h7m-520-31h7m455-91h7m-573 136h7m111-107h7m302 58h7m59-103h7m10 96h7m-4 8h7m69 24h7m-371-32h7m282-60h7m-203 26h7m-168 14h7m-173 13h7m607 25h7m-339-57h7m-64-96h7m-119 137h7m315-67h7m-267 89h7m252-15h7m84 16h7m32-92h7m-261-54h7m178 78h7m-359 74h7m-103 21h7m370-108h7m176 74h7m-400-111h7m282-116h7m-536 99h7m266 33h7m-145 73h7m361-51h7m-46 67h7m142 23h7m-72-59h7m-141 22h7m106-59h7m-372-61h7m106 23h7m-131 111h7m-21 28h7m-54 4h7m246-71h7m-285-62h7m351 59h7m-251 33h7m424 2h7m-283-146h7m-77 47h7m-231 86h7m29 46h7m-31-102h7m539 5h7m-274 64h7m8-130h7m129 144h7m173-95h7m-277 87h7m77-51h7m-486 82h7m2 29h7m440-141h7m-246 89h7m-42 1h7m184-27h7m234 44h7m-469-56h7m141 29h7m-48-7h7m271 5h7m-115-61h7m-157 69h7m73-11h7m-206-121h7m-51-25h7m-18 190h7m-94-86h7m578 54h7m-380-15h7m188-10h7m-118-42h7m-138 76h7m249-74h7m-446 91h7m562-68h7m-122-183h7m-327 222h7m-44-98h7m289-28h7m41 102h7m29 10h7m-146-47h7m177 53h7m-22-31h7m-93 32h7m-75-1h7m63-87h7m-174 70h7m156-25h7m233-2h7m-205 29h7m-434 10h7m107-33h7m283-71h7m-408 131h7m183-25h7m-63-73h7m127 37h7m-235 42h7m341-3h7m-206 3h7m138-2h7m284 39h7m-46-8h7m-125-154h7m-218 104h7m117 3h7m-261-100h7m261 82h7m-131-54h7m182 82h7m-296-2h7m-180 37h7m33-43h7m140 12h7m-85 19h7m1-114h7m146 57h7m-99-121h7m182 155h7m48 16h7m206 172h7m-536-181h7m464-59h7m-91 23h7m-405 10h7m251 20h7m-360 22h7m575-9h7m-196-8h7m156-105h7m-398 54h7m290 31h7m88 44h7m-407-5h7m357-80h7m-411 29h7m184-13h7m-71 7h7m90 20h7m-138 25h7m172-104h7m-280 77h7m103 23h7m-229 55h7m454-53h7m-319-21h7m-64 2h7m180 4h7m131-42h7m177 71h7m-125-61h7m-146 45h7m-185-12h7m-184 66h7m519-45h7m-185-23h7m-30-14h7m-183 17h7m1-138h7m116 145h7m184 4h7m-6-78h7m114 64h7m-126-69h7m39 43h7m47-16h7m-354 41h7m303-124h7m-320-2h7m275 84h7m-315 55h7m-40-44h7m110 35h7m-221-45h7m23 81h7m223-26h7m-92-2h7m300-25h7m-254-8h7m-329-11h7m620 83h7m-264-127h7m184-79h7m31 67h7m-519-166h7m560 274h7m-79 0h7m-309-5h7m20-280h7m151 252h7m-271 34h7m71-19h7m33-36h7m-64 5h7m-1 12h7m41-77h7m270 82h7m-99 17h7m-410 28h7m-23-60h7m519 9h7m-479 56h7m367-61h7m-431-219h7m404 71h7m149 160h7m-44-116h7m-527 158h7m248-75h7m-268 82h7m413-214h7m-208 32h7m264 43h7m-471 123h7m314-102h7m106 105h7m-111-5h7m-255 13h7m129-24h7m93-20h7m95 18h7m115 197h7m-622-176h7m278-123h7m-329 161h7m141-57h7m382-43h7m-402 49h7m352-36h7m-453 59h7m-64 4h7m134-19h7m65-110h7m-180 150h7m26-36h7m198-165h7m190 144h7m-409 7h7m467 4h7m-53-17h7m123-126h7m-536 81h7m274 33h7m-56-113h7m-32 92h7m2 49h7m172 4h7m88 21h7m-231-42h7m72-36h7m35-40h7m156 191h7m-520-109h7m465 10h7m-494-12h7m66 27h7m326-36h7m17 33h7m-349-2h7m337-26h7m-169 15h7m-119-22h7m171 15h7m183 51h7m-326-79h7m-122 50h7m-213-100h7m629 92h7m-579 27h7m119-15h7m8-20h7m-17-88h7m-181 60h7m438-62h7m-248 5h7m-191 62h7m394-17h7m-59 7h7m-132 4h7m113-79h7m-191 79h7m30 32h7m205 7h7m111 12h7m-487-63h7m173 29h7m29-145h7m100 137h7m197 44h7m-584-49h7m472-53h7m-282 23h7m-133 71h7m488-94h7m-5 69h7m-166-7h7m-218-128h7m228-11h7m-409 168h7m511-139h7m-73 14h7m-382 65h7m-115 62h7m-70 18h7m116-27h7m315-65h7m136-78h7m-396 136h7m70-6h7m279-67h7m-128 19h7m-258 60h7m309 3h7m150 222h7m-537-281h7m468 71h7m12-29h7m-558 11h7m66-33h7m261-72h7m190 15h7m-173 18h7m124-15h7m-259-80h7m308 203h7m-514-61h7m219-6h7m-39 19h7m-62-33h7m220-17h7m-447 99h7m251-124h7m-147 31h7m-39 64h7m413-1h7m-13-37h7m-559 55h7m342-31h7m-121-20h7m61-124h7m-66 26h7m-70 65h7m-100 48h7m393-83h7m-477 71h7m62-138h7m95 67h7m-102-124h7m246 205h7m248-52h7m-137 41h7m-340-7h7m411-30h7m-100 66h7m-175-22h7m41-47h7m38 66h7m-205-1h7m70-13h7m-162 32h7m195-146h7m-192-37h7m295 33h7m142 71h7m14 75h7m-199-39h7m-321 44h7m317-25h7m-374-58h7m474 76h7m-423 20h7m218-281h7m-264 238h7m188-63h7m93-5h7m-333-101h7m452 185h7m-531-42h7m511 20h7m96-15h7m-289 30h7m-25-27h7m-40 8h7m272 11h7m-516 42h7m493-60h7m-335-83h7m421 143h7m-578-13h7m-25-96h7m398 61h7m-49-94h7m227 365h7m-369-315h7m-18 19h7m2 12h7m72-1h7m-195 18h7m321 13h7m-215-16h7m300 43h7m-399-212h7m239 175h7m9-24h7m-440 77h7m-41-6h7m240-242h7m317 179h7m-157-29h7m91 40h7m-117 2h7m-292 22h7m112-23h7m124 11h7m-197-35h7m316-43h7m-253 27h7m-281-41h7m426 3h7m-385 107h7m123-107h7m305 91h7m134 39h7m-572-45h7m199-175h7m-272 96h7m444 69h7m-387-17h7m-88 73h7m28-14h7m609 151h7m-307-239h7m48-29h7m128-93h7m70 193h7m-4 12h7m-572-37h7m-52-51h7m623 30h7m-495 17h7m-145 41h7m514-20h7m-457 12h7m124-23h7m-26 23h7m208-51h7m-27 15h7m190-41h7m-243 35h7m194 13h7m-301-27h7m-251 58h7m11-114h7m472 103h7m-399-39h7m217 4h7m-98 24h7m-6 12h7m-239 34h7m-34 6h7m109-39h7m260-291h7m68 188h7m-105 11h7m42 87h7m-186 3h7m209-26h7m-178 17h7m356 39h7m-569-19h7m114-9h7m249-34h7m-470-87h7m67 39h7m578 98h7m-156-12h7m-389-72h7m327 60h7m-296 21h7m347-68h7m-306 13h7m95 18h7m17 18h7m117-182h7m-382 186h7m283-73h7m115 56h7m-22-4h7m11-14h7m-145-104h7m-275 130h7m107 16h7m286-13h7m-422 31h7m407-91h7m-311 39h7m12-4h7m-222 66h7m615-18h7m-181-73h7m-166-5h7m148 11h7m55 37h7m-384 0h7m371-20h7m-536 56h7m594-14h7m-225-33h7m-28-66h7m-151 92h7m74-248h7m-292 281h7m122-48h7m378-29h7m-142 23h7m-44-68h7m-142 98h7m424-4h7m-10-17h7m-430 10h7m394-61h7m-249 56h7m-192-12h7m-149 25h7m249-25h7m30-169h7m229 99h7m-393 87h7m111-166h7m-187 188h7m425-9h7m-237-263h7m35 245h7m-189-62h7m247 62h7m-154-36h7m-208 67h7m93-42h7m427 29h7m-48 5h7m-295-30h7m-282 43h7m422-85h7m-282-7h7m274-57h7m-16 114h7m55-174h7m57 131h7m-515-33h7m242-2h7m285 92h7m-617-118h7m579 122h7m-300-133h7m99 71h7m252 257h7m-430-211h7m393-7h7m-481-92h7m434 84h7m18 38h7m-183-320h7m-318 250h7m397-60h7m-386 100h7m-111 10h7m499-7h7m6 5h7m-285-67h7m224-93h7m-315 141h7m265-69h7m14 78h7m43-60h7m-190 43h7m82 27h7m3-27h7m8-19h7m-280 34h7m91 0h7m-172-27h7m-50-82h7m218 95h7m-245 40h7m142-17h7m-66-180h7m418 63h7m0 82h7m5 24h7m-383 8h7m157-194h7m186 9h7m-342 123h7m370 137h7m-105-176h7m-209-20h7m-144 33h7m47 81h7m259-70h7m-136 44h7m-260-50h7m266 23h7m98 76h7m-25-116h7m-450 143h7m484-39h7m-231-160h7m-237 151h7m-97-60h7m534 53h7m-53 18h7m3-89h7m-60 92h7m-298-51h7m354 20h7m-106-6h7m-77 11h7m-265-71h7m231 68h7m-181 19h7m143-6h7m-52-13h7m-50 6h7m-239-54h7m168 8h7m427 69h7m-410-59h7m394 40h7m-207 9h7m-233-14h7m224-8h7m50-75h7m-338 82h7m-107 45h7m316-132h7m-268 43h7m310-37h7m-409 111h7m46-59h7m353 37h7m204 47h7m-412-41h7m252-9h7m52 14h7m-12-8h7m-186-15h7m14 20h7m-181-10h7m148-84h7m-73-85h7m-236 143h7m157 34h7m-50-7h7m97-28h7m199-42h7m-273 3h7m127 77h7m149-113h7m-134 75h7m175-170h7m-229 207h7m-51-11h7m-40-40h7m-174 79h7m179-93h7m13-33h7m313 67h7m-455 14h7m157 5h7m237-42h7m10 77h7m-320-64h7m-277 75h7m368-184h7m-408 184h7m295-63h7m-174 45h7m25 2h7m-27 3h7m398-59h7m-266 18h7m116 3h7m101-76h7m-416 80h7m81-216h7m-94 257h7m-15-167h7m261 63h7m-95 6h7m-48 34h7m143-53h7m189 63h7m-85 33h7m-427-118h7m-101 132h7m113-39h7m34-101h7m-143 66h7m570 68h7m-108-56h7m-400 29h7m-73 38h7m-43 19h7m542-62h7m-21 3h7m-384-4h7m29-187h7m-227 254h7m117-59h7m108 15h7m143-130h7m-51 103h7m-39 8h7m-315 54h7m223-116h7m11-37h7m-204 140h7m32-81h7m-14 45h7m223-67h7m6 59h7m279 17h7m-537-6h7m230 3h7m-328 24h7m451-38h7m-57 4h7m49-71h7m-137-64h7m-92 130h7m-277 57h7m504-114h7m-233 48h7m112 27h7m-64-110h7m-274 153h7m243-97h7m-87 36h7m369-249h7m24 321h7m-454-52h7m391-31h7m-245 27h7m155-207h7m-390 220h7m-154-56h7m144 64h7m423-63h7m-296 34h7m339 31h7m-154-71h7m-244-155h7m12 197h7m-135 37h7m145-183h7m181 140h7m-295-61h7m344 70h7m-394 15h7m373-32h7m-100-38h7m78 29h7m-531 30h7m139-85h7m225 19h7m62-39h7m81-27h7m-1 133h7m-61-14h7m-2-22h7m-128 33h7m-272 33h7m-63-99h7m541 72h7m-314-49h7m155 49h7m180 54h7m-587-84h7m138-14h7m149 5h7m-35-62h7m-83 22h7m117-51h7m-333 157h7m-63 33h7m344-97h7m-250 62h7m4-126h7m237 69h7m-2-2h7m-58 29h7m325 17h7m-182-142h7m-429 175h7m76-27h7m-26-15h7m422-42h7m-80 5h7m130-65h7m-544 76h7m548-40h7m-277 33h7m-320 62h7m-6 14h7m458-77h7m-285-31h7m-40-67h7m-66 144h7m-14-170h7m442 164h7m23 17h7m-163-57h7m-326 5h7m-8 10h7m345-8h7m99-86h7m-494 131h7m-123 17h7m37-6h7m24-26h7m85-138h7m358 118h7m-183 9h7m-328-42h7m10 71h7m94-11h7m-20 2h7m477-3h7m-198-26h7m183-92h7m-292-68h7m139 46h7m-145 123h7m-309-52h7m591 71h7m-56-133h7m78 262h7m-18 174h7m-18-206h7m0 38h7m-8 72h7m-6-46h7m-14-99h7m-4 199h7m11 85h7m-22-163h7m15 73h7m-36 61h7m-6-226h7m-9 273h7m16-206h7m-9-38h7m-52-103h7m12 4h7m24 97h7m-32 176h7m17-171h7m-24 144h7m-15-207h7m7 81h7m7 115h7m-24 14h7m-3-61h7m-41-179h7m22 185h7m-16 121h7m1-195h7m6 115h7m-26-208h7m8 218h7m-23 33h7m-1-18h7m-16 62h7m24-18h7m-33-86h7m0-98h7m-19 200h7m4-175h7m3 44h7m-50-188h7m16 19h7m14 213h7m-25 29h7m-16 100h7m12-299h7m-12 169h7m-6 13h7m-6-138h7m-12 44h7m-9 107h7m26-51h7m-23 88h7m-6-236h7m-57-65h7m40 99h7m-28 265h7m3-181h7m-13 84h7m-7 69h7m14-274h7m-9 207h7m-22 56h7m12-168h7m-24 24h7m-5 45h7m10 56h7m-33 11h7m3-90h7m-34-190h7m-8-15h7m15 78h7m-10 244h7m7-67h7m-19-20h7m14-156h7m-22 65h7m-12 40h7m9 80h7m-27 96h7m30-103h7m-39 63h7m-7 36h7m1-147h7m-14-141h7m10 119h7m-22 21h7m-19 154h7m2-298h7m-9 301h7m17-217h7m-11-64h7m-30-58h7m0 324h7m-9-261h7m-9 211h7m-7 47h7m3-312h7m-6 240h7m-48-274h7m55 181h7m-40-149h7m9 96h7m-16 38h7m-3 12h7m-38-166h7m18 79h7m-5 40h7m4 3h7m14-50h7m-54-58h7m13 243h7m-12-158h7m-9 154h7m15 34h7m-23-246h7m-7 31h7m-11 249h7m-14-8h7m5-222h7m-7 29h7m-15-40h7m-10 133h7m-7-142h7m-7 172h7m19-156h7m-25 93h7m-4-72h7m-16 168h7m-12-240h7m2 212h7m-17 86h7m1-82h7m6-162h7m-19 15h7m-4 48h7m28-137h7m-43 118h7m-18-102h7m-5 22h7m8 136h7m-22 114h7m8-18h7m-37-280h7m34 54h7m-33 205h7m-4-189h7m-2 144h7m3 119h7m-18-247h7m-5 81h7m-15 110h7m0 27h7m33-178h7m-32-17h7m-7 231h7m-29 8h7m14-79h7m-18-179h7m-3 234h7m1-231h7m-28-71h7m-3 172h7m-36-211h7m31 226h7m-23-168h7m-18-46h7m-17-2h7m23 173h7m-13 70h7m0-64h7m14-120h7m1 276h7m-43-255h7m21 167h7m-29-131h7m-7 172h7m-281-434h7m-12 29h7m-4-17h7m84-106h7m-25 0h7m-57 53h7m33-22h7m-8 29h7m8-115h7m-7 99h7m-4 19h7m-50-16h7m10-32h7m-34 74h7m15-30h7m86-111h7m-85 120h7m8-58h7m39-21h7m-97 119h7m17-48h7m28-6h7m-94 50h7m15-65h7m1 14h7m41-12h7m-35-17h7m-30-12h7m5 32h7m62-34h7m-62 39h7m-64 46h7m42-94h7m-36 73h7m41-60h7m-34 55h7m-48 28h7m15-9h7m71-93h7m1-11h7m-129 110h7m8-25h7m70 26h7m-76-9h7m16 38h7m-28-51h7m-25 18h7m71-72h7m-5-7h7m-61 107h7m23-96h7m3 57h7m-41 12h7m22-40h7m10-45h7m-2-19h7m-9 44h7m-34 41h7m56-70h7m-81 70h7m-38 37h7m41-96h7m-1 34h7m-55 36h7m56-68h7m13-13h7m-68 47h7m20 10h7m-11-56h7m1 61h7m-15-14h7m-11-56h7m-3 78h7m5-59h7m-78 37h7m59 41h7m-8 35h7m3-90h7m-50 13h7m-31 85h7m62-96h7m-53 26h7m1 14h7m-38-3h7m99-93h7m-48 28h7m-33 19h7m36-85h7m-67 103h7m17 21h7m19-112h7m-86 90h7m47 14h7m-108 149h7m96-209h7m-27 96h7m30-40h7m30-109h7m-115 138h7m48 5h7m-4-60h7m4-10h7m-16 19h7m-39 76h7m62-45h7m-59-32h7m-7-5h7m-7 13h7m-6-22h7m-11 25h7m-26 40h7m56-59h7m-33 5h7m8-28h7m-40-7h7m-44 90h7m69-91h7m-42 18h7m6 129h7m66-143h7m-98 38h7m8-6h7m-68 3h7m18-26h7m-16 39h7m70-101h7m-47 120h7m-7-5h7m13-62h7m-10 23h7m-52 81h7m13-1h7m9-55h7m4-54h7m-19 103h7m19-76h7m-93 108h7m12-51h7m-45 15h7m64-24h7m-19-4h7m37-6h7m-48 12h7m88-141h7m-84 67h7m-49 87h7m110-175h7m-53 71h7m-109 94h7m86-22h7m-61 22h7m-22 9h7m59-87h7m-47 101h7m20-63h7m52-72h7m-61 19h7m1 83h7m11-39h7m-94 79h7m118-112h7m-123 42h7m54-22h7m-26 96h7m-22-63h7m-23 21h7m18-34h7m-26 7h7m39-5h7m-48-49h7m18 46h7m0-43h7m-25 67h7m-32-15h7m50 7h7m47-79h7m-85 21h7m7 28h7m-95 135h7m47-100h7m-28 46h7m2-22h7m39-29h7m20 25h7m-33-35h7m-12-16h7m11-16h7m-89 91h7m59-136h7m32 10h7m-32 79h7m-38-20h7m-83 102h7m47-27h7m2-76h7m58-23h7m14-54h7m-115 148h7m68-77h7m-78 86h7m53-88h7m-93 89h7m43-62h7m22-47h7m-122 98h7m87-84h7m11 46h7m-42 7h7m-55 25h7m97-59h7m-69 37h7m18-46h7m-14 12h7m7-24h7m-55 36h7m-18 11h7m56 4h7m-74 27h7m32-7h7m-7-30h7m-26 29h7m2-33h7m70-60h7m-58 66h7m73-103h7m-105 115h7m53-67h7m-57 57h7m-40 32h7m16-30h7m52-74h7m-14 8h7m-67 132h7m-1-59h7m70-53h7m-38 40h7m-38 21h7m-14 22h7m-2-19h7m-13 37h7m50-144h7m-67 59h7m-24 6h7m46-23h7m7-19h7m-64 51h7m32-29h7m-87 63h7m83-77h7m-46 39h7" stroke="#111" stroke-width="7" fill="none"/>
<path d="M545.7,656.5 L551.9,655.0 L560.8,652.8 L569.7,651.3 L578.6,649.9 L587.4,649.9 L594.9,650.6 L602.3,651.3 L609.7,652.8 L612.9,656.5 L613.8,664.7 L613.4,679.5 L612.6,691.3 L545.7,691.3" fill="#000" stroke="#000" stroke-width="1.2" stroke-linejoin="round"/>
<clipPath id="fc4"><path d="M562.3,664.7 L564.5,659.0 L571.1,656.1 L578.6,654.6 L586.0,655.3 L590.4,657.6 L594.1,656.1 L600.8,655.3 L606.7,656.1 L608.2,659.0 L607.4,690.6 L571.1,690.6 L568.9,681.0 L565.2,673.6 L562.6,667.6Z"/></clipPath>
<path d="M562.3,664.7 L564.5,659.0 L571.1,656.1 L578.6,654.6 L586.0,655.3 L590.4,657.6 L594.1,656.1 L600.8,655.3 L606.7,656.1 L608.2,659.0 L607.4,690.6 L571.1,690.6 L568.9,681.0 L565.2,673.6 L562.6,667.6Z" fill="#fff" stroke="#555" stroke-width="0.8"/>
<g clip-path="url(#fc4)">
<path d="M568.9 692.8V665.9A13.3 13.3 0 0 1 595.6 665.9V692.8Z" fill="#fcfcfc" stroke="#3a3a3a" stroke-width="0.5"/>
<path d="M570.3 692.8V665.9A12.0 12.0 0 0 1 594.3 665.9V692.8Z" fill="#f3f3f3" stroke="#3a3a3a" stroke-width="0.5"/>
<path d="M571.6 692.8V665.9A10.7 10.7 0 0 1 592.9 665.9V692.8Z" fill="#eaeaea" stroke="#3a3a3a" stroke-width="0.5"/>
<path d="M572.9 692.8V665.9A9.3 9.3 0 0 1 591.6 665.9V692.8Z" fill="#e1e1e1" stroke="#3a3a3a" stroke-width="0.5"/>
<path d="M574.3 692.8V665.9A8.0 8.0 0 0 1 590.3 665.9V692.8Z" fill="#d8d8d8" stroke="#3a3a3a" stroke-width="0.5"/>
<path d="M575.6 692.8V665.9A6.7 6.7 0 0 1 588.9 665.9V692.8Z" fill="#cfcfcf" stroke="#3a3a3a" stroke-width="0.5"/>
<path d="M576.9 692.8V665.9A5.3 5.3 0 0 1 587.6 665.9V692.8Z" fill="#d8d8d8" stroke="#3a3a3a" stroke-width="0.5"/>
<path d="M578.3 692.8V665.9A4.0 4.0 0 0 1 586.3 665.9V692.8Z" fill="#e1e1e1" stroke="#3a3a3a" stroke-width="0.5"/>
<ellipse cx="582.3" cy="665.9" rx="4.8" ry="5.8" fill="#e1e1e1" stroke="#4a4a4a" stroke-width="0.45"/>
<ellipse cx="582.3" cy="665.9" rx="3.5" ry="4.2" fill="#eaeaea" stroke="#4a4a4a" stroke-width="0.45"/>
<ellipse cx="582.3" cy="665.9" rx="2.1" ry="2.6" fill="#fff" stroke="#4a4a4a" stroke-width="0.45"/>
<path d="M592.2 692.8V666.1A9.3 9.3 0 0 1 610.9 666.1V692.8Z" fill="#fcfcfc" stroke="#3a3a3a" stroke-width="0.5"/>
<path d="M593.5 692.8V666.1A8.0 8.0 0 0 1 609.5 666.1V692.8Z" fill="#efefef" stroke="#3a3a3a" stroke-width="0.5"/>
<path d="M594.9 692.8V666.1A6.7 6.7 0 0 1 608.2 666.1V692.8Z" fill="#e2e2e2" stroke="#3a3a3a" stroke-width="0.5"/>
<path d="M596.2 692.8V666.1A5.3 5.3 0 0 1 606.9 666.1V692.8Z" fill="#d5d5d5" stroke="#3a3a3a" stroke-width="0.5"/>
<path d="M597.5 692.8V666.1A4.0 4.0 0 0 1 605.5 666.1V692.8Z" fill="#d5d5d5" stroke="#3a3a3a" stroke-width="0.5"/>
<ellipse cx="601.5" cy="666.1" rx="4.8" ry="5.8" fill="#d5d5d5" stroke="#4a4a4a" stroke-width="0.45"/>
<ellipse cx="601.5" cy="666.1" rx="3.5" ry="4.2" fill="#e2e2e2" stroke="#4a4a4a" stroke-width="0.45"/>
<ellipse cx="601.5" cy="666.1" rx="2.1" ry="2.6" fill="#fff" stroke="#4a4a4a" stroke-width="0.45"/>
<path d="M588.2 692.8V678.0A4.4 6.2 0 0 1 597.1 678.0V692.8Z" fill="#fff" stroke="none"/>
<path d="M591.1 692.8V678.0A1.5 2.1 0 0 1 594.1 678.0V692.8" fill="none" stroke="#505050" stroke-width="0.5"/>
<path d="M589.7 692.8V678.0A3.0 4.1 0 0 1 595.6 678.0V692.8" fill="none" stroke="#505050" stroke-width="0.5"/>
<path d="M588.2 692.8V678.0A4.4 6.2 0 0 1 597.1 678.0V692.8" fill="none" stroke="#505050" stroke-width="0.5"/>
</g>
<path d="M581.2,641.7 L583.0,631.3 L586.0,626.1 L601.5,614.3 L613.4,616.8 L601.5,632.8 L591.9,646.1 L584.5,645.1 L581.2,641.7" fill="none" stroke="#111" stroke-width="1.2" stroke-linejoin="round"/>
<path d="M436.50 442.00V534.00M529.50 442.00V534.00" stroke="#111" stroke-width="1.3" fill="none"/>
<path d="M435.85 442.00H530.15M435.85 534.00H530.15" stroke="#111" stroke-width="1.8" fill="none"/>
<path d="M546.50 442.00V534.00M639.50 442.00V534.00" stroke="#111" stroke-width="1.3" fill="none"/>
<path d="M545.85 442.00H640.15M545.85 534.00H640.15" stroke="#111" stroke-width="1.8" fill="none"/>
<path d="M435.50 600.00V693.00M528.50 600.00V693.00" stroke="#111" stroke-width="1.3" fill="none"/>
<path d="M434.85 600.00H529.15M434.85 693.00H529.15" stroke="#111" stroke-width="1.8" fill="none"/>
<path d="M546.50 600.00V693.00M638.50 600.00V693.00" stroke="#111" stroke-width="1.3" fill="none"/>
<path d="M545.85 600.00H639.15M545.85 693.00H639.15" stroke="#111" stroke-width="1.8" fill="none"/>
<text x="472.50" y="437.40" font-size="11.6" fill="#111" stroke="#111" stroke-width="0.3" textLength="17.63" lengthAdjust="spacingAndGlyphs">WT</text>
<text x="569.60" y="437.40" font-size="11.9" fill="#111" stroke="#111" stroke-width="0.3" textLength="43.89" lengthAdjust="spacingAndGlyphs">Bcl-2 Tg</text>
<text x="455.50" y="585.20" font-size="11.7" fill="#111" stroke="#111" stroke-width="0.3" textLength="48.95" lengthAdjust="spacingAndGlyphs">PLZF-cre</text>
<text x="452.00" y="598.50" font-size="11.7" fill="#111" stroke="#111" stroke-width="0.3" textLength="59.62" lengthAdjust="spacingAndGlyphs">Hdac3 cKO</text>
<text x="564.50" y="571.30" font-size="11.7" fill="#111" stroke="#111" stroke-width="0.3" textLength="46.70" lengthAdjust="spacingAndGlyphs">Bcl-2 Tg/</text>
<text x="564.50" y="585.20" font-size="11.7" fill="#111" stroke="#111" stroke-width="0.3" textLength="48.75" lengthAdjust="spacingAndGlyphs">PLZF-cre</text>
<text x="564.50" y="598.50" font-size="11.7" fill="#111" stroke="#111" stroke-width="0.3" textLength="60.52" lengthAdjust="spacingAndGlyphs">Hdac3 cKO</text>
<text x="447.20" y="463.50" font-size="11.6" fill="#111" stroke="#111" stroke-width="0.3" textLength="28.73" lengthAdjust="spacingAndGlyphs">0.405</text>
<text x="558.10" y="463.50" font-size="11.4" fill="#111" stroke="#111" stroke-width="0.3" textLength="28.03" lengthAdjust="spacingAndGlyphs">0.224</text>
<text x="445.40" y="622.20" font-size="11.6" fill="#111" stroke="#111" stroke-width="0.3" textLength="34.48" lengthAdjust="spacingAndGlyphs">0.0952</text>
<text x="555.10" y="622.40" font-size="11.6" fill="#111" stroke="#111" stroke-width="0.3" textLength="34.38" lengthAdjust="spacingAndGlyphs">0.0522</text>
<line x1="436.00" y1="550.00" x2="521.30" y2="550.00" stroke="#111" stroke-width="1.7"/>
<line x1="560.40" y1="550.00" x2="641.00" y2="550.00" stroke="#111" stroke-width="1.7"/>
<text x="522.00" y="554.00" font-size="12.6" fill="#111" stroke="#111" stroke-width="0.3" textLength="37.24" lengthAdjust="spacingAndGlyphs">TCR-β</text>
<line x1="435.00" y1="710.00" x2="519.00" y2="710.00" stroke="#111" stroke-width="1.7"/>
<line x1="558.00" y1="710.00" x2="639.00" y2="710.00" stroke="#111" stroke-width="1.7"/>
<text x="520.00" y="714.60" font-size="12.6" fill="#111" stroke="#111" stroke-width="0.3" textLength="38.64" lengthAdjust="spacingAndGlyphs">TCR-β</text>
<text x="422.10" y="615.20" font-size="13.1" fill="#111" stroke="#111" stroke-width="0.3" textLength="95.82" lengthAdjust="spacingAndGlyphs" transform="rotate(-90 422.10 615.20)">PBS57/CD1d tet</text>
<line x1="417.50" y1="442.80" x2="417.50" y2="523.00" stroke="#111" stroke-width="1.3"/>
<line x1="417.50" y1="618.40" x2="417.50" y2="691.60" stroke="#111" stroke-width="1.3"/>
<path d="M40.7,133.7 L47.0,133.7 L48.5,130.0 L50.0,124.1 L51.5,118.1 L53.0,121.1 L54.4,122.6 L55.9,124.1 L57.4,124.8 L58.9,126.3 L60.4,127.0 L61.9,130.0 L63.3,130.7 L65.6,132.2 L67.0,127.8 L68.2,124.8 L69.3,127.8 L70.7,132.2 L73.0,133.7 L74.4,133.0 L77.4,132.2 L79.6,130.0 L81.1,132.2 L83.3,133.0 L86.3,132.2 L88.5,131.2 L89.6,119.6 L90.7,113.7 L91.6,124.1 L93.0,127.0 L94.4,121.1 L95.9,112.2 L97.0,106.3 L98.1,103.3 L99.3,106.3 L100.4,119.6 L101.1,128.5 L102.1,133.0 L103.3,133.7" fill="#dedede" stroke="#919191" stroke-width="1.1" stroke-linejoin="round"/>
<path d="M40.7,133.7 L49.3,133.0 L50.7,131.2 L52.2,130.7 L53.7,131.8 L55.9,133.7 L58.1,132.7 L59.6,132.2 L61.9,133.3 L64.1,133.0 L66.3,131.2 L68.5,130.4 L70.7,131.5 L73.0,133.7 L75.9,133.7 L78.1,132.2 L80.4,133.0 L82.6,130.7 L84.8,129.3 L87.0,128.2 L89.3,128.5 L90.7,124.8 L92.2,118.1 L93.7,109.3 L95.2,98.9 L96.7,87.0 L97.9,72.2 L98.9,61.9 L99.6,64.8 L100.5,87.0 L101.4,112.2 L102.1,128.5 L102.9,133.0 L104.1,133.7 L117.1,133.7" fill="none" stroke="#111" stroke-width="1.7" stroke-linejoin="round"/>
<path d="M132.6,133.7 L136.3,127.0 L137.8,113.0 L139.3,113.7 L141.5,95.9 L143.0,103.3 L144.4,95.9 L145.9,61.9 L147.4,63.3 L148.9,84.1 L151.1,98.9 L152.6,118.9 L154.1,107.8 L155.6,112.2 L157.8,110.7 L160.0,118.1 L162.2,112.2 L163.7,104.8 L165.2,115.2 L167.4,119.6 L170.4,118.1 L172.6,112.2 L174.8,101.1 L176.3,112.2 L178.5,122.6 L180.7,128.5 L183.0,133.7" fill="#dedede" stroke="#919191" stroke-width="1.1" stroke-linejoin="round"/>
<path d="M130.1,133.7 L132.6,133.7 L135.6,128.5 L137.5,81.9 L139.3,95.9 L140.7,82.6 L143.0,74.4 L144.9,61.9 L146.4,78.1 L148.1,79.6 L149.6,88.5 L151.1,105.6 L152.9,88.8 L154.4,97.4 L155.6,113.7 L157.0,112.2 L159.3,100.4 L162.2,91.8 L163.7,98.9 L165.2,112.2 L166.7,121.1 L168.1,115.2 L169.6,118.1 L171.1,122.6 L173.3,121.9 L174.8,123.3 L177.0,127.0 L179.3,118.1 L180.7,121.1 L182.2,130.7 L184.4,128.5 L186.7,133.0 L189.6,130.7 L191.9,133.7 L206.4,133.7" fill="none" stroke="#111" stroke-width="1.7" stroke-linejoin="round"/>
<path d="M222.0,133.5 L226.0,108.7 L228.7,71.3 L231.3,63.3 L234.0,72.7 L236.7,82.0 L239.3,96.7 L242.0,116.7 L244.7,116.7 L247.3,123.3 L252.7,127.3 L258.0,128.7 L263.3,133.5" fill="#dedede" stroke="#919191" stroke-width="1.1" stroke-linejoin="round"/>
<path d="M219.3,133.5 L220.7,133.5 L224.7,116.7 L227.3,90.0 L230.0,71.3 L232.7,62.0 L234.0,74.0 L235.3,70.0 L236.7,79.3 L238.0,95.3 L240.7,99.3 L243.3,108.7 L246.0,119.3 L248.7,118.0 L250.0,123.3 L252.7,127.3 L256.7,130.0 L262.0,132.7 L264.7,133.5 L294.8,133.5" fill="none" stroke="#111" stroke-width="1.7" stroke-linejoin="round"/>
<path d="M311.3,133.5 L314.8,103.3 L317.5,68.7 L319.3,62.0 L321.5,71.3 L324.1,90.0 L326.8,116.7 L330.0,128.7 L332.7,133.5" fill="#dedede" stroke="#919191" stroke-width="1.1" stroke-linejoin="round"/>
<path d="M307.1,133.5 L310.0,133.5 L314.0,111.3 L316.1,76.7 L318.0,66.0 L319.3,71.3 L320.7,62.0 L322.0,76.7 L324.1,82.0 L326.0,100.7 L328.7,116.7 L331.3,122.0 L334.0,130.0 L338.0,132.7 L340.7,128.7 L343.3,132.1 L348.7,132.7 L359.3,133.5 L362.0,132.7 L364.7,133.5 L383.3,133.5" fill="none" stroke="#111" stroke-width="1.7" stroke-linejoin="round"/>
<path d="M467.8,152.2 L474.4,150.0 L477.8,146.7 L480.0,142.2 L481.6,134.4 L482.9,116.7 L484.4,94.4 L486.0,74.4 L487.1,67.8 L488.2,68.2 L489.3,78.9 L490.4,94.4 L491.8,101.1 L493.3,116.7 L494.9,134.4 L496.2,145.6 L497.8,150.0 L500.0,152.2" fill="#dedede" stroke="#919191" stroke-width="1.1" stroke-linejoin="round"/>
<path d="M470.0,152.2 L473.3,147.8 L475.6,138.9 L477.1,123.3 L478.4,105.6 L479.6,85.6 L480.7,70.0 L481.3,66.0 L482.2,70.0 L483.3,94.4 L484.4,121.1 L485.6,143.3 L486.7,151.1 L487.8,152.2" fill="none" stroke="#111" stroke-width="1.2" stroke-linejoin="round" stroke-dasharray="1.1,1.5"/>
<path d="M434.9,152.2 L465.6,152.2 L468.9,151.1 L472.2,147.8 L475.6,143.3 L477.3,127.8 L478.4,122.2 L480.0,124.4 L481.1,127.8 L482.2,118.9 L483.3,105.6 L484.4,90.0 L485.6,72.2 L486.2,67.3 L487.8,66.7 L488.9,68.9 L490.0,83.3 L491.1,98.9 L492.2,101.1 L493.3,114.4 L494.4,127.8 L495.6,138.9 L496.7,146.7 L498.2,150.0 L500.0,151.8 L503.3,152.2 L525.6,152.2" fill="none" stroke="#111" stroke-width="1.7" stroke-linejoin="round"/>
<path d="M58.0,526.4 L59.1,520.0 L60.1,512.6 L61.3,520.0 L62.5,525.9 L65.0,525.2 L67.2,520.7 L69.4,515.6 L71.7,517.0 L73.9,519.3 L75.4,520.7 L76.9,509.6 L78.3,505.2 L79.8,502.2 L81.3,496.3 L82.8,499.3 L84.3,503.7 L85.7,502.2 L87.2,499.3 L88.7,485.9 L90.2,483.0 L91.7,491.9 L92.7,462.2 L93.6,450.4 L94.6,453.3 L95.7,459.3 L96.9,464.4 L98.3,454.8 L99.8,459.3 L101.0,460.7 L102.0,469.6 L103.1,484.4 L104.0,499.3 L105.0,509.6 L106.5,511.1 L108.0,514.1 L109.0,512.6 L110.2,514.1 L111.7,520.0 L113.1,521.5 L114.6,526.4" fill="#dedede" stroke="#919191" stroke-width="1.1" stroke-linejoin="round"/>
<path d="M51.7,526.4 L61.3,526.4 L62.8,523.7 L65.0,522.2 L67.2,520.7 L69.4,515.6 L71.7,513.3 L73.1,508.1 L74.2,505.2 L75.4,509.6 L76.9,502.2 L77.9,494.8 L79.1,491.9 L80.6,494.8 L82.0,485.9 L83.8,472.6 L85.0,462.2 L86.2,452.6 L87.2,460.7 L88.0,474.1 L88.7,462.2 L89.4,449.6 L90.2,459.3 L91.2,477.0 L92.4,490.4 L93.1,494.1 L93.9,484.4 L95.1,471.1 L96.1,475.6 L97.1,488.9 L98.3,502.2 L99.8,511.1 L101.3,514.1 L103.5,514.8 L105.0,517.0 L106.5,520.0 L108.0,520.7 L110.2,521.5 L112.4,524.4 L114.6,526.4 L133.9,526.4" fill="none" stroke="#111" stroke-width="1.7" stroke-linejoin="round"/>
<path d="M159.8,526.4 L162.8,525.2 L165.7,523.7 L168.7,522.2 L171.7,521.5 L174.6,520.0 L176.9,517.0 L178.3,511.1 L179.4,505.2 L180.6,497.8 L181.7,499.3 L182.8,496.3 L183.8,484.4 L185.0,481.5 L186.2,478.5 L187.2,474.1 L188.7,466.7 L189.4,469.6 L190.6,462.2 L191.7,456.3 L192.7,459.3 L193.9,454.8 L195.1,448.9 L196.1,457.8 L196.9,469.6 L198.0,481.5 L199.5,493.3 L200.6,499.3 L201.3,506.7 L202.5,515.6 L203.5,517.0 L205.0,520.7 L206.5,523.7 L208.0,525.9 L210.2,526.4" fill="#dedede" stroke="#919191" stroke-width="1.1" stroke-linejoin="round"/>
<path d="M151.7,526.4 L157.6,526.4 L159.8,523.7 L162.8,522.2 L165.7,521.5 L168.7,518.5 L171.7,514.1 L174.6,508.1 L176.9,502.2 L178.3,493.3 L179.4,484.4 L180.3,474.1 L181.3,463.0 L182.0,469.6 L182.8,478.5 L183.5,465.2 L184.7,448.9 L185.7,454.8 L186.5,462.2 L188.0,463.7 L189.4,465.2 L190.9,468.1 L192.1,472.6 L193.1,484.4 L194.6,493.3 L196.1,499.3 L197.1,506.7 L198.0,512.6 L198.6,518.5 L199.8,520.7 L201.3,520.7 L203.1,520.0 L204.3,521.5 L205.7,524.4 L207.2,526.4 L233.9,526.4" fill="none" stroke="#111" stroke-width="1.7" stroke-linejoin="round"/>
<path d="M258.8,526.4 L261.8,523.0 L266.2,517.0 L270.7,512.6 L275.1,503.7 L278.1,499.3 L280.3,488.9 L281.8,472.6 L282.8,465.2 L284.0,465.2 L285.5,450.4 L287.0,457.8 L288.4,460.7 L289.9,461.5 L291.4,475.6 L292.9,484.4 L293.9,502.2 L295.1,509.6 L296.1,520.0 L297.3,524.4 L298.8,526.4" fill="#dedede" stroke="#919191" stroke-width="1.1" stroke-linejoin="round"/>
<path d="M250.7,526.4 L252.9,525.2 L255.9,525.6 L258.8,524.4 L261.8,522.2 L264.7,520.0 L267.7,513.3 L269.9,514.1 L272.1,509.6 L273.6,508.1 L275.4,505.2 L276.6,503.7 L277.8,509.6 L278.8,496.3 L279.9,485.9 L281.0,475.6 L282.2,480.0 L283.3,484.4 L284.0,472.6 L285.2,453.3 L285.9,448.9 L287.0,454.8 L288.1,468.1 L289.2,488.9 L290.2,502.2 L291.4,505.2 L292.9,506.7 L294.4,509.6 L295.9,514.1 L297.3,521.5 L298.5,524.4 L300.3,525.6 L303.3,525.6 L305.5,526.4 L332.9,526.4" fill="none" stroke="#111" stroke-width="1.7" stroke-linejoin="round"/>
<path d="M82.0,633.9 L85.0,631.7 L87.2,630.2 L89.4,630.9 L91.2,628.0 L92.4,620.6 L93.6,619.1 L94.6,620.6 L96.1,614.6 L97.6,604.3 L98.6,589.4 L99.8,574.6 L100.6,556.1 L101.3,574.6 L102.5,589.4 L103.5,601.3 L105.0,611.7 L106.5,620.6 L108.0,626.5 L109.4,629.4 L110.9,633.9" fill="#dedede" stroke="#919191" stroke-width="1.1" stroke-linejoin="round"/>
<path d="M51.7,633.9 L53.9,633.1 L56.9,632.4 L59.8,633.9 L62.8,633.1 L65.7,632.4 L68.7,631.7 L70.9,629.4 L72.4,626.5 L74.6,627.2 L76.9,625.7 L78.3,622.0 L79.8,614.6 L81.3,608.7 L82.8,607.2 L83.8,601.3 L85.0,589.4 L86.2,579.1 L87.2,571.7 L88.0,567.2 L88.7,561.3 L89.4,556.1 L90.2,558.3 L90.9,562.8 L91.7,567.2 L92.4,582.0 L93.1,604.3 L93.9,619.1 L95.4,628.0 L96.9,630.9 L99.8,633.1 L104.3,633.9" fill="none" stroke="#111" stroke-width="1.2" stroke-linejoin="round" stroke-dasharray="1.1,1.5"/>
<path d="M51.7,633.9 L79.1,633.9 L80.6,631.7 L82.8,630.2 L84.3,623.5 L85.7,621.3 L87.2,617.6 L88.7,613.1 L89.7,604.3 L90.9,592.4 L91.8,590.9 L92.7,601.3 L93.6,593.9 L94.6,582.0 L95.7,570.2 L96.6,559.8 L97.1,556.1 L98.0,561.3 L99.1,571.7 L100.1,580.6 L101.3,585.0 L102.5,593.9 L103.5,601.3 L105.0,613.1 L106.5,622.0 L108.0,625.7 L109.0,626.5 L109.9,628.7 L110.9,633.1 L111.7,633.9 L133.9,633.9" fill="none" stroke="#111" stroke-width="1.7" stroke-linejoin="round"/>
<path d="M186.5,633.9 L188.7,632.4 L190.2,629.4 L191.2,622.0 L192.4,607.2 L193.6,589.4 L194.6,571.7 L195.7,562.8 L196.6,556.9 L197.6,558.3 L198.6,574.6 L199.8,589.4 L201.3,604.3 L202.8,614.6 L204.3,622.0 L206.0,628.0 L208.0,632.4 L210.2,633.9" fill="#dedede" stroke="#919191" stroke-width="1.1" stroke-linejoin="round"/>
<path d="M151.7,633.9 L171.7,633.9 L174.6,632.4 L176.9,630.2 L178.8,628.0 L179.8,623.5 L180.9,613.1 L182.0,607.2 L183.2,601.3 L184.3,589.4 L185.3,583.5 L186.2,570.2 L186.9,556.9 L188.0,559.8 L188.7,564.3 L189.4,567.2 L190.2,582.0 L191.2,604.3 L192.4,619.1 L193.6,628.0 L194.6,632.4 L196.1,633.9" fill="none" stroke="#111" stroke-width="1.2" stroke-linejoin="round" stroke-dasharray="1.1,1.5"/>
<path d="M151.7,633.9 L179.1,633.9 L181.3,633.1 L183.5,631.7 L185.0,629.4 L186.5,623.5 L187.7,617.6 L188.7,607.2 L189.7,595.4 L190.9,586.5 L192.1,579.1 L193.1,573.1 L194.2,567.2 L195.1,562.8 L196.1,556.1 L196.9,559.8 L197.6,568.7 L198.6,577.6 L199.8,586.5 L201.0,593.9 L202.0,602.8 L203.5,610.2 L205.0,617.6 L206.5,625.0 L208.0,629.4 L209.9,632.4 L211.7,633.9 L233.9,633.9" fill="none" stroke="#111" stroke-width="1.7" stroke-linejoin="round"/>
<path d="M287.7,633.9 L289.2,629.4 L290.2,616.1 L291.4,601.3 L292.9,582.0 L294.4,562.8 L295.6,558.3 L296.6,570.2 L297.3,589.4 L298.8,607.2 L300.3,619.1 L302.5,626.5 L304.7,632.4 L306.2,633.9" fill="#dedede" stroke="#919191" stroke-width="1.1" stroke-linejoin="round"/>
<path d="M250.7,633.9 L261.8,633.6 L265.5,631.7 L268.4,630.2 L271.4,627.2 L273.6,622.0 L275.4,614.6 L276.9,607.2 L278.4,596.9 L279.6,589.4 L280.7,582.0 L281.8,568.7 L282.8,561.3 L284.0,557.6 L285.2,556.9 L286.2,561.3 L287.0,574.6 L287.7,589.4 L288.4,604.3 L289.2,616.1 L289.9,625.0 L291.1,630.9 L292.1,633.1 L293.6,633.9" fill="none" stroke="#111" stroke-width="1.2" stroke-linejoin="round" stroke-dasharray="1.1,1.5"/>
<path d="M250.7,633.9 L281.0,633.9 L283.3,632.4 L285.5,630.9 L287.0,625.0 L288.4,616.1 L289.9,604.3 L291.4,589.4 L292.6,577.6 L293.6,564.3 L294.4,556.1 L295.1,558.3 L296.1,567.2 L297.0,582.0 L298.1,596.9 L299.1,611.7 L300.0,620.6 L301.0,623.5 L302.5,626.5 L304.0,630.9 L305.5,633.9 L332.9,633.9" fill="none" stroke="#111" stroke-width="1.7" stroke-linejoin="round"/>
<path d="M79.1,740.4 L80.6,735.9 L82.0,730.0 L83.5,725.6 L84.7,728.5 L85.7,733.0 L87.2,733.0 L88.7,721.1 L90.2,701.9 L91.2,694.4 L92.1,690.0 L93.1,679.6 L94.2,670.7 L95.4,662.6 L96.6,672.2 L97.6,687.0 L98.6,681.1 L99.5,690.0 L100.6,687.0 L101.6,690.0 L102.5,685.6 L103.5,694.4 L104.6,709.3 L105.7,719.6 L106.9,730.0 L108.0,735.9 L109.4,733.0 L110.9,730.7 L112.0,735.9 L113.1,740.4" fill="#dedede" stroke="#919191" stroke-width="1.1" stroke-linejoin="round"/>
<path d="M51.2,740.4 L55.4,739.6 L58.3,739.3 L61.3,739.6 L64.3,740.7 L65.7,739.6 L67.2,736.7 L68.7,735.9 L70.2,738.1 L71.7,737.4 L73.9,738.6 L75.4,738.1 L76.4,734.4 L77.6,731.5 L79.1,728.5 L80.6,725.6 L81.7,712.2 L82.8,698.9 L84.3,698.1 L85.3,694.4 L86.2,679.6 L87.2,672.2 L88.3,676.7 L89.1,681.1 L89.7,672.2 L90.6,662.6 L91.2,675.2 L92.1,698.9 L92.7,690.0 L93.6,682.6 L94.6,684.1 L95.4,691.5 L96.1,706.3 L97.1,716.7 L98.0,722.6 L99.8,724.1 L102.0,727.0 L103.5,728.5 L105.0,728.5 L106.0,731.5 L107.2,734.4 L108.7,736.7 L110.9,738.1 L113.1,739.3 L114.6,740.4 L134.3,740.4" fill="none" stroke="#111" stroke-width="1.7" stroke-linejoin="round"/>
<path d="M170.2,740.4 L174.6,739.6 L178.3,738.1 L180.6,736.7 L182.8,734.4 L184.3,725.6 L185.7,716.7 L187.2,701.9 L188.3,691.5 L189.4,684.1 L190.2,685.6 L191.2,672.2 L192.4,661.9 L193.6,666.3 L194.6,667.8 L195.7,679.6 L196.9,694.4 L198.3,706.3 L199.8,707.8 L201.3,715.2 L202.8,724.1 L204.3,721.1 L205.7,724.1 L207.2,728.5 L208.7,733.0 L210.2,738.1 L212.4,740.4" fill="#dedede" stroke="#919191" stroke-width="1.1" stroke-linejoin="round"/>
<path d="M152.4,740.4 L155.4,738.9 L158.3,739.6 L161.3,738.9 L164.3,739.6 L166.5,738.9 L168.7,736.7 L170.9,735.2 L173.1,734.4 L175.4,733.0 L176.9,730.7 L179.1,730.0 L180.6,727.0 L181.7,715.2 L182.8,710.0 L183.8,709.3 L185.0,701.9 L186.2,698.9 L187.2,687.0 L188.3,672.2 L189.1,661.9 L189.9,667.8 L190.9,678.1 L191.7,675.2 L192.7,670.7 L193.6,679.6 L194.6,691.5 L195.7,701.9 L196.9,710.7 L198.3,712.2 L199.5,718.1 L200.6,727.0 L202.0,731.5 L203.5,733.0 L205.0,735.2 L206.5,738.1 L208.7,738.9 L211.7,739.6 L213.1,740.4 L235.7,740.4" fill="none" stroke="#111" stroke-width="1.7" stroke-linejoin="round"/>
<path d="M281.0,740.1 L284.0,738.9 L286.2,735.9 L287.7,733.0 L289.9,730.0 L292.1,727.0 L294.4,728.5 L296.6,722.6 L298.5,712.2 L299.6,701.9 L301.0,687.0 L302.1,679.6 L303.3,667.8 L304.4,664.8 L305.5,679.6 L306.5,701.9 L307.7,716.7 L308.9,730.0 L309.9,737.4 L311.0,740.1" fill="#dedede" stroke="#919191" stroke-width="1.1" stroke-linejoin="round"/>
<path d="M251.7,740.1 L261.8,740.1 L264.7,739.2 L267.7,738.9 L269.9,736.2 L271.4,736.7 L273.6,737.4 L275.9,738.1 L278.1,737.4 L279.6,734.4 L281.8,731.5 L283.3,730.0 L284.0,721.1 L285.2,706.3 L286.7,701.9 L287.7,684.1 L288.4,682.6 L289.6,694.4 L291.1,703.3 L292.1,691.5 L292.9,682.6 L293.6,688.5 L294.7,707.8 L295.6,701.9 L296.6,691.5 L297.6,693.0 L298.8,695.9 L300.0,697.4 L301.0,682.6 L302.1,676.7 L303.0,664.8 L303.7,662.6 L304.7,667.8 L305.5,679.6 L306.2,700.4 L307.0,715.2 L308.0,724.1 L309.2,730.0 L309.9,735.9 L311.4,740.1 L335.1,740.1" fill="none" stroke="#111" stroke-width="1.7" stroke-linejoin="round"/>
<path d="M40.50 57.00V134.00M117.50 57.00V134.00" stroke="#111" stroke-width="1.3" fill="none"/>
<path d="M39.85 57.00H118.15M39.85 134.00H118.15" stroke="#111" stroke-width="1.8" fill="none"/>
<path d="M129.50 57.00V134.00M206.50 57.00V134.00" stroke="#111" stroke-width="1.3" fill="none"/>
<path d="M128.85 57.00H207.15M128.85 134.00H207.15" stroke="#111" stroke-width="1.8" fill="none"/>
<path d="M218.50 57.00V134.00M295.50 57.00V134.00" stroke="#111" stroke-width="1.3" fill="none"/>
<path d="M217.85 57.00H296.15M217.85 134.00H296.15" stroke="#111" stroke-width="1.8" fill="none"/>
<path d="M307.50 57.00V134.00M384.50 57.00V134.00" stroke="#111" stroke-width="1.3" fill="none"/>
<path d="M306.85 57.00H385.15M306.85 134.00H385.15" stroke="#111" stroke-width="1.8" fill="none"/>
<path d="M434.50 61.00V152.00M526.50 61.00V152.00" stroke="#111" stroke-width="1.3" fill="none"/>
<path d="M433.85 61.00H527.15M433.85 152.00H527.15" stroke="#111" stroke-width="1.8" fill="none"/>
<path d="M51.50 444.00V527.00M134.50 444.00V527.00" stroke="#111" stroke-width="1.3" fill="none"/>
<path d="M50.85 444.00H135.15M50.85 527.00H135.15" stroke="#111" stroke-width="1.8" fill="none"/>
<path d="M151.50 444.00V527.00M234.50 444.00V527.00" stroke="#111" stroke-width="1.3" fill="none"/>
<path d="M150.85 444.00H235.15M150.85 527.00H235.15" stroke="#111" stroke-width="1.8" fill="none"/>
<path d="M250.50 444.00V527.00M333.50 444.00V527.00" stroke="#111" stroke-width="1.3" fill="none"/>
<path d="M249.85 444.00H334.15M249.85 527.00H334.15" stroke="#111" stroke-width="1.8" fill="none"/>
<path d="M52.50 551.00V634.00M134.50 551.00V634.00" stroke="#111" stroke-width="1.3" fill="none"/>
<path d="M51.85 551.00H135.15M51.85 634.00H135.15" stroke="#111" stroke-width="1.8" fill="none"/>
<path d="M151.50 551.00V634.00M234.50 551.00V634.00" stroke="#111" stroke-width="1.3" fill="none"/>
<path d="M150.85 551.00H235.15M150.85 634.00H235.15" stroke="#111" stroke-width="1.8" fill="none"/>
<path d="M250.50 551.00V634.00M333.50 551.00V634.00" stroke="#111" stroke-width="1.3" fill="none"/>
<path d="M249.85 551.00H334.15M249.85 634.00H334.15" stroke="#111" stroke-width="1.8" fill="none"/>
<path d="M50.50 657.00V740.00M134.50 657.00V740.00" stroke="#111" stroke-width="1.3" fill="none"/>
<path d="M49.85 657.00H135.15M49.85 740.00H135.15" stroke="#111" stroke-width="1.8" fill="none"/>
<path d="M152.50 657.00V740.00M236.50 657.00V740.00" stroke="#111" stroke-width="1.3" fill="none"/>
<path d="M151.85 657.00H237.15M151.85 740.00H237.15" stroke="#111" stroke-width="1.8" fill="none"/>
<path d="M251.50 657.00V740.00M335.50 657.00V740.00" stroke="#111" stroke-width="1.3" fill="none"/>
<path d="M250.85 657.00H336.15M250.85 740.00H336.15" stroke="#111" stroke-width="1.8" fill="none"/>
<text x="38.1" y="135.0" font-size="4.4" fill="#1e1e1e" stroke="#1e1e1e" stroke-width="0.22" text-anchor="end">0</text>
<text x="38.1" y="120.6" font-size="4.4" fill="#1e1e1e" stroke="#1e1e1e" stroke-width="0.22" text-anchor="end">20</text>
<text x="38.1" y="106.1" font-size="4.4" fill="#1e1e1e" stroke="#1e1e1e" stroke-width="0.22" text-anchor="end">40</text>
<text x="38.1" y="91.7" font-size="4.4" fill="#1e1e1e" stroke="#1e1e1e" stroke-width="0.22" text-anchor="end">60</text>
<text x="38.1" y="77.3" font-size="4.4" fill="#1e1e1e" stroke="#1e1e1e" stroke-width="0.22" text-anchor="end">80</text>
<text x="38.1" y="62.9" font-size="4.4" fill="#1e1e1e" stroke="#1e1e1e" stroke-width="0.22" text-anchor="end">100</text>
<text x="52.2" y="139.8" font-size="4.4" fill="#1e1e1e" stroke="#1e1e1e" stroke-width="0.22" text-anchor="middle">0</text>
<text x="59.5" y="139.8" font-size="4.4" fill="#1e1e1e" stroke="#1e1e1e" stroke-width="0.22" text-anchor="middle">10²</text>
<text x="76.6" y="139.8" font-size="4.4" fill="#1e1e1e" stroke="#1e1e1e" stroke-width="0.22" text-anchor="middle">10³</text>
<text x="93.6" y="139.8" font-size="4.4" fill="#1e1e1e" stroke="#1e1e1e" stroke-width="0.22" text-anchor="middle">10⁴</text>
<text x="109.9" y="139.8" font-size="4.4" fill="#1e1e1e" stroke="#1e1e1e" stroke-width="0.22" text-anchor="middle">10⁵</text>
<text x="127.0" y="135.0" font-size="4.4" fill="#1e1e1e" stroke="#1e1e1e" stroke-width="0.22" text-anchor="end">0</text>
<text x="127.0" y="120.6" font-size="4.4" fill="#1e1e1e" stroke="#1e1e1e" stroke-width="0.22" text-anchor="end">20</text>
<text x="127.0" y="106.1" font-size="4.4" fill="#1e1e1e" stroke="#1e1e1e" stroke-width="0.22" text-anchor="end">40</text>
<text x="127.0" y="91.7" font-size="4.4" fill="#1e1e1e" stroke="#1e1e1e" stroke-width="0.22" text-anchor="end">60</text>
<text x="127.0" y="77.3" font-size="4.4" fill="#1e1e1e" stroke="#1e1e1e" stroke-width="0.22" text-anchor="end">80</text>
<text x="127.0" y="62.9" font-size="4.4" fill="#1e1e1e" stroke="#1e1e1e" stroke-width="0.22" text-anchor="end">100</text>
<text x="141.1" y="139.8" font-size="4.4" fill="#1e1e1e" stroke="#1e1e1e" stroke-width="0.22" text-anchor="middle">0</text>
<text x="148.5" y="139.8" font-size="4.4" fill="#1e1e1e" stroke="#1e1e1e" stroke-width="0.22" text-anchor="middle">10²</text>
<text x="165.6" y="139.8" font-size="4.4" fill="#1e1e1e" stroke="#1e1e1e" stroke-width="0.22" text-anchor="middle">10³</text>
<text x="182.7" y="139.8" font-size="4.4" fill="#1e1e1e" stroke="#1e1e1e" stroke-width="0.22" text-anchor="middle">10⁴</text>
<text x="199.0" y="139.8" font-size="4.4" fill="#1e1e1e" stroke="#1e1e1e" stroke-width="0.22" text-anchor="middle">10⁵</text>
<text x="215.8" y="135.0" font-size="4.4" fill="#1e1e1e" stroke="#1e1e1e" stroke-width="0.22" text-anchor="end">0</text>
<text x="215.8" y="120.6" font-size="4.4" fill="#1e1e1e" stroke="#1e1e1e" stroke-width="0.22" text-anchor="end">20</text>
<text x="215.8" y="106.1" font-size="4.4" fill="#1e1e1e" stroke="#1e1e1e" stroke-width="0.22" text-anchor="end">40</text>
<text x="215.8" y="91.7" font-size="4.4" fill="#1e1e1e" stroke="#1e1e1e" stroke-width="0.22" text-anchor="end">60</text>
<text x="215.8" y="77.3" font-size="4.4" fill="#1e1e1e" stroke="#1e1e1e" stroke-width="0.22" text-anchor="end">80</text>
<text x="215.8" y="62.9" font-size="4.4" fill="#1e1e1e" stroke="#1e1e1e" stroke-width="0.22" text-anchor="end">100</text>
<text x="229.9" y="139.8" font-size="4.4" fill="#1e1e1e" stroke="#1e1e1e" stroke-width="0.22" text-anchor="middle">0</text>
<text x="237.3" y="139.8" font-size="4.4" fill="#1e1e1e" stroke="#1e1e1e" stroke-width="0.22" text-anchor="middle">10²</text>
<text x="254.5" y="139.8" font-size="4.4" fill="#1e1e1e" stroke="#1e1e1e" stroke-width="0.22" text-anchor="middle">10³</text>
<text x="271.5" y="139.8" font-size="4.4" fill="#1e1e1e" stroke="#1e1e1e" stroke-width="0.22" text-anchor="middle">10⁴</text>
<text x="287.9" y="139.8" font-size="4.4" fill="#1e1e1e" stroke="#1e1e1e" stroke-width="0.22" text-anchor="middle">10⁵</text>
<text x="305.0" y="135.0" font-size="4.4" fill="#1e1e1e" stroke="#1e1e1e" stroke-width="0.22" text-anchor="end">0</text>
<text x="305.0" y="120.6" font-size="4.4" fill="#1e1e1e" stroke="#1e1e1e" stroke-width="0.22" text-anchor="end">20</text>
<text x="305.0" y="106.1" font-size="4.4" fill="#1e1e1e" stroke="#1e1e1e" stroke-width="0.22" text-anchor="end">40</text>
<text x="305.0" y="91.7" font-size="4.4" fill="#1e1e1e" stroke="#1e1e1e" stroke-width="0.22" text-anchor="end">60</text>
<text x="305.0" y="77.3" font-size="4.4" fill="#1e1e1e" stroke="#1e1e1e" stroke-width="0.22" text-anchor="end">80</text>
<text x="305.0" y="62.9" font-size="4.4" fill="#1e1e1e" stroke="#1e1e1e" stroke-width="0.22" text-anchor="end">100</text>
<text x="319.1" y="139.8" font-size="4.4" fill="#1e1e1e" stroke="#1e1e1e" stroke-width="0.22" text-anchor="middle">0</text>
<text x="326.4" y="139.8" font-size="4.4" fill="#1e1e1e" stroke="#1e1e1e" stroke-width="0.22" text-anchor="middle">10²</text>
<text x="343.5" y="139.8" font-size="4.4" fill="#1e1e1e" stroke="#1e1e1e" stroke-width="0.22" text-anchor="middle">10³</text>
<text x="360.5" y="139.8" font-size="4.4" fill="#1e1e1e" stroke="#1e1e1e" stroke-width="0.22" text-anchor="middle">10⁴</text>
<text x="376.8" y="139.8" font-size="4.4" fill="#1e1e1e" stroke="#1e1e1e" stroke-width="0.22" text-anchor="middle">10⁵</text>
<text x="431.9" y="153.2" font-size="4.4" fill="#1e1e1e" stroke="#1e1e1e" stroke-width="0.22" text-anchor="end">0</text>
<text x="431.9" y="135.9" font-size="4.4" fill="#1e1e1e" stroke="#1e1e1e" stroke-width="0.22" text-anchor="end">20</text>
<text x="431.9" y="118.6" font-size="4.4" fill="#1e1e1e" stroke="#1e1e1e" stroke-width="0.22" text-anchor="end">40</text>
<text x="431.9" y="101.3" font-size="4.4" fill="#1e1e1e" stroke="#1e1e1e" stroke-width="0.22" text-anchor="end">60</text>
<text x="431.9" y="84.0" font-size="4.4" fill="#1e1e1e" stroke="#1e1e1e" stroke-width="0.22" text-anchor="end">80</text>
<text x="431.9" y="66.7" font-size="4.4" fill="#1e1e1e" stroke="#1e1e1e" stroke-width="0.22" text-anchor="end">100</text>
<text x="443.2" y="158.6" font-size="4.4" fill="#1e1e1e" stroke="#1e1e1e" stroke-width="0.22" text-anchor="middle">0</text>
<text x="458.7" y="158.6" font-size="4.4" fill="#1e1e1e" stroke="#1e1e1e" stroke-width="0.22" text-anchor="middle">10²</text>
<text x="478.0" y="158.6" font-size="4.4" fill="#1e1e1e" stroke="#1e1e1e" stroke-width="0.22" text-anchor="middle">10³</text>
<text x="496.7" y="158.6" font-size="4.4" fill="#1e1e1e" stroke="#1e1e1e" stroke-width="0.22" text-anchor="middle">10⁴</text>
<text x="516.4" y="158.6" font-size="4.4" fill="#1e1e1e" stroke="#1e1e1e" stroke-width="0.22" text-anchor="middle">10⁵</text>
<text x="48.8" y="528.0" font-size="4.4" fill="#1e1e1e" stroke="#1e1e1e" stroke-width="0.22" text-anchor="end">0</text>
<text x="48.8" y="512.1" font-size="4.4" fill="#1e1e1e" stroke="#1e1e1e" stroke-width="0.22" text-anchor="end">20</text>
<text x="48.8" y="496.2" font-size="4.4" fill="#1e1e1e" stroke="#1e1e1e" stroke-width="0.22" text-anchor="end">40</text>
<text x="48.8" y="480.4" font-size="4.4" fill="#1e1e1e" stroke="#1e1e1e" stroke-width="0.22" text-anchor="end">60</text>
<text x="48.8" y="464.5" font-size="4.4" fill="#1e1e1e" stroke="#1e1e1e" stroke-width="0.22" text-anchor="end">80</text>
<text x="48.8" y="448.6" font-size="4.4" fill="#1e1e1e" stroke="#1e1e1e" stroke-width="0.22" text-anchor="end">100</text>
<text x="68.6" y="532.8" font-size="4.4" fill="#1e1e1e" stroke="#1e1e1e" stroke-width="0.22" text-anchor="middle">0</text>
<text x="75.5" y="532.8" font-size="4.4" fill="#1e1e1e" stroke="#1e1e1e" stroke-width="0.22" text-anchor="middle">10²</text>
<text x="93.4" y="532.8" font-size="4.4" fill="#1e1e1e" stroke="#1e1e1e" stroke-width="0.22" text-anchor="middle">10³</text>
<text x="110.4" y="532.8" font-size="4.4" fill="#1e1e1e" stroke="#1e1e1e" stroke-width="0.22" text-anchor="middle">10⁴</text>
<text x="127.3" y="532.8" font-size="4.4" fill="#1e1e1e" stroke="#1e1e1e" stroke-width="0.22" text-anchor="middle">10⁵</text>
<text x="149.0" y="528.0" font-size="4.4" fill="#1e1e1e" stroke="#1e1e1e" stroke-width="0.22" text-anchor="end">0</text>
<text x="149.0" y="512.1" font-size="4.4" fill="#1e1e1e" stroke="#1e1e1e" stroke-width="0.22" text-anchor="end">20</text>
<text x="149.0" y="496.2" font-size="4.4" fill="#1e1e1e" stroke="#1e1e1e" stroke-width="0.22" text-anchor="end">40</text>
<text x="149.0" y="480.4" font-size="4.4" fill="#1e1e1e" stroke="#1e1e1e" stroke-width="0.22" text-anchor="end">60</text>
<text x="149.0" y="464.5" font-size="4.4" fill="#1e1e1e" stroke="#1e1e1e" stroke-width="0.22" text-anchor="end">80</text>
<text x="149.0" y="448.6" font-size="4.4" fill="#1e1e1e" stroke="#1e1e1e" stroke-width="0.22" text-anchor="end">100</text>
<text x="168.7" y="532.8" font-size="4.4" fill="#1e1e1e" stroke="#1e1e1e" stroke-width="0.22" text-anchor="middle">0</text>
<text x="175.6" y="532.8" font-size="4.4" fill="#1e1e1e" stroke="#1e1e1e" stroke-width="0.22" text-anchor="middle">10²</text>
<text x="193.5" y="532.8" font-size="4.4" fill="#1e1e1e" stroke="#1e1e1e" stroke-width="0.22" text-anchor="middle">10³</text>
<text x="210.5" y="532.8" font-size="4.4" fill="#1e1e1e" stroke="#1e1e1e" stroke-width="0.22" text-anchor="middle">10⁴</text>
<text x="227.4" y="532.8" font-size="4.4" fill="#1e1e1e" stroke="#1e1e1e" stroke-width="0.22" text-anchor="middle">10⁵</text>
<text x="247.8" y="528.0" font-size="4.4" fill="#1e1e1e" stroke="#1e1e1e" stroke-width="0.22" text-anchor="end">0</text>
<text x="247.8" y="512.1" font-size="4.4" fill="#1e1e1e" stroke="#1e1e1e" stroke-width="0.22" text-anchor="end">20</text>
<text x="247.8" y="496.2" font-size="4.4" fill="#1e1e1e" stroke="#1e1e1e" stroke-width="0.22" text-anchor="end">40</text>
<text x="247.8" y="480.4" font-size="4.4" fill="#1e1e1e" stroke="#1e1e1e" stroke-width="0.22" text-anchor="end">60</text>
<text x="247.8" y="464.5" font-size="4.4" fill="#1e1e1e" stroke="#1e1e1e" stroke-width="0.22" text-anchor="end">80</text>
<text x="247.8" y="448.6" font-size="4.4" fill="#1e1e1e" stroke="#1e1e1e" stroke-width="0.22" text-anchor="end">100</text>
<text x="267.6" y="532.8" font-size="4.4" fill="#1e1e1e" stroke="#1e1e1e" stroke-width="0.22" text-anchor="middle">0</text>
<text x="274.4" y="532.8" font-size="4.4" fill="#1e1e1e" stroke="#1e1e1e" stroke-width="0.22" text-anchor="middle">10²</text>
<text x="292.3" y="532.8" font-size="4.4" fill="#1e1e1e" stroke="#1e1e1e" stroke-width="0.22" text-anchor="middle">10³</text>
<text x="309.3" y="532.8" font-size="4.4" fill="#1e1e1e" stroke="#1e1e1e" stroke-width="0.22" text-anchor="middle">10⁴</text>
<text x="326.3" y="532.8" font-size="4.4" fill="#1e1e1e" stroke="#1e1e1e" stroke-width="0.22" text-anchor="middle">10⁵</text>
<text x="49.6" y="635.6" font-size="4.4" fill="#1e1e1e" stroke="#1e1e1e" stroke-width="0.22" text-anchor="end">0</text>
<text x="49.6" y="619.6" font-size="4.4" fill="#1e1e1e" stroke="#1e1e1e" stroke-width="0.22" text-anchor="end">20</text>
<text x="49.6" y="603.6" font-size="4.4" fill="#1e1e1e" stroke="#1e1e1e" stroke-width="0.22" text-anchor="end">40</text>
<text x="49.6" y="587.6" font-size="4.4" fill="#1e1e1e" stroke="#1e1e1e" stroke-width="0.22" text-anchor="end">60</text>
<text x="49.6" y="571.6" font-size="4.4" fill="#1e1e1e" stroke="#1e1e1e" stroke-width="0.22" text-anchor="end">80</text>
<text x="49.6" y="555.6" font-size="4.4" fill="#1e1e1e" stroke="#1e1e1e" stroke-width="0.22" text-anchor="end">100</text>
<text x="69.2" y="640.4" font-size="4.4" fill="#1e1e1e" stroke="#1e1e1e" stroke-width="0.22" text-anchor="middle">0</text>
<text x="76.0" y="640.4" font-size="4.4" fill="#1e1e1e" stroke="#1e1e1e" stroke-width="0.22" text-anchor="middle">10²</text>
<text x="93.8" y="640.4" font-size="4.4" fill="#1e1e1e" stroke="#1e1e1e" stroke-width="0.22" text-anchor="middle">10³</text>
<text x="110.6" y="640.4" font-size="4.4" fill="#1e1e1e" stroke="#1e1e1e" stroke-width="0.22" text-anchor="middle">10⁴</text>
<text x="127.4" y="640.4" font-size="4.4" fill="#1e1e1e" stroke="#1e1e1e" stroke-width="0.22" text-anchor="middle">10⁵</text>
<text x="149.2" y="635.6" font-size="4.4" fill="#1e1e1e" stroke="#1e1e1e" stroke-width="0.22" text-anchor="end">0</text>
<text x="149.2" y="619.6" font-size="4.4" fill="#1e1e1e" stroke="#1e1e1e" stroke-width="0.22" text-anchor="end">20</text>
<text x="149.2" y="603.6" font-size="4.4" fill="#1e1e1e" stroke="#1e1e1e" stroke-width="0.22" text-anchor="end">40</text>
<text x="149.2" y="587.6" font-size="4.4" fill="#1e1e1e" stroke="#1e1e1e" stroke-width="0.22" text-anchor="end">60</text>
<text x="149.2" y="571.6" font-size="4.4" fill="#1e1e1e" stroke="#1e1e1e" stroke-width="0.22" text-anchor="end">80</text>
<text x="149.2" y="555.6" font-size="4.4" fill="#1e1e1e" stroke="#1e1e1e" stroke-width="0.22" text-anchor="end">100</text>
<text x="168.9" y="640.4" font-size="4.4" fill="#1e1e1e" stroke="#1e1e1e" stroke-width="0.22" text-anchor="middle">0</text>
<text x="175.8" y="640.4" font-size="4.4" fill="#1e1e1e" stroke="#1e1e1e" stroke-width="0.22" text-anchor="middle">10²</text>
<text x="193.6" y="640.4" font-size="4.4" fill="#1e1e1e" stroke="#1e1e1e" stroke-width="0.22" text-anchor="middle">10³</text>
<text x="210.5" y="640.4" font-size="4.4" fill="#1e1e1e" stroke="#1e1e1e" stroke-width="0.22" text-anchor="middle">10⁴</text>
<text x="227.4" y="640.4" font-size="4.4" fill="#1e1e1e" stroke="#1e1e1e" stroke-width="0.22" text-anchor="middle">10⁵</text>
<text x="248.1" y="635.6" font-size="4.4" fill="#1e1e1e" stroke="#1e1e1e" stroke-width="0.22" text-anchor="end">0</text>
<text x="248.1" y="619.6" font-size="4.4" fill="#1e1e1e" stroke="#1e1e1e" stroke-width="0.22" text-anchor="end">20</text>
<text x="248.1" y="603.6" font-size="4.4" fill="#1e1e1e" stroke="#1e1e1e" stroke-width="0.22" text-anchor="end">40</text>
<text x="248.1" y="587.6" font-size="4.4" fill="#1e1e1e" stroke="#1e1e1e" stroke-width="0.22" text-anchor="end">60</text>
<text x="248.1" y="571.6" font-size="4.4" fill="#1e1e1e" stroke="#1e1e1e" stroke-width="0.22" text-anchor="end">80</text>
<text x="248.1" y="555.6" font-size="4.4" fill="#1e1e1e" stroke="#1e1e1e" stroke-width="0.22" text-anchor="end">100</text>
<text x="267.8" y="640.4" font-size="4.4" fill="#1e1e1e" stroke="#1e1e1e" stroke-width="0.22" text-anchor="middle">0</text>
<text x="274.7" y="640.4" font-size="4.4" fill="#1e1e1e" stroke="#1e1e1e" stroke-width="0.22" text-anchor="middle">10²</text>
<text x="292.6" y="640.4" font-size="4.4" fill="#1e1e1e" stroke="#1e1e1e" stroke-width="0.22" text-anchor="middle">10³</text>
<text x="309.6" y="640.4" font-size="4.4" fill="#1e1e1e" stroke="#1e1e1e" stroke-width="0.22" text-anchor="middle">10⁴</text>
<text x="326.5" y="640.4" font-size="4.4" fill="#1e1e1e" stroke="#1e1e1e" stroke-width="0.22" text-anchor="middle">10⁵</text>
<text x="48.1" y="741.9" font-size="4.4" fill="#1e1e1e" stroke="#1e1e1e" stroke-width="0.22" text-anchor="end">0</text>
<text x="48.1" y="725.8" font-size="4.4" fill="#1e1e1e" stroke="#1e1e1e" stroke-width="0.22" text-anchor="end">20</text>
<text x="48.1" y="709.8" font-size="4.4" fill="#1e1e1e" stroke="#1e1e1e" stroke-width="0.22" text-anchor="end">40</text>
<text x="48.1" y="693.7" font-size="4.4" fill="#1e1e1e" stroke="#1e1e1e" stroke-width="0.22" text-anchor="end">60</text>
<text x="48.1" y="677.7" font-size="4.4" fill="#1e1e1e" stroke="#1e1e1e" stroke-width="0.22" text-anchor="end">80</text>
<text x="48.1" y="661.6" font-size="4.4" fill="#1e1e1e" stroke="#1e1e1e" stroke-width="0.22" text-anchor="end">100</text>
<text x="68.0" y="746.7" font-size="4.4" fill="#1e1e1e" stroke="#1e1e1e" stroke-width="0.22" text-anchor="middle">0</text>
<text x="75.0" y="746.7" font-size="4.4" fill="#1e1e1e" stroke="#1e1e1e" stroke-width="0.22" text-anchor="middle">10²</text>
<text x="93.1" y="746.7" font-size="4.4" fill="#1e1e1e" stroke="#1e1e1e" stroke-width="0.22" text-anchor="middle">10³</text>
<text x="110.2" y="746.7" font-size="4.4" fill="#1e1e1e" stroke="#1e1e1e" stroke-width="0.22" text-anchor="middle">10⁴</text>
<text x="127.3" y="746.7" font-size="4.4" fill="#1e1e1e" stroke="#1e1e1e" stroke-width="0.22" text-anchor="middle">10⁵</text>
<text x="150.3" y="741.9" font-size="4.4" fill="#1e1e1e" stroke="#1e1e1e" stroke-width="0.22" text-anchor="end">0</text>
<text x="150.3" y="725.8" font-size="4.4" fill="#1e1e1e" stroke="#1e1e1e" stroke-width="0.22" text-anchor="end">20</text>
<text x="150.3" y="709.8" font-size="4.4" fill="#1e1e1e" stroke="#1e1e1e" stroke-width="0.22" text-anchor="end">40</text>
<text x="150.3" y="693.7" font-size="4.4" fill="#1e1e1e" stroke="#1e1e1e" stroke-width="0.22" text-anchor="end">60</text>
<text x="150.3" y="677.7" font-size="4.4" fill="#1e1e1e" stroke="#1e1e1e" stroke-width="0.22" text-anchor="end">80</text>
<text x="150.3" y="661.6" font-size="4.4" fill="#1e1e1e" stroke="#1e1e1e" stroke-width="0.22" text-anchor="end">100</text>
<text x="170.3" y="746.7" font-size="4.4" fill="#1e1e1e" stroke="#1e1e1e" stroke-width="0.22" text-anchor="middle">0</text>
<text x="177.3" y="746.7" font-size="4.4" fill="#1e1e1e" stroke="#1e1e1e" stroke-width="0.22" text-anchor="middle">10²</text>
<text x="195.4" y="746.7" font-size="4.4" fill="#1e1e1e" stroke="#1e1e1e" stroke-width="0.22" text-anchor="middle">10³</text>
<text x="212.6" y="746.7" font-size="4.4" fill="#1e1e1e" stroke="#1e1e1e" stroke-width="0.22" text-anchor="middle">10⁴</text>
<text x="229.8" y="746.7" font-size="4.4" fill="#1e1e1e" stroke="#1e1e1e" stroke-width="0.22" text-anchor="middle">10⁵</text>
<text x="249.2" y="741.9" font-size="4.4" fill="#1e1e1e" stroke="#1e1e1e" stroke-width="0.22" text-anchor="end">0</text>
<text x="249.2" y="725.8" font-size="4.4" fill="#1e1e1e" stroke="#1e1e1e" stroke-width="0.22" text-anchor="end">20</text>
<text x="249.2" y="709.8" font-size="4.4" fill="#1e1e1e" stroke="#1e1e1e" stroke-width="0.22" text-anchor="end">40</text>
<text x="249.2" y="693.7" font-size="4.4" fill="#1e1e1e" stroke="#1e1e1e" stroke-width="0.22" text-anchor="end">60</text>
<text x="249.2" y="677.7" font-size="4.4" fill="#1e1e1e" stroke="#1e1e1e" stroke-width="0.22" text-anchor="end">80</text>
<text x="249.2" y="661.6" font-size="4.4" fill="#1e1e1e" stroke="#1e1e1e" stroke-width="0.22" text-anchor="end">100</text>
<text x="269.2" y="746.7" font-size="4.4" fill="#1e1e1e" stroke="#1e1e1e" stroke-width="0.22" text-anchor="middle">0</text>
<text x="276.2" y="746.7" font-size="4.4" fill="#1e1e1e" stroke="#1e1e1e" stroke-width="0.22" text-anchor="middle">10²</text>
<text x="294.3" y="746.7" font-size="4.4" fill="#1e1e1e" stroke="#1e1e1e" stroke-width="0.22" text-anchor="middle">10³</text>
<text x="311.5" y="746.7" font-size="4.4" fill="#1e1e1e" stroke="#1e1e1e" stroke-width="0.22" text-anchor="middle">10⁴</text>
<text x="328.7" y="746.7" font-size="4.4" fill="#1e1e1e" stroke="#1e1e1e" stroke-width="0.22" text-anchor="middle">10⁵</text>
<text x="37.1" y="198.3" font-size="3.6" fill="#1e1e1e" stroke="#1e1e1e" stroke-width="0.22" text-anchor="end">10⁵</text>
<text x="37.1" y="215.5" font-size="3.6" fill="#1e1e1e" stroke="#1e1e1e" stroke-width="0.22" text-anchor="end">10⁴</text>
<text x="37.1" y="233.9" font-size="3.6" fill="#1e1e1e" stroke="#1e1e1e" stroke-width="0.22" text-anchor="end">10³</text>
<text x="37.1" y="256.1" font-size="3.6" fill="#1e1e1e" stroke="#1e1e1e" stroke-width="0.22" text-anchor="end">0</text>
<text x="53.1" y="271.8" font-size="3.6" fill="#1e1e1e" stroke="#1e1e1e" stroke-width="0.22" text-anchor="middle">0</text>
<text x="70.6" y="271.8" font-size="3.6" fill="#1e1e1e" stroke="#1e1e1e" stroke-width="0.22" text-anchor="middle">10³</text>
<text x="90.5" y="271.8" font-size="3.6" fill="#1e1e1e" stroke="#1e1e1e" stroke-width="0.22" text-anchor="middle">10⁴</text>
<text x="107.3" y="271.8" font-size="3.6" fill="#1e1e1e" stroke="#1e1e1e" stroke-width="0.22" text-anchor="middle">10⁵</text>
<text x="129.2" y="198.3" font-size="3.6" fill="#1e1e1e" stroke="#1e1e1e" stroke-width="0.22" text-anchor="end">10⁵</text>
<text x="129.2" y="215.5" font-size="3.6" fill="#1e1e1e" stroke="#1e1e1e" stroke-width="0.22" text-anchor="end">10⁴</text>
<text x="129.2" y="233.9" font-size="3.6" fill="#1e1e1e" stroke="#1e1e1e" stroke-width="0.22" text-anchor="end">10³</text>
<text x="129.2" y="256.1" font-size="3.6" fill="#1e1e1e" stroke="#1e1e1e" stroke-width="0.22" text-anchor="end">0</text>
<text x="145.2" y="271.8" font-size="3.6" fill="#1e1e1e" stroke="#1e1e1e" stroke-width="0.22" text-anchor="middle">0</text>
<text x="162.7" y="271.8" font-size="3.6" fill="#1e1e1e" stroke="#1e1e1e" stroke-width="0.22" text-anchor="middle">10³</text>
<text x="182.5" y="271.8" font-size="3.6" fill="#1e1e1e" stroke="#1e1e1e" stroke-width="0.22" text-anchor="middle">10⁴</text>
<text x="199.4" y="271.8" font-size="3.6" fill="#1e1e1e" stroke="#1e1e1e" stroke-width="0.22" text-anchor="middle">10⁵</text>
<text x="221.6" y="198.3" font-size="3.6" fill="#1e1e1e" stroke="#1e1e1e" stroke-width="0.22" text-anchor="end">10⁵</text>
<text x="221.6" y="215.5" font-size="3.6" fill="#1e1e1e" stroke="#1e1e1e" stroke-width="0.22" text-anchor="end">10⁴</text>
<text x="221.6" y="233.9" font-size="3.6" fill="#1e1e1e" stroke="#1e1e1e" stroke-width="0.22" text-anchor="end">10³</text>
<text x="221.6" y="256.1" font-size="3.6" fill="#1e1e1e" stroke="#1e1e1e" stroke-width="0.22" text-anchor="end">0</text>
<text x="237.5" y="271.8" font-size="3.6" fill="#1e1e1e" stroke="#1e1e1e" stroke-width="0.22" text-anchor="middle">0</text>
<text x="255.0" y="271.8" font-size="3.6" fill="#1e1e1e" stroke="#1e1e1e" stroke-width="0.22" text-anchor="middle">10³</text>
<text x="274.8" y="271.8" font-size="3.6" fill="#1e1e1e" stroke="#1e1e1e" stroke-width="0.22" text-anchor="middle">10⁴</text>
<text x="291.6" y="271.8" font-size="3.6" fill="#1e1e1e" stroke="#1e1e1e" stroke-width="0.22" text-anchor="middle">10⁵</text>
<text x="312.5" y="198.3" font-size="3.6" fill="#1e1e1e" stroke="#1e1e1e" stroke-width="0.22" text-anchor="end">10⁵</text>
<text x="312.5" y="215.5" font-size="3.6" fill="#1e1e1e" stroke="#1e1e1e" stroke-width="0.22" text-anchor="end">10⁴</text>
<text x="312.5" y="233.9" font-size="3.6" fill="#1e1e1e" stroke="#1e1e1e" stroke-width="0.22" text-anchor="end">10³</text>
<text x="312.5" y="256.1" font-size="3.6" fill="#1e1e1e" stroke="#1e1e1e" stroke-width="0.22" text-anchor="end">0</text>
<text x="328.5" y="271.8" font-size="3.6" fill="#1e1e1e" stroke="#1e1e1e" stroke-width="0.22" text-anchor="middle">0</text>
<text x="345.9" y="271.8" font-size="3.6" fill="#1e1e1e" stroke="#1e1e1e" stroke-width="0.22" text-anchor="middle">10³</text>
<text x="365.7" y="271.8" font-size="3.6" fill="#1e1e1e" stroke="#1e1e1e" stroke-width="0.22" text-anchor="middle">10⁴</text>
<text x="382.6" y="271.8" font-size="3.6" fill="#1e1e1e" stroke="#1e1e1e" stroke-width="0.22" text-anchor="middle">10⁵</text>
<text x="37.1" y="288.2" font-size="3.6" fill="#1e1e1e" stroke="#1e1e1e" stroke-width="0.22" text-anchor="end">10⁵</text>
<text x="37.1" y="305.3" font-size="3.6" fill="#1e1e1e" stroke="#1e1e1e" stroke-width="0.22" text-anchor="end">10⁴</text>
<text x="37.1" y="323.8" font-size="3.6" fill="#1e1e1e" stroke="#1e1e1e" stroke-width="0.22" text-anchor="end">10³</text>
<text x="37.1" y="346.1" font-size="3.6" fill="#1e1e1e" stroke="#1e1e1e" stroke-width="0.22" text-anchor="end">0</text>
<text x="53.1" y="361.8" font-size="3.6" fill="#1e1e1e" stroke="#1e1e1e" stroke-width="0.22" text-anchor="middle">0</text>
<text x="70.6" y="361.8" font-size="3.6" fill="#1e1e1e" stroke="#1e1e1e" stroke-width="0.22" text-anchor="middle">10³</text>
<text x="90.5" y="361.8" font-size="3.6" fill="#1e1e1e" stroke="#1e1e1e" stroke-width="0.22" text-anchor="middle">10⁴</text>
<text x="107.3" y="361.8" font-size="3.6" fill="#1e1e1e" stroke="#1e1e1e" stroke-width="0.22" text-anchor="middle">10⁵</text>
<text x="129.2" y="288.2" font-size="3.6" fill="#1e1e1e" stroke="#1e1e1e" stroke-width="0.22" text-anchor="end">10⁵</text>
<text x="129.2" y="305.3" font-size="3.6" fill="#1e1e1e" stroke="#1e1e1e" stroke-width="0.22" text-anchor="end">10⁴</text>
<text x="129.2" y="323.8" font-size="3.6" fill="#1e1e1e" stroke="#1e1e1e" stroke-width="0.22" text-anchor="end">10³</text>
<text x="129.2" y="346.1" font-size="3.6" fill="#1e1e1e" stroke="#1e1e1e" stroke-width="0.22" text-anchor="end">0</text>
<text x="145.2" y="361.8" font-size="3.6" fill="#1e1e1e" stroke="#1e1e1e" stroke-width="0.22" text-anchor="middle">0</text>
<text x="162.7" y="361.8" font-size="3.6" fill="#1e1e1e" stroke="#1e1e1e" stroke-width="0.22" text-anchor="middle">10³</text>
<text x="182.5" y="361.8" font-size="3.6" fill="#1e1e1e" stroke="#1e1e1e" stroke-width="0.22" text-anchor="middle">10⁴</text>
<text x="199.4" y="361.8" font-size="3.6" fill="#1e1e1e" stroke="#1e1e1e" stroke-width="0.22" text-anchor="middle">10⁵</text>
<text x="221.6" y="288.2" font-size="3.6" fill="#1e1e1e" stroke="#1e1e1e" stroke-width="0.22" text-anchor="end">10⁵</text>
<text x="221.6" y="305.3" font-size="3.6" fill="#1e1e1e" stroke="#1e1e1e" stroke-width="0.22" text-anchor="end">10⁴</text>
<text x="221.6" y="323.8" font-size="3.6" fill="#1e1e1e" stroke="#1e1e1e" stroke-width="0.22" text-anchor="end">10³</text>
<text x="221.6" y="346.1" font-size="3.6" fill="#1e1e1e" stroke="#1e1e1e" stroke-width="0.22" text-anchor="end">0</text>
<text x="237.5" y="361.8" font-size="3.6" fill="#1e1e1e" stroke="#1e1e1e" stroke-width="0.22" text-anchor="middle">0</text>
<text x="255.0" y="361.8" font-size="3.6" fill="#1e1e1e" stroke="#1e1e1e" stroke-width="0.22" text-anchor="middle">10³</text>
<text x="274.8" y="361.8" font-size="3.6" fill="#1e1e1e" stroke="#1e1e1e" stroke-width="0.22" text-anchor="middle">10⁴</text>
<text x="291.6" y="361.8" font-size="3.6" fill="#1e1e1e" stroke="#1e1e1e" stroke-width="0.22" text-anchor="middle">10⁵</text>
<text x="312.5" y="288.2" font-size="3.6" fill="#1e1e1e" stroke="#1e1e1e" stroke-width="0.22" text-anchor="end">10⁵</text>
<text x="312.5" y="305.3" font-size="3.6" fill="#1e1e1e" stroke="#1e1e1e" stroke-width="0.22" text-anchor="end">10⁴</text>
<text x="312.5" y="323.8" font-size="3.6" fill="#1e1e1e" stroke="#1e1e1e" stroke-width="0.22" text-anchor="end">10³</text>
<text x="312.5" y="346.1" font-size="3.6" fill="#1e1e1e" stroke="#1e1e1e" stroke-width="0.22" text-anchor="end">0</text>
<text x="328.5" y="361.8" font-size="3.6" fill="#1e1e1e" stroke="#1e1e1e" stroke-width="0.22" text-anchor="middle">0</text>
<text x="345.9" y="361.8" font-size="3.6" fill="#1e1e1e" stroke="#1e1e1e" stroke-width="0.22" text-anchor="middle">10³</text>
<text x="365.7" y="361.8" font-size="3.6" fill="#1e1e1e" stroke="#1e1e1e" stroke-width="0.22" text-anchor="middle">10⁴</text>
<text x="382.6" y="361.8" font-size="3.6" fill="#1e1e1e" stroke="#1e1e1e" stroke-width="0.22" text-anchor="middle">10⁵</text>
<text x="433.7" y="450.3" font-size="4" fill="#1e1e1e" stroke="#1e1e1e" stroke-width="0.22" text-anchor="end">10⁵</text>
<text x="433.7" y="471.8" font-size="4" fill="#1e1e1e" stroke="#1e1e1e" stroke-width="0.22" text-anchor="end">10⁴</text>
<text x="433.7" y="492.4" font-size="4" fill="#1e1e1e" stroke="#1e1e1e" stroke-width="0.22" text-anchor="end">10³</text>
<text x="433.7" y="513.9" font-size="4" fill="#1e1e1e" stroke="#1e1e1e" stroke-width="0.22" text-anchor="end">10²</text>
<text x="433.7" y="530.1" font-size="4" fill="#1e1e1e" stroke="#1e1e1e" stroke-width="0.22" text-anchor="end">0</text>
<text x="441.1" y="539.5" font-size="4" fill="#1e1e1e" stroke="#1e1e1e" stroke-width="0.22" text-anchor="middle">0</text>
<text x="457.2" y="539.5" font-size="4" fill="#1e1e1e" stroke="#1e1e1e" stroke-width="0.22" text-anchor="middle">10²</text>
<text x="477.8" y="539.5" font-size="4" fill="#1e1e1e" stroke="#1e1e1e" stroke-width="0.22" text-anchor="middle">10³</text>
<text x="499.1" y="539.5" font-size="4" fill="#1e1e1e" stroke="#1e1e1e" stroke-width="0.22" text-anchor="middle">10⁴</text>
<text x="519.5" y="539.5" font-size="4" fill="#1e1e1e" stroke="#1e1e1e" stroke-width="0.22" text-anchor="middle">10⁵</text>
<text x="544.3" y="450.3" font-size="4" fill="#1e1e1e" stroke="#1e1e1e" stroke-width="0.22" text-anchor="end">10⁵</text>
<text x="544.3" y="471.8" font-size="4" fill="#1e1e1e" stroke="#1e1e1e" stroke-width="0.22" text-anchor="end">10⁴</text>
<text x="544.3" y="492.4" font-size="4" fill="#1e1e1e" stroke="#1e1e1e" stroke-width="0.22" text-anchor="end">10³</text>
<text x="544.3" y="513.9" font-size="4" fill="#1e1e1e" stroke="#1e1e1e" stroke-width="0.22" text-anchor="end">10²</text>
<text x="544.3" y="530.1" font-size="4" fill="#1e1e1e" stroke="#1e1e1e" stroke-width="0.22" text-anchor="end">0</text>
<text x="551.7" y="539.5" font-size="4" fill="#1e1e1e" stroke="#1e1e1e" stroke-width="0.22" text-anchor="middle">0</text>
<text x="567.8" y="539.5" font-size="4" fill="#1e1e1e" stroke="#1e1e1e" stroke-width="0.22" text-anchor="middle">10²</text>
<text x="588.3" y="539.5" font-size="4" fill="#1e1e1e" stroke="#1e1e1e" stroke-width="0.22" text-anchor="middle">10³</text>
<text x="609.5" y="539.5" font-size="4" fill="#1e1e1e" stroke="#1e1e1e" stroke-width="0.22" text-anchor="middle">10⁴</text>
<text x="629.9" y="539.5" font-size="4" fill="#1e1e1e" stroke="#1e1e1e" stroke-width="0.22" text-anchor="middle">10⁵</text>
<text x="432.9" y="609.0" font-size="4" fill="#1e1e1e" stroke="#1e1e1e" stroke-width="0.22" text-anchor="end">10⁵</text>
<text x="432.9" y="630.6" font-size="4" fill="#1e1e1e" stroke="#1e1e1e" stroke-width="0.22" text-anchor="end">10⁴</text>
<text x="432.9" y="651.3" font-size="4" fill="#1e1e1e" stroke="#1e1e1e" stroke-width="0.22" text-anchor="end">10³</text>
<text x="432.9" y="672.9" font-size="4" fill="#1e1e1e" stroke="#1e1e1e" stroke-width="0.22" text-anchor="end">10²</text>
<text x="432.9" y="689.2" font-size="4" fill="#1e1e1e" stroke="#1e1e1e" stroke-width="0.22" text-anchor="end">0</text>
<text x="440.3" y="698.6" font-size="4" fill="#1e1e1e" stroke="#1e1e1e" stroke-width="0.22" text-anchor="middle">0</text>
<text x="456.4" y="698.6" font-size="4" fill="#1e1e1e" stroke="#1e1e1e" stroke-width="0.22" text-anchor="middle">10²</text>
<text x="477.0" y="698.6" font-size="4" fill="#1e1e1e" stroke="#1e1e1e" stroke-width="0.22" text-anchor="middle">10³</text>
<text x="498.3" y="698.6" font-size="4" fill="#1e1e1e" stroke="#1e1e1e" stroke-width="0.22" text-anchor="middle">10⁴</text>
<text x="518.8" y="698.6" font-size="4" fill="#1e1e1e" stroke="#1e1e1e" stroke-width="0.22" text-anchor="middle">10⁵</text>
<text x="543.6" y="609.0" font-size="4" fill="#1e1e1e" stroke="#1e1e1e" stroke-width="0.22" text-anchor="end">10⁵</text>
<text x="543.6" y="630.6" font-size="4" fill="#1e1e1e" stroke="#1e1e1e" stroke-width="0.22" text-anchor="end">10⁴</text>
<text x="543.6" y="651.3" font-size="4" fill="#1e1e1e" stroke="#1e1e1e" stroke-width="0.22" text-anchor="end">10³</text>
<text x="543.6" y="672.9" font-size="4" fill="#1e1e1e" stroke="#1e1e1e" stroke-width="0.22" text-anchor="end">10²</text>
<text x="543.6" y="689.2" font-size="4" fill="#1e1e1e" stroke="#1e1e1e" stroke-width="0.22" text-anchor="end">0</text>
<text x="551.0" y="698.6" font-size="4" fill="#1e1e1e" stroke="#1e1e1e" stroke-width="0.22" text-anchor="middle">0</text>
<text x="567.1" y="698.6" font-size="4" fill="#1e1e1e" stroke="#1e1e1e" stroke-width="0.22" text-anchor="middle">10²</text>
<text x="587.6" y="698.6" font-size="4" fill="#1e1e1e" stroke="#1e1e1e" stroke-width="0.22" text-anchor="middle">10³</text>
<text x="608.8" y="698.6" font-size="4" fill="#1e1e1e" stroke="#1e1e1e" stroke-width="0.22" text-anchor="middle">10⁴</text>
<text x="629.2" y="698.6" font-size="4" fill="#1e1e1e" stroke="#1e1e1e" stroke-width="0.22" text-anchor="middle">10⁵</text>
<path d="M38.7 133.6L40.7 133.6M38.7 119.2L40.7 119.2M38.7 104.7L40.7 104.7M38.7 90.3L40.7 90.3M38.7 75.9L40.7 75.9M38.7 61.5L40.7 61.5M52.2 133.6L52.2 135.2M59.5 133.6L59.5 135.2M76.6 133.6L76.6 135.2M93.6 133.6L93.6 135.2M109.9 133.6L109.9 135.2M127.6 133.6L129.6 133.6M127.6 119.2L129.6 119.2M127.6 104.7L129.6 104.7M127.6 90.3L129.6 90.3M127.6 75.9L129.6 75.9M127.6 61.5L129.6 61.5M141.1 133.6L141.1 135.2M148.5 133.6L148.5 135.2M165.6 133.6L165.6 135.2M182.7 133.6L182.7 135.2M199.0 133.6L199.0 135.2M216.4 133.6L218.4 133.6M216.4 119.2L218.4 119.2M216.4 104.7L218.4 104.7M216.4 90.3L218.4 90.3M216.4 75.9L218.4 75.9M216.4 61.5L218.4 61.5M229.9 133.6L229.9 135.2M237.3 133.6L237.3 135.2M254.5 133.6L254.5 135.2M271.5 133.6L271.5 135.2M287.9 133.6L287.9 135.2M305.6 133.6L307.6 133.6M305.6 119.2L307.6 119.2M305.6 104.7L307.6 104.7M305.6 90.3L307.6 90.3M305.6 75.9L307.6 75.9M305.6 61.5L307.6 61.5M319.1 133.6L319.1 135.2M326.4 133.6L326.4 135.2M343.5 133.6L343.5 135.2M360.5 133.6L360.5 135.2M376.8 133.6L376.8 135.2M432.5 151.8L434.5 151.8M432.5 134.5L434.5 134.5M432.5 117.2L434.5 117.2M432.5 99.9L434.5 99.9M432.5 82.6L434.5 82.6M432.5 65.3L434.5 65.3M443.2 151.8L443.2 153.4M458.7 151.8L458.7 153.4M478.0 151.8L478.0 153.4M496.7 151.8L496.7 153.4M516.4 151.8L516.4 153.4M49.4 526.6L51.4 526.6M49.4 510.7L51.4 510.7M49.4 494.8L51.4 494.8M49.4 479.0L51.4 479.0M49.4 463.1L51.4 463.1M49.4 447.2L51.4 447.2M68.6 526.6L68.6 528.2M75.5 526.6L75.5 528.2M93.4 526.6L93.4 528.2M110.4 526.6L110.4 528.2M127.3 526.6L127.3 528.2M149.6 526.6L151.6 526.6M149.6 510.7L151.6 510.7M149.6 494.8L151.6 494.8M149.6 479.0L151.6 479.0M149.6 463.1L151.6 463.1M149.6 447.2L151.6 447.2M168.7 526.6L168.7 528.2M175.6 526.6L175.6 528.2M193.5 526.6L193.5 528.2M210.5 526.6L210.5 528.2M227.4 526.6L227.4 528.2M248.4 526.6L250.4 526.6M248.4 510.7L250.4 510.7M248.4 494.8L250.4 494.8M248.4 479.0L250.4 479.0M248.4 463.1L250.4 463.1M248.4 447.2L250.4 447.2M267.6 526.6L267.6 528.2M274.4 526.6L274.4 528.2M292.3 526.6L292.3 528.2M309.3 526.6L309.3 528.2M326.3 526.6L326.3 528.2M50.2 634.2L52.2 634.2M50.2 618.2L52.2 618.2M50.2 602.2L52.2 602.2M50.2 586.2L52.2 586.2M50.2 570.2L52.2 570.2M50.2 554.2L52.2 554.2M69.2 634.2L69.2 635.8M76.0 634.2L76.0 635.8M93.8 634.2L93.8 635.8M110.6 634.2L110.6 635.8M127.4 634.2L127.4 635.8M149.8 634.2L151.8 634.2M149.8 618.2L151.8 618.2M149.8 602.2L151.8 602.2M149.8 586.2L151.8 586.2M149.8 570.2L151.8 570.2M149.8 554.2L151.8 554.2M168.9 634.2L168.9 635.8M175.8 634.2L175.8 635.8M193.6 634.2L193.6 635.8M210.5 634.2L210.5 635.8M227.4 634.2L227.4 635.8M248.7 634.2L250.7 634.2M248.7 618.2L250.7 618.2M248.7 602.2L250.7 602.2M248.7 586.2L250.7 586.2M248.7 570.2L250.7 570.2M248.7 554.2L250.7 554.2M267.8 634.2L267.8 635.8M274.7 634.2L274.7 635.8M292.6 634.2L292.6 635.8M309.6 634.2L309.6 635.8M326.5 634.2L326.5 635.8M48.7 740.5L50.7 740.5M48.7 724.4L50.7 724.4M48.7 708.4L50.7 708.4M48.7 692.3L50.7 692.3M48.7 676.3L50.7 676.3M48.7 660.2L50.7 660.2M68.0 740.5L68.0 742.1M75.0 740.5L75.0 742.1M93.1 740.5L93.1 742.1M110.2 740.5L110.2 742.1M127.3 740.5L127.3 742.1M150.9 740.5L152.9 740.5M150.9 724.4L152.9 724.4M150.9 708.4L152.9 708.4M150.9 692.3L152.9 692.3M150.9 676.3L152.9 676.3M150.9 660.2L152.9 660.2M170.3 740.5L170.3 742.1M177.3 740.5L177.3 742.1M195.4 740.5L195.4 742.1M212.6 740.5L212.6 742.1M229.8 740.5L229.8 742.1M249.8 740.5L251.8 740.5M249.8 724.4L251.8 724.4M249.8 708.4L251.8 708.4M249.8 692.3L251.8 692.3M249.8 676.3L251.8 676.3M249.8 660.2L251.8 660.2M269.2 740.5L269.2 742.1M276.2 740.5L276.2 742.1M294.3 740.5L294.3 742.1M311.5 740.5L311.5 742.1M328.7 740.5L328.7 742.1M37.7 197.0L39.5 197.0M37.7 214.2L39.5 214.2M37.7 232.6L39.5 232.6M37.7 254.8L39.5 254.8M53.1 266.0L53.1 267.6M70.6 266.0L70.6 267.6M90.5 266.0L90.5 267.6M107.3 266.0L107.3 267.6M129.8 197.0L131.6 197.0M129.8 214.2L131.6 214.2M129.8 232.6L131.6 232.6M129.8 254.8L131.6 254.8M145.2 266.0L145.2 267.6M162.7 266.0L162.7 267.6M182.5 266.0L182.5 267.6M199.4 266.0L199.4 267.6M222.2 197.0L224.0 197.0M222.2 214.2L224.0 214.2M222.2 232.6L224.0 232.6M222.2 254.8L224.0 254.8M237.5 266.0L237.5 267.6M255.0 266.0L255.0 267.6M274.8 266.0L274.8 267.6M291.6 266.0L291.6 267.6M313.1 197.0L314.9 197.0M313.1 214.2L314.9 214.2M313.1 232.6L314.9 232.6M313.1 254.8L314.9 254.8M328.5 266.0L328.5 267.6M345.9 266.0L345.9 267.6M365.7 266.0L365.7 267.6M382.6 266.0L382.6 267.6M37.7 286.9L39.5 286.9M37.7 304.0L39.5 304.0M37.7 322.5L39.5 322.5M37.7 344.8L39.5 344.8M53.1 356.0L53.1 357.6M70.6 356.0L70.6 357.6M90.5 356.0L90.5 357.6M107.3 356.0L107.3 357.6M129.8 286.9L131.6 286.9M129.8 304.0L131.6 304.0M129.8 322.5L131.6 322.5M129.8 344.8L131.6 344.8M145.2 356.0L145.2 357.6M162.7 356.0L162.7 357.6M182.5 356.0L182.5 357.6M199.4 356.0L199.4 357.6M222.2 286.9L224.0 286.9M222.2 304.0L224.0 304.0M222.2 322.5L224.0 322.5M222.2 344.8L224.0 344.8M237.5 356.0L237.5 357.6M255.0 356.0L255.0 357.6M274.8 356.0L274.8 357.6M291.6 356.0L291.6 357.6M313.1 286.9L314.9 286.9M313.1 304.0L314.9 304.0M313.1 322.5L314.9 322.5M313.1 344.8L314.9 344.8M328.5 356.0L328.5 357.6M345.9 356.0L345.9 357.6M365.7 356.0L365.7 357.6M382.6 356.0L382.6 357.6M434.3 449.0L436.1 449.0M434.3 470.5L436.1 470.5M434.3 491.1L436.1 491.1M434.3 512.6L436.1 512.6M434.3 528.8L436.1 528.8M441.1 533.7L441.1 535.3M457.2 533.7L457.2 535.3M477.8 533.7L477.8 535.3M499.1 533.7L499.1 535.3M519.5 533.7L519.5 535.3M544.9 449.0L546.7 449.0M544.9 470.5L546.7 470.5M544.9 491.1L546.7 491.1M544.9 512.6L546.7 512.6M544.9 528.8L546.7 528.8M551.7 533.7L551.7 535.3M567.8 533.7L567.8 535.3M588.3 533.7L588.3 535.3M609.5 533.7L609.5 535.3M629.9 533.7L629.9 535.3M433.5 607.7L435.3 607.7M433.5 629.3L435.3 629.3M433.5 650.0L435.3 650.0M433.5 671.6L435.3 671.6M433.5 687.9L435.3 687.9M440.3 692.8L440.3 694.4M456.4 692.8L456.4 694.4M477.0 692.8L477.0 694.4M498.3 692.8L498.3 694.4M518.8 692.8L518.8 694.4M544.2 607.7L546.0 607.7M544.2 629.3L546.0 629.3M544.2 650.0L546.0 650.0M544.2 671.6L546.0 671.6M544.2 687.9L546.0 687.9M551.0 692.8L551.0 694.4M567.1 692.8L567.1 694.4M587.6 692.8L587.6 694.4M608.8 692.8L608.8 694.4M629.2 692.8L629.2 694.4" stroke="#222" stroke-width="0.9" fill="none"/>
<path d="M64.7 133.6L64.7 134.5M67.7 133.6L67.7 134.5M69.8 133.6L69.8 134.5M71.5 133.6L71.5 134.5M72.9 133.6L72.9 134.5M74.1 133.6L74.1 134.5M74.9 133.6L74.9 134.5M75.8 133.6L75.8 134.5M81.7 133.6L81.7 134.5M84.8 133.6L84.8 134.5M86.8 133.6L86.8 134.5M88.5 133.6L88.5 134.5M89.9 133.6L89.9 134.5M91.1 133.6L91.1 134.5M91.9 133.6L91.9 134.5M92.8 133.6L92.8 134.5M98.5 133.6L98.5 134.5M101.5 133.6L101.5 134.5M103.4 133.6L103.4 134.5M105.1 133.6L105.1 134.5M106.4 133.6L106.4 134.5M107.5 133.6L107.5 134.5M108.3 133.6L108.3 134.5M109.1 133.6L109.1 134.5M112.2 133.6L112.2 134.5M113.5 133.6L113.5 134.5M114.4 133.6L114.4 134.5M115.1 133.6L115.1 134.5M115.7 133.6L115.7 134.5M116.2 133.6L116.2 134.5M116.6 133.6L116.6 134.5M57.3 133.6L57.3 134.5M44.1 133.6L44.1 134.5M55.1 133.6L55.1 134.5M47.6 133.6L47.6 134.5M153.6 133.6L153.6 134.5M156.7 133.6L156.7 134.5M158.8 133.6L158.8 134.5M160.5 133.6L160.5 134.5M161.9 133.6L161.9 134.5M163.1 133.6L163.1 134.5M163.9 133.6L163.9 134.5M164.8 133.6L164.8 134.5M170.7 133.6L170.7 134.5M173.8 133.6L173.8 134.5M175.8 133.6L175.8 134.5M177.6 133.6L177.6 134.5M178.9 133.6L178.9 134.5M180.1 133.6L180.1 134.5M181.0 133.6L181.0 134.5M181.8 133.6L181.8 134.5M187.6 133.6L187.6 134.5M190.5 133.6L190.5 134.5M192.5 133.6L192.5 134.5M194.1 133.6L194.1 134.5M195.4 133.6L195.4 134.5M196.6 133.6L196.6 134.5M197.4 133.6L197.4 134.5M198.2 133.6L198.2 134.5M201.2 133.6L201.2 134.5M202.6 133.6L202.6 134.5M203.5 133.6L203.5 134.5M204.2 133.6L204.2 134.5M204.8 133.6L204.8 134.5M205.3 133.6L205.3 134.5M205.7 133.6L205.7 134.5M146.3 133.6L146.3 134.5M133.1 133.6L133.1 134.5M144.1 133.6L144.1 134.5M136.5 133.6L136.5 134.5M242.5 133.6L242.5 134.5M245.5 133.6L245.5 134.5M247.6 133.6L247.6 134.5M249.3 133.6L249.3 134.5M250.7 133.6L250.7 134.5M251.9 133.6L251.9 134.5M252.8 133.6L252.8 134.5M253.6 133.6L253.6 134.5M259.6 133.6L259.6 134.5M262.7 133.6L262.7 134.5M264.7 133.6L264.7 134.5M266.4 133.6L266.4 134.5M267.8 133.6L267.8 134.5M269.0 133.6L269.0 134.5M269.8 133.6L269.8 134.5M270.7 133.6L270.7 134.5M276.5 133.6L276.5 134.5M279.4 133.6L279.4 134.5M281.4 133.6L281.4 134.5M283.0 133.6L283.0 134.5M284.3 133.6L284.3 134.5M285.5 133.6L285.5 134.5M286.3 133.6L286.3 134.5M287.1 133.6L287.1 134.5M290.1 133.6L290.1 134.5M291.5 133.6L291.5 134.5M292.3 133.6L292.3 134.5M293.1 133.6L293.1 134.5M293.7 133.6L293.7 134.5M294.2 133.6L294.2 134.5M294.6 133.6L294.6 134.5M235.1 133.6L235.1 134.5M221.9 133.6L221.9 134.5M232.9 133.6L232.9 134.5M225.3 133.6L225.3 134.5M331.5 133.6L331.5 134.5M334.6 133.6L334.6 134.5M336.7 133.6L336.7 134.5M338.4 133.6L338.4 134.5M339.7 133.6L339.7 134.5M340.9 133.6L340.9 134.5M341.8 133.6L341.8 134.5M342.6 133.6L342.6 134.5M348.6 133.6L348.6 134.5M351.6 133.6L351.6 134.5M353.7 133.6L353.7 134.5M355.4 133.6L355.4 134.5M356.7 133.6L356.7 134.5M357.9 133.6L357.9 134.5M358.8 133.6L358.8 134.5M359.6 133.6L359.6 134.5M365.3 133.6L365.3 134.5M368.3 133.6L368.3 134.5M370.2 133.6L370.2 134.5M371.9 133.6L371.9 134.5M373.2 133.6L373.2 134.5M374.3 133.6L374.3 134.5M375.1 133.6L375.1 134.5M375.9 133.6L375.9 134.5M379.0 133.6L379.0 134.5M380.3 133.6L380.3 134.5M381.2 133.6L381.2 134.5M381.9 133.6L381.9 134.5M382.5 133.6L382.5 134.5M383.0 133.6L383.0 134.5M383.4 133.6L383.4 134.5M324.2 133.6L324.2 134.5M311.0 133.6L311.0 134.5M322.0 133.6L322.0 134.5M314.5 133.6L314.5 134.5M464.5 151.8L464.5 152.7M468.0 151.8L468.0 152.7M470.3 151.8L470.3 152.7M472.2 151.8L472.2 152.7M473.7 151.8L473.7 152.7M475.1 151.8L475.1 152.7M476.0 151.8L476.0 152.7M477.0 151.8L477.0 152.7M483.6 151.8L483.6 152.7M487.0 151.8L487.0 152.7M489.2 151.8L489.2 152.7M491.1 151.8L491.1 152.7M492.6 151.8L492.6 152.7M493.9 151.8L493.9 152.7M494.8 151.8L494.8 152.7M495.8 151.8L495.8 152.7M502.6 151.8L502.6 152.7M506.2 151.8L506.2 152.7M508.5 151.8L508.5 152.7M510.5 151.8L510.5 152.7M512.1 151.8L512.1 152.7M513.4 151.8L513.4 152.7M514.4 151.8L514.4 152.7M515.4 151.8L515.4 152.7M519.3 151.8L519.3 152.7M521.0 151.8L521.0 152.7M522.2 151.8L522.2 152.7M523.1 151.8L523.1 152.7M523.9 151.8L523.9 152.7M524.6 151.8L524.6 152.7M525.0 151.8L525.0 152.7M454.1 151.8L454.1 152.7M437.1 151.8L437.1 152.7M449.4 151.8L449.4 152.7M439.7 151.8L439.7 152.7M80.8 526.6L80.8 527.5M84.1 526.6L84.1 527.5M86.2 526.6L86.2 527.5M88.0 526.6L88.0 527.5M89.5 526.6L89.5 527.5M90.7 526.6L90.7 527.5M91.6 526.6L91.6 527.5M92.5 526.6L92.5 527.5M98.5 526.6L98.5 527.5M101.6 526.6L101.6 527.5M103.6 526.6L103.6 527.5M105.3 526.6L105.3 527.5M106.7 526.6L106.7 527.5M107.9 526.6L107.9 527.5M108.7 526.6L108.7 527.5M109.6 526.6L109.6 527.5M115.5 526.6L115.5 527.5M118.5 526.6L118.5 527.5M120.6 526.6L120.6 527.5M122.3 526.6L122.3 527.5M123.6 526.6L123.6 527.5M124.8 526.6L124.8 527.5M125.7 526.6L125.7 527.5M126.5 526.6L126.5 527.5M129.5 526.6L129.5 527.5M130.7 526.6L130.7 527.5M131.6 526.6L131.6 527.5M132.3 526.6L132.3 527.5M132.8 526.6L132.8 527.5M133.3 526.6L133.3 527.5M133.7 526.6L133.7 527.5M73.4 526.6L73.4 527.5M56.6 526.6L56.6 527.5M71.3 526.6L71.3 527.5M61.7 526.6L61.7 527.5M181.0 526.6L181.0 527.5M184.2 526.6L184.2 527.5M186.3 526.6L186.3 527.5M188.1 526.6L188.1 527.5M189.6 526.6L189.6 527.5M190.8 526.6L190.8 527.5M191.7 526.6L191.7 527.5M192.6 526.6L192.6 527.5M198.6 526.6L198.6 527.5M201.6 526.6L201.6 527.5M203.7 526.6L203.7 527.5M205.4 526.6L205.4 527.5M206.7 526.6L206.7 527.5M207.9 526.6L207.9 527.5M208.8 526.6L208.8 527.5M209.6 526.6L209.6 527.5M215.5 526.6L215.5 527.5M218.6 526.6L218.6 527.5M220.6 526.6L220.6 527.5M222.3 526.6L222.3 527.5M223.6 526.6L223.6 527.5M224.8 526.6L224.8 527.5M225.7 526.6L225.7 527.5M226.5 526.6L226.5 527.5M229.5 526.6L229.5 527.5M230.7 526.6L230.7 527.5M231.6 526.6L231.6 527.5M232.3 526.6L232.3 527.5M232.9 526.6L232.9 527.5M233.3 526.6L233.3 527.5M233.7 526.6L233.7 527.5M173.6 526.6L173.6 527.5M156.7 526.6L156.7 527.5M171.5 526.6L171.5 527.5M161.9 526.6L161.9 527.5M279.8 526.6L279.8 527.5M283.0 526.6L283.0 527.5M285.2 526.6L285.2 527.5M287.0 526.6L287.0 527.5M288.4 526.6L288.4 527.5M289.7 526.6L289.7 527.5M290.6 526.6L290.6 527.5M291.5 526.6L291.5 527.5M297.4 526.6L297.4 527.5M300.5 526.6L300.5 527.5M302.5 526.6L302.5 527.5M304.2 526.6L304.2 527.5M305.6 526.6L305.6 527.5M306.8 526.6L306.8 527.5M307.6 526.6L307.6 527.5M308.5 526.6L308.5 527.5M314.4 526.6L314.4 527.5M317.5 526.6L317.5 527.5M319.5 526.6L319.5 527.5M321.2 526.6L321.2 527.5M322.5 526.6L322.5 527.5M323.7 526.6L323.7 527.5M324.6 526.6L324.6 527.5M325.4 526.6L325.4 527.5M328.4 526.6L328.4 527.5M329.6 526.6L329.6 527.5M330.5 526.6L330.5 527.5M331.2 526.6L331.2 527.5M331.7 526.6L331.7 527.5M332.2 526.6L332.2 527.5M332.6 526.6L332.6 527.5M272.4 526.6L272.4 527.5M255.5 526.6L255.5 527.5M270.3 526.6L270.3 527.5M260.7 526.6L260.7 527.5M81.4 634.2L81.4 635.1M84.6 634.2L84.6 635.1M86.7 634.2L86.7 635.1M88.5 634.2L88.5 635.1M89.9 634.2L89.9 635.1M91.1 634.2L91.1 635.1M92.0 634.2L92.0 635.1M92.9 634.2L92.9 635.1M98.8 634.2L98.8 635.1M101.9 634.2L101.9 635.1M103.9 634.2L103.9 635.1M105.6 634.2L105.6 635.1M106.9 634.2L106.9 635.1M108.1 634.2L108.1 635.1M109.0 634.2L109.0 635.1M109.8 634.2L109.8 635.1M115.7 634.2L115.7 635.1M118.7 634.2L118.7 635.1M120.7 634.2L120.7 635.1M122.4 634.2L122.4 635.1M123.7 634.2L123.7 635.1M124.9 634.2L124.9 635.1M125.7 634.2L125.7 635.1M126.6 634.2L126.6 635.1M129.5 634.2L129.5 635.1M130.8 634.2L130.8 635.1M131.6 634.2L131.6 635.1M132.3 634.2L132.3 635.1M132.9 634.2L132.9 635.1M133.4 634.2L133.4 635.1M133.7 634.2L133.7 635.1M74.0 634.2L74.0 635.1M57.3 634.2L57.3 635.1M71.9 634.2L71.9 635.1M62.4 634.2L62.4 635.1M181.1 634.2L181.1 635.1M184.3 634.2L184.3 635.1M186.5 634.2L186.5 635.1M188.2 634.2L188.2 635.1M189.7 634.2L189.7 635.1M190.9 634.2L190.9 635.1M191.8 634.2L191.8 635.1M192.7 634.2L192.7 635.1M198.7 634.2L198.7 635.1M201.7 634.2L201.7 635.1M203.8 634.2L203.8 635.1M205.4 634.2L205.4 635.1M206.8 634.2L206.8 635.1M208.0 634.2L208.0 635.1M208.8 634.2L208.8 635.1M209.7 634.2L209.7 635.1M215.6 634.2L215.6 635.1M218.6 634.2L218.6 635.1M220.6 634.2L220.6 635.1M222.3 634.2L222.3 635.1M223.7 634.2L223.7 635.1M224.9 634.2L224.9 635.1M225.7 634.2L225.7 635.1M226.5 634.2L226.5 635.1M229.5 634.2L229.5 635.1M230.7 634.2L230.7 635.1M231.6 634.2L231.6 635.1M232.3 634.2L232.3 635.1M232.9 634.2L232.9 635.1M233.3 634.2L233.3 635.1M233.7 634.2L233.7 635.1M173.7 634.2L173.7 635.1M156.9 634.2L156.9 635.1M171.6 634.2L171.6 635.1M162.1 634.2L162.1 635.1M280.1 634.2L280.1 635.1M283.3 634.2L283.3 635.1M285.4 634.2L285.4 635.1M287.2 634.2L287.2 635.1M288.7 634.2L288.7 635.1M289.9 634.2L289.9 635.1M290.8 634.2L290.8 635.1M291.7 634.2L291.7 635.1M297.7 634.2L297.7 635.1M300.7 634.2L300.7 635.1M302.8 634.2L302.8 635.1M304.5 634.2L304.5 635.1M305.8 634.2L305.8 635.1M307.0 634.2L307.0 635.1M307.9 634.2L307.9 635.1M308.7 634.2L308.7 635.1M314.6 634.2L314.6 635.1M317.7 634.2L317.7 635.1M319.7 634.2L319.7 635.1M321.4 634.2L321.4 635.1M322.7 634.2L322.7 635.1M323.9 634.2L323.9 635.1M324.8 634.2L324.8 635.1M325.6 634.2L325.6 635.1M328.6 634.2L328.6 635.1M329.8 634.2L329.8 635.1M330.7 634.2L330.7 635.1M331.4 634.2L331.4 635.1M332.0 634.2L332.0 635.1M332.4 634.2L332.4 635.1M332.8 634.2L332.8 635.1M272.7 634.2L272.7 635.1M255.8 634.2L255.8 635.1M270.6 634.2L270.6 635.1M261.0 634.2L261.0 635.1M80.4 740.5L80.4 741.4M83.7 740.5L83.7 741.4M85.8 740.5L85.8 741.4M87.6 740.5L87.6 741.4M89.1 740.5L89.1 741.4M90.3 740.5L90.3 741.4M91.2 740.5L91.2 741.4M92.1 740.5L92.1 741.4M98.2 740.5L98.2 741.4M101.3 740.5L101.3 741.4M103.3 740.5L103.3 741.4M105.1 740.5L105.1 741.4M106.4 740.5L106.4 741.4M107.6 740.5L107.6 741.4M108.5 740.5L108.5 741.4M109.4 740.5L109.4 741.4M115.3 740.5L115.3 741.4M118.4 740.5L118.4 741.4M120.5 740.5L120.5 741.4M122.2 740.5L122.2 741.4M123.5 740.5L123.5 741.4M124.7 740.5L124.7 741.4M125.6 740.5L125.6 741.4M126.4 740.5L126.4 741.4M129.4 740.5L129.4 741.4M130.7 740.5L130.7 741.4M131.6 740.5L131.6 741.4M132.3 740.5L132.3 741.4M132.8 740.5L132.8 741.4M133.3 740.5L133.3 741.4M133.7 740.5L133.7 741.4M72.9 740.5L72.9 741.4M55.9 740.5L55.9 741.4M70.8 740.5L70.8 741.4M61.1 740.5L61.1 741.4M182.7 740.5L182.7 741.4M186.0 740.5L186.0 741.4M188.1 740.5L188.1 741.4M190.0 740.5L190.0 741.4M191.4 740.5L191.4 741.4M192.7 740.5L192.7 741.4M193.6 740.5L193.6 741.4M194.5 740.5L194.5 741.4M200.6 740.5L200.6 741.4M203.7 740.5L203.7 741.4M205.7 740.5L205.7 741.4M207.5 740.5L207.5 741.4M208.8 740.5L208.8 741.4M210.0 740.5L210.0 741.4M210.9 740.5L210.9 741.4M211.8 740.5L211.8 741.4M217.8 740.5L217.8 741.4M220.8 740.5L220.8 741.4M222.9 740.5L222.9 741.4M224.6 740.5L224.6 741.4M226.0 740.5L226.0 741.4M227.2 740.5L227.2 741.4M228.0 740.5L228.0 741.4M228.9 740.5L228.9 741.4M231.9 740.5L231.9 741.4M233.2 740.5L233.2 741.4M234.0 740.5L234.0 741.4M234.8 740.5L234.8 741.4M235.3 740.5L235.3 741.4M235.8 740.5L235.8 741.4M236.2 740.5L236.2 741.4M175.2 740.5L175.2 741.4M158.1 740.5L158.1 741.4M173.1 740.5L173.1 741.4M163.3 740.5L163.3 741.4M281.6 740.5L281.6 741.4M284.9 740.5L284.9 741.4M287.0 740.5L287.0 741.4M288.9 740.5L288.9 741.4M290.3 740.5L290.3 741.4M291.6 740.5L291.6 741.4M292.5 740.5L292.5 741.4M293.4 740.5L293.4 741.4M299.5 740.5L299.5 741.4M302.6 740.5L302.6 741.4M304.6 740.5L304.6 741.4M306.4 740.5L306.4 741.4M307.7 740.5L307.7 741.4M308.9 740.5L308.9 741.4M309.8 740.5L309.8 741.4M310.7 740.5L310.7 741.4M316.7 740.5L316.7 741.4M319.7 740.5L319.7 741.4M321.8 740.5L321.8 741.4M323.5 740.5L323.5 741.4M324.9 740.5L324.9 741.4M326.1 740.5L326.1 741.4M326.9 740.5L326.9 741.4M327.8 740.5L327.8 741.4M330.8 740.5L330.8 741.4M332.1 740.5L332.1 741.4M332.9 740.5L332.9 741.4M333.7 740.5L333.7 741.4M334.2 740.5L334.2 741.4M334.7 740.5L334.7 741.4M335.1 740.5L335.1 741.4M274.1 740.5L274.1 741.4M257.0 740.5L257.0 741.4M272.0 740.5L272.0 741.4M262.2 740.5L262.2 741.4M38.5 264.1L39.5 264.1M41.4 266.0L41.4 267.0M43.3 266.0L43.3 267.0M38.5 260.3L39.5 260.3M38.5 258.4L39.5 258.4M49.0 266.0L49.0 267.0M38.5 254.6L39.5 254.6M38.5 252.7L39.5 252.7M52.9 266.0L52.9 267.0M38.5 250.8L39.5 250.8M38.5 246.9L39.5 246.9M38.5 245.0L39.5 245.0M60.5 266.0L60.5 267.0M38.5 241.2L39.5 241.2M64.3 266.0L64.3 267.0M66.2 266.0L66.2 267.0M38.5 237.4L39.5 237.4M68.2 266.0L68.2 267.0M38.5 235.5L39.5 235.5M38.5 233.6L39.5 233.6M38.5 229.8L39.5 229.8M75.8 266.0L75.8 267.0M38.5 226.0L39.5 226.0M79.6 266.0L79.6 267.0M38.5 224.1L39.5 224.1M38.5 222.2L39.5 222.2M83.4 266.0L83.4 267.0M38.5 220.3L39.5 220.3M38.5 218.4L39.5 218.4M87.2 266.0L87.2 267.0M38.5 216.5L39.5 216.5M91.1 266.0L91.1 267.0M96.8 266.0L96.8 267.0M38.5 206.9L39.5 206.9M98.7 266.0L98.7 267.0M38.5 205.0L39.5 205.0M100.6 266.0L100.6 267.0M38.5 203.1L39.5 203.1M102.5 266.0L102.5 267.0M108.3 266.0L108.3 267.0M38.5 195.5L39.5 195.5M110.2 266.0L110.2 267.0M112.1 266.0L112.1 267.0M38.5 191.7L39.5 191.7M114.0 266.0L114.0 267.0M130.6 262.2L131.6 262.2M135.4 266.0L135.4 267.0M139.2 266.0L139.2 267.0M141.1 266.0L141.1 267.0M130.6 254.6L131.6 254.6M145.0 266.0L145.0 267.0M146.9 266.0L146.9 267.0M130.6 248.9L131.6 248.9M148.8 266.0L148.8 267.0M130.6 246.9L131.6 246.9M152.6 266.0L152.6 267.0M130.6 243.1L131.6 243.1M154.5 266.0L154.5 267.0M130.6 239.3L131.6 239.3M158.3 266.0L158.3 267.0M162.1 266.0L162.1 267.0M130.6 233.6L131.6 233.6M164.0 266.0L164.0 267.0M130.6 231.7L131.6 231.7M165.9 266.0L165.9 267.0M130.6 229.8L131.6 229.8M167.8 266.0L167.8 267.0M169.8 266.0L169.8 267.0M130.6 224.1L131.6 224.1M173.6 266.0L173.6 267.0M175.5 266.0L175.5 267.0M177.4 266.0L177.4 267.0M179.3 266.0L179.3 267.0M130.6 216.5L131.6 216.5M181.2 266.0L181.2 267.0M130.6 214.6L131.6 214.6M183.1 266.0L183.1 267.0M130.6 212.7L131.6 212.7M130.6 208.9L131.6 208.9M188.8 266.0L188.8 267.0M190.7 266.0L190.7 267.0M192.6 266.0L192.6 267.0M130.6 201.2L131.6 201.2M196.5 266.0L196.5 267.0M130.6 199.3L131.6 199.3M198.4 266.0L198.4 267.0M200.3 266.0L200.3 267.0M202.2 266.0L202.2 267.0M204.1 266.0L204.1 267.0M206.0 266.0L206.0 267.0M223.0 264.1L224.0 264.1M225.9 266.0L225.9 267.0M223.0 262.2L224.0 262.2M227.8 266.0L227.8 267.0M223.0 260.3L224.0 260.3M229.7 266.0L229.7 267.0M223.0 258.4L224.0 258.4M231.6 266.0L231.6 267.0M223.0 256.5L224.0 256.5M235.4 266.0L235.4 267.0M223.0 252.7L224.0 252.7M237.3 266.0L237.3 267.0M241.1 266.0L241.1 267.0M243.0 266.0L243.0 267.0M244.9 266.0L244.9 267.0M223.0 243.1L224.0 243.1M246.8 266.0L246.8 267.0M223.0 241.2L224.0 241.2M248.7 266.0L248.7 267.0M223.0 239.3L224.0 239.3M250.6 266.0L250.6 267.0M223.0 237.4L224.0 237.4M252.5 266.0L252.5 267.0M223.0 235.5L224.0 235.5M254.4 266.0L254.4 267.0M223.0 233.6L224.0 233.6M256.3 266.0L256.3 267.0M260.1 266.0L260.1 267.0M223.0 227.9L224.0 227.9M265.9 266.0L265.9 267.0M267.8 266.0L267.8 267.0M223.0 220.3L224.0 220.3M269.7 266.0L269.7 267.0M223.0 218.4L224.0 218.4M271.6 266.0L271.6 267.0M223.0 214.6L224.0 214.6M275.4 266.0L275.4 267.0M223.0 212.7L224.0 212.7M223.0 210.8L224.0 210.8M223.0 208.9L224.0 208.9M281.1 266.0L281.1 267.0M283.0 266.0L283.0 267.0M223.0 203.1L224.0 203.1M286.8 266.0L286.8 267.0M223.0 201.2L224.0 201.2M288.7 266.0L288.7 267.0M290.6 266.0L290.6 267.0M223.0 197.4L224.0 197.4M223.0 195.5L224.0 195.5M223.0 193.6L224.0 193.6M223.0 191.7L224.0 191.7M316.8 266.0L316.8 267.0M313.9 262.2L314.9 262.2M320.6 266.0L320.6 267.0M324.4 266.0L324.4 267.0M313.9 254.6L314.9 254.6M328.2 266.0L328.2 267.0M313.9 250.8L314.9 250.8M313.9 248.9L314.9 248.9M332.0 266.0L332.0 267.0M313.9 246.9L314.9 246.9M313.9 245.0L314.9 245.0M335.9 266.0L335.9 267.0M313.9 243.1L314.9 243.1M337.8 266.0L337.8 267.0M313.9 241.2L314.9 241.2M339.7 266.0L339.7 267.0M313.9 239.3L314.9 239.3M313.9 237.4L314.9 237.4M343.5 266.0L343.5 267.0M313.9 235.5L314.9 235.5M345.4 266.0L345.4 267.0M313.9 233.6L314.9 233.6M347.3 266.0L347.3 267.0M349.2 266.0L349.2 267.0M313.9 229.8L314.9 229.8M351.1 266.0L351.1 267.0M313.9 227.9L314.9 227.9M353.0 266.0L353.0 267.0M313.9 226.0L314.9 226.0M354.9 266.0L354.9 267.0M313.9 222.2L314.9 222.2M360.6 266.0L360.6 267.0M313.9 218.4L314.9 218.4M313.9 216.5L314.9 216.5M313.9 214.6L314.9 214.6M313.9 212.7L314.9 212.7M368.2 266.0L368.2 267.0M313.9 210.8L314.9 210.8M370.1 266.0L370.1 267.0M313.9 206.9L314.9 206.9M313.9 205.0L314.9 205.0M375.9 266.0L375.9 267.0M313.9 203.1L314.9 203.1M377.8 266.0L377.8 267.0M313.9 201.2L314.9 201.2M379.7 266.0L379.7 267.0M313.9 195.5L314.9 195.5M385.4 266.0L385.4 267.0M313.9 193.6L314.9 193.6M43.3 356.0L43.3 357.0M38.5 350.3L39.5 350.3M45.2 356.0L45.2 357.0M47.1 356.0L47.1 357.0M38.5 346.4L39.5 346.4M49.0 356.0L49.0 357.0M51.0 356.0L51.0 357.0M52.9 356.0L52.9 357.0M38.5 340.7L39.5 340.7M38.5 338.8L39.5 338.8M56.7 356.0L56.7 357.0M38.5 336.9L39.5 336.9M58.6 356.0L58.6 357.0M38.5 333.1L39.5 333.1M38.5 331.2L39.5 331.2M66.2 356.0L66.2 357.0M68.2 356.0L68.2 357.0M38.5 325.4L39.5 325.4M70.1 356.0L70.1 357.0M72.0 356.0L72.0 357.0M38.5 321.6L39.5 321.6M38.5 319.7L39.5 319.7M75.8 356.0L75.8 357.0M38.5 317.8L39.5 317.8M38.5 315.9L39.5 315.9M38.5 314.0L39.5 314.0M38.5 312.1L39.5 312.1M38.5 310.2L39.5 310.2M38.5 308.2L39.5 308.2M87.2 356.0L87.2 357.0M89.2 356.0L89.2 357.0M38.5 304.4L39.5 304.4M38.5 302.5L39.5 302.5M93.0 356.0L93.0 357.0M38.5 300.6L39.5 300.6M94.9 356.0L94.9 357.0M38.5 298.7L39.5 298.7M96.8 356.0L96.8 357.0M38.5 296.8L39.5 296.8M98.7 356.0L98.7 357.0M100.6 356.0L100.6 357.0M38.5 293.0L39.5 293.0M102.5 356.0L102.5 357.0M38.5 291.1L39.5 291.1M38.5 289.2L39.5 289.2M106.3 356.0L106.3 357.0M38.5 287.2L39.5 287.2M108.3 356.0L108.3 357.0M38.5 285.3L39.5 285.3M112.1 356.0L112.1 357.0M130.6 352.2L131.6 352.2M130.6 348.4L131.6 348.4M141.1 356.0L141.1 357.0M130.6 344.5L131.6 344.5M130.6 342.6L131.6 342.6M130.6 338.8L131.6 338.8M148.8 356.0L148.8 357.0M130.6 336.9L131.6 336.9M130.6 335.0L131.6 335.0M152.6 356.0L152.6 357.0M130.6 333.1L131.6 333.1M154.5 356.0L154.5 357.0M130.6 327.4L131.6 327.4M160.2 356.0L160.2 357.0M130.6 325.4L131.6 325.4M162.1 356.0L162.1 357.0M130.6 323.5L131.6 323.5M164.0 356.0L164.0 357.0M130.6 321.6L131.6 321.6M165.9 356.0L165.9 357.0M130.6 319.7L131.6 319.7M167.8 356.0L167.8 357.0M130.6 317.8L131.6 317.8M169.8 356.0L169.8 357.0M130.6 315.9L131.6 315.9M130.6 312.1L131.6 312.1M175.5 356.0L175.5 357.0M177.4 356.0L177.4 357.0M130.6 308.2L131.6 308.2M179.3 356.0L179.3 357.0M130.6 306.3L131.6 306.3M181.2 356.0L181.2 357.0M130.6 304.4L131.6 304.4M183.1 356.0L183.1 357.0M130.6 302.5L131.6 302.5M130.6 298.7L131.6 298.7M188.8 356.0L188.8 357.0M130.6 296.8L131.6 296.8M190.7 356.0L190.7 357.0M130.6 294.9L131.6 294.9M192.6 356.0L192.6 357.0M130.6 293.0L131.6 293.0M194.5 356.0L194.5 357.0M198.4 356.0L198.4 357.0M130.6 287.2L131.6 287.2M200.3 356.0L200.3 357.0M202.2 356.0L202.2 357.0M204.1 356.0L204.1 357.0M223.0 354.1L224.0 354.1M225.9 356.0L225.9 357.0M223.0 352.2L224.0 352.2M227.8 356.0L227.8 357.0M223.0 350.3L224.0 350.3M223.0 348.4L224.0 348.4M231.6 356.0L231.6 357.0M233.5 356.0L233.5 357.0M235.4 356.0L235.4 357.0M223.0 342.6L224.0 342.6M237.3 356.0L237.3 357.0M223.0 340.7L224.0 340.7M239.2 356.0L239.2 357.0M223.0 338.8L224.0 338.8M223.0 336.9L224.0 336.9M243.0 356.0L243.0 357.0M223.0 335.0L224.0 335.0M244.9 356.0L244.9 357.0M223.0 333.1L224.0 333.1M248.7 356.0L248.7 357.0M223.0 329.3L224.0 329.3M250.6 356.0L250.6 357.0M223.0 327.4L224.0 327.4M223.0 325.4L224.0 325.4M254.4 356.0L254.4 357.0M223.0 323.5L224.0 323.5M256.3 356.0L256.3 357.0M223.0 321.6L224.0 321.6M262.1 356.0L262.1 357.0M223.0 315.9L224.0 315.9M264.0 356.0L264.0 357.0M223.0 310.2L224.0 310.2M269.7 356.0L269.7 357.0M223.0 308.2L224.0 308.2M271.6 356.0L271.6 357.0M223.0 306.3L224.0 306.3M223.0 304.4L224.0 304.4M279.2 356.0L279.2 357.0M223.0 296.8L224.0 296.8M283.0 356.0L283.0 357.0M223.0 294.9L224.0 294.9M288.7 356.0L288.7 357.0M223.0 289.2L224.0 289.2M292.5 356.0L292.5 357.0M223.0 285.3L224.0 285.3M294.4 356.0L294.4 357.0M223.0 283.4L224.0 283.4M296.3 356.0L296.3 357.0M223.0 281.5L224.0 281.5M298.2 356.0L298.2 357.0M313.9 354.1L314.9 354.1M316.8 356.0L316.8 357.0M318.7 356.0L318.7 357.0M313.9 350.3L314.9 350.3M320.6 356.0L320.6 357.0M313.9 348.4L314.9 348.4M313.9 346.4L314.9 346.4M324.4 356.0L324.4 357.0M313.9 344.5L314.9 344.5M313.9 342.6L314.9 342.6M328.2 356.0L328.2 357.0M313.9 340.7L314.9 340.7M330.1 356.0L330.1 357.0M313.9 338.8L314.9 338.8M333.9 356.0L333.9 357.0M313.9 335.0L314.9 335.0M335.9 356.0L335.9 357.0M313.9 333.1L314.9 333.1M341.6 356.0L341.6 357.0M343.5 356.0L343.5 357.0M345.4 356.0L345.4 357.0M313.9 323.5L314.9 323.5M347.3 356.0L347.3 357.0M313.9 321.6L314.9 321.6M349.2 356.0L349.2 357.0M351.1 356.0L351.1 357.0M353.0 356.0L353.0 357.0M313.9 315.9L314.9 315.9M354.9 356.0L354.9 357.0M313.9 314.0L314.9 314.0M356.8 356.0L356.8 357.0M313.9 312.1L314.9 312.1M358.7 356.0L358.7 357.0M313.9 310.2L314.9 310.2M313.9 308.2L314.9 308.2M313.9 306.3L314.9 306.3M364.4 356.0L364.4 357.0M366.3 356.0L366.3 357.0M313.9 302.5L314.9 302.5M368.2 356.0L368.2 357.0M313.9 300.6L314.9 300.6M372.1 356.0L372.1 357.0M313.9 296.8L314.9 296.8M374.0 356.0L374.0 357.0M375.9 356.0L375.9 357.0M313.9 293.0L314.9 293.0M379.7 356.0L379.7 357.0M383.5 356.0L383.5 357.0M385.4 356.0L385.4 357.0M313.9 283.4L314.9 283.4M435.1 531.4L436.1 531.4M438.4 533.7L438.4 534.7M435.1 529.1L436.1 529.1M443.1 533.7L443.1 534.7M445.4 533.7L445.4 534.7M435.1 522.2L436.1 522.2M435.1 517.6L436.1 517.6M457.0 533.7L457.0 534.7M435.1 510.7L436.1 510.7M461.7 533.7L461.7 534.7M435.1 503.7L436.1 503.7M466.3 533.7L466.3 534.7M435.1 501.4L436.1 501.4M468.7 533.7L468.7 534.7M471.0 533.7L471.0 534.7M473.3 533.7L473.3 534.7M435.1 492.2L436.1 492.2M478.0 533.7L478.0 534.7M435.1 489.9L436.1 489.9M480.3 533.7L480.3 534.7M435.1 487.6L436.1 487.6M435.1 485.3L436.1 485.3M487.2 533.7L487.2 534.7M435.1 478.4L436.1 478.4M491.9 533.7L491.9 534.7M435.1 473.8L436.1 473.8M435.1 466.9L436.1 466.9M505.9 533.7L505.9 534.7M508.2 533.7L508.2 534.7M510.5 533.7L510.5 534.7M435.1 457.6L436.1 457.6M435.1 455.3L436.1 455.3M515.1 533.7L515.1 534.7M435.1 453.0L436.1 453.0M517.5 533.7L517.5 534.7M522.1 533.7L522.1 534.7M524.5 533.7L524.5 534.7M435.1 443.8L436.1 443.8M526.8 533.7L526.8 534.7M545.7 529.1L546.7 529.1M551.3 533.7L551.3 534.7M553.7 533.7L553.7 534.7M545.7 524.5L546.7 524.5M545.7 522.2L546.7 522.2M545.7 519.9L546.7 519.9M560.6 533.7L560.6 534.7M545.7 517.6L546.7 517.6M562.9 533.7L562.9 534.7M545.7 515.3L546.7 515.3M565.3 533.7L565.3 534.7M567.6 533.7L567.6 534.7M545.7 510.7L546.7 510.7M569.9 533.7L569.9 534.7M545.7 508.3L546.7 508.3M572.2 533.7L572.2 534.7M545.7 506.0L546.7 506.0M545.7 503.7L546.7 503.7M579.2 533.7L579.2 534.7M581.5 533.7L581.5 534.7M583.8 533.7L583.8 534.7M545.7 489.9L546.7 489.9M593.1 533.7L593.1 534.7M545.7 485.3L546.7 485.3M597.7 533.7L597.7 534.7M545.7 478.4L546.7 478.4M602.4 533.7L602.4 534.7M545.7 473.8L546.7 473.8M609.3 533.7L609.3 534.7M545.7 469.2L546.7 469.2M611.7 533.7L611.7 534.7M545.7 466.9L546.7 466.9M614.0 533.7L614.0 534.7M545.7 464.6L546.7 464.6M616.3 533.7L616.3 534.7M545.7 462.2L546.7 462.2M620.9 533.7L620.9 534.7M545.7 457.6L546.7 457.6M545.7 450.7L546.7 450.7M630.2 533.7L630.2 534.7M545.7 448.4L546.7 448.4M632.5 533.7L632.5 534.7M545.7 446.1L546.7 446.1M634.9 533.7L634.9 534.7M637.2 533.7L637.2 534.7M434.3 690.5L435.3 690.5M442.3 692.8L442.3 693.8M434.3 683.5L435.3 683.5M444.6 692.8L444.6 693.8M434.3 678.9L435.3 678.9M449.3 692.8L449.3 693.8M434.3 676.6L435.3 676.6M453.9 692.8L453.9 693.8M458.6 692.8L458.6 693.8M434.3 667.3L435.3 667.3M460.9 692.8L460.9 693.8M434.3 665.0L435.3 665.0M434.3 662.7L435.3 662.7M434.3 660.4L435.3 660.4M470.2 692.8L470.2 693.8M434.3 655.8L435.3 655.8M474.9 692.8L474.9 693.8M477.2 692.8L477.2 693.8M434.3 648.8L435.3 648.8M479.5 692.8L479.5 693.8M434.3 646.5L435.3 646.5M484.2 692.8L484.2 693.8M486.5 692.8L486.5 693.8M434.3 639.6L435.3 639.6M488.8 692.8L488.8 693.8M491.2 692.8L491.2 693.8M434.3 634.9L435.3 634.9M495.8 692.8L495.8 693.8M498.1 692.8L498.1 693.8M434.3 628.0L435.3 628.0M434.3 625.7L435.3 625.7M434.3 621.0L435.3 621.0M434.3 618.7L435.3 618.7M509.8 692.8L509.8 693.8M434.3 616.4L435.3 616.4M512.1 692.8L512.1 693.8M434.3 614.1L435.3 614.1M514.4 692.8L514.4 693.8M516.8 692.8L516.8 693.8M519.1 692.8L519.1 693.8M434.3 602.5L435.3 602.5M545.0 688.2L546.0 688.2M550.6 692.8L550.6 693.8M545.0 685.9L546.0 685.9M553.0 692.8L553.0 693.8M545.0 683.5L546.0 683.5M555.3 692.8L555.3 693.8M545.0 681.2L546.0 681.2M545.0 678.9L546.0 678.9M562.2 692.8L562.2 693.8M564.6 692.8L564.6 693.8M545.0 669.6L546.0 669.6M545.0 667.3L546.0 667.3M571.5 692.8L571.5 693.8M573.8 692.8L573.8 693.8M545.0 662.7L546.0 662.7M578.5 692.8L578.5 693.8M545.0 658.1L546.0 658.1M580.8 692.8L580.8 693.8M545.0 655.8L546.0 655.8M585.4 692.8L585.4 693.8M587.8 692.8L587.8 693.8M545.0 648.8L546.0 648.8M545.0 646.5L546.0 646.5M592.4 692.8L592.4 693.8M594.7 692.8L594.7 693.8M545.0 641.9L546.0 641.9M599.4 692.8L599.4 693.8M545.0 637.2L546.0 637.2M601.7 692.8L601.7 693.8M606.3 692.8L606.3 693.8M545.0 630.3L546.0 630.3M608.6 692.8L608.6 693.8M545.0 625.7L546.0 625.7M613.3 692.8L613.3 693.8M545.0 623.4L546.0 623.4M545.0 621.0L546.0 621.0M617.9 692.8L617.9 693.8M545.0 618.7L546.0 618.7M622.6 692.8L622.6 693.8M545.0 614.1L546.0 614.1M624.9 692.8L624.9 693.8M545.0 611.8L546.0 611.8M627.2 692.8L627.2 693.8M545.0 604.8L546.0 604.8M545.0 602.5L546.0 602.5M636.5 692.8L636.5 693.8" stroke="#444" stroke-width="0.5" fill="none"/>
</svg>
</body></html>
